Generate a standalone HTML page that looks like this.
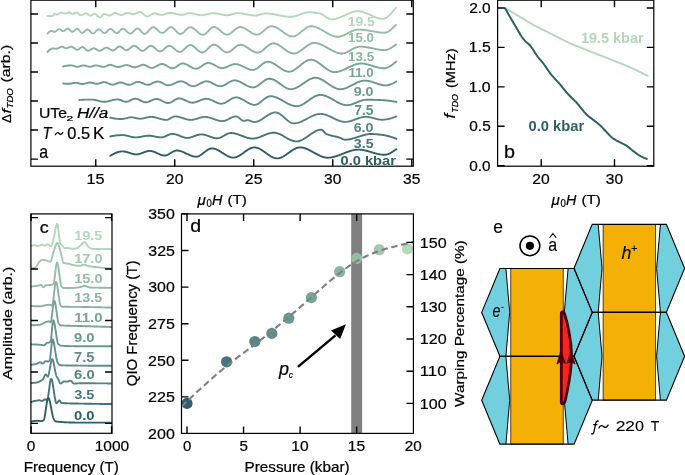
<!DOCTYPE html><html><head><meta charset="utf-8"><style>html,body{margin:0;padding:0;background:#fff;}svg{display:block;will-change:transform;}</style></head><body>
<svg width="685" height="475" viewBox="0 0 685 475" font-family='"Liberation Sans", sans-serif'>
<rect width="685" height="475" fill="#fff"/>
<path d="M47.20,15.90 L47.70,15.93 L48.20,15.95 L48.70,15.97 L49.20,15.98 L49.70,15.99 L50.20,15.99 L50.70,16.00 L51.20,16.00 L51.70,16.00 L52.20,16.00 L52.70,15.75 L53.20,15.15 L53.70,14.49 L54.20,14.00 L54.70,13.92 L55.20,14.13 L55.70,14.45 L56.20,14.71 L56.70,14.80 L57.20,14.69 L57.70,14.47 L58.20,14.16 L58.70,13.80 L59.20,13.43 L59.70,13.07 L60.20,12.78 L60.70,12.58 L61.20,12.50 L61.70,12.56 L62.20,12.72 L62.70,12.93 L63.20,13.17 L63.70,13.38 L64.20,13.54 L64.70,13.60 L65.20,13.55 L65.70,13.42 L66.20,13.24 L66.70,13.02 L67.20,12.81 L67.70,12.61 L68.20,12.47 L68.70,12.40 L69.20,12.45 L69.70,12.61 L70.20,12.86 L70.70,13.15 L71.20,13.44 L71.70,13.69 L72.20,13.85 L72.70,13.90 L73.20,13.81 L73.70,13.62 L74.20,13.36 L74.70,13.09 L75.20,12.83 L75.70,12.63 L76.20,12.51 L76.70,12.53 L77.20,12.73 L77.70,13.05 L78.20,13.45 L78.70,13.89 L79.20,14.32 L79.70,14.69 L80.20,14.97 L80.70,15.10 L81.20,15.07 L81.70,14.96 L82.20,14.80 L82.70,14.58 L83.20,14.35 L83.70,14.10 L84.20,13.87 L84.70,13.67 L85.20,13.51 L85.70,13.42 L86.20,13.41 L86.70,13.54 L87.20,13.78 L87.70,14.10 L88.20,14.45 L88.70,14.80 L89.20,15.12 L89.70,15.36 L90.20,15.49 L90.70,15.48 L91.20,15.35 L91.70,15.14 L92.20,14.88 L92.70,14.59 L93.20,14.31 L93.70,14.07 L94.20,13.89 L94.70,13.80 L95.20,13.87 L95.70,14.12 L96.20,14.51 L96.70,15.00 L97.20,15.54 L97.70,16.09 L98.20,16.59 L98.70,17.01 L99.20,17.30 L99.70,17.40 L100.20,17.30 L100.70,17.02 L101.20,16.61 L101.70,16.12 L102.20,15.59 L102.70,15.08 L103.20,14.64 L103.70,14.30 L104.20,14.12 L104.70,14.11 L105.20,14.19 L105.70,14.31 L106.20,14.47 L106.70,14.66 L107.20,14.86 L107.70,15.05 L108.20,15.23 L108.70,15.37 L109.20,15.46 L109.70,15.50 L110.20,15.43 L110.70,15.26 L111.20,14.99 L111.70,14.67 L112.20,14.31 L112.70,13.94 L113.20,13.60 L113.70,13.29 L114.20,13.06 L114.70,12.92 L115.20,12.91 L115.70,12.98 L116.20,13.11 L116.70,13.30 L117.20,13.52 L117.70,13.77 L118.20,14.03 L118.70,14.28 L119.20,14.52 L119.70,14.72 L120.20,14.88 L120.70,14.97 L121.20,15.00 L121.70,14.94 L122.20,14.82 L122.70,14.64 L123.20,14.42 L123.70,14.18 L124.20,13.92 L124.70,13.67 L125.20,13.43 L125.70,13.22 L126.20,13.05 L126.70,12.94 L127.20,12.90 L127.70,12.92 L128.20,12.99 L128.70,13.08 L129.20,13.20 L129.70,13.34 L130.20,13.49 L130.70,13.63 L131.20,13.77 L131.70,13.90 L132.20,14.00 L132.70,14.07 L133.20,14.10 L133.70,14.08 L134.20,14.00 L134.70,13.86 L135.20,13.69 L135.70,13.48 L136.20,13.26 L136.70,13.03 L137.20,12.79 L137.70,12.57 L138.20,12.37 L138.70,12.21 L139.20,12.08 L139.70,12.01 L140.20,12.01 L140.70,12.11 L141.20,12.32 L141.70,12.60 L142.20,12.96 L142.70,13.36 L143.20,13.80 L143.70,14.25 L144.20,14.70 L144.70,15.14 L145.20,15.54 L145.70,15.90 L146.20,16.18 L146.70,16.39 L147.20,16.49 L147.70,16.48 L148.20,16.39 L148.70,16.22 L149.20,15.99 L149.70,15.72 L150.20,15.41 L150.70,15.08 L151.20,14.75 L151.70,14.43 L152.20,14.13 L152.70,13.86 L153.20,13.64 L153.70,13.49 L154.20,13.41 L154.70,13.41 L155.20,13.45 L155.70,13.53 L156.20,13.64 L156.70,13.77 L157.20,13.92 L157.70,14.07 L158.20,14.23 L158.70,14.38 L159.20,14.53 L159.70,14.66 L160.20,14.77 L160.70,14.85 L161.20,14.89 L161.70,14.90 L162.20,14.86 L162.70,14.79 L163.20,14.68 L163.70,14.55 L164.20,14.40 L164.70,14.24 L165.20,14.06 L165.70,13.88 L166.20,13.70 L166.70,13.53 L167.20,13.37 L167.70,13.22 L168.20,13.09 L168.70,13.00 L169.20,12.93 L169.70,12.90 L170.20,12.91 L170.70,12.93 L171.20,12.97 L171.70,13.02 L172.20,13.09 L172.70,13.17 L173.20,13.26 L173.70,13.36 L174.20,13.46 L174.70,13.57 L175.20,13.69 L175.70,13.80 L176.20,13.92 L176.70,14.04 L177.20,14.15 L177.70,14.26 L178.20,14.36 L178.70,14.46 L179.20,14.55 L179.70,14.62 L180.20,14.69 L180.70,14.74 L181.20,14.78 L181.70,14.80 L182.20,14.80 L182.70,14.76 L183.20,14.69 L183.70,14.59 L184.20,14.47 L184.70,14.33 L185.20,14.17 L185.70,14.02 L186.20,13.86 L186.70,13.70 L187.20,13.56 L187.70,13.43 L188.20,13.33 L188.70,13.25 L189.20,13.21 L189.70,13.20 L190.20,13.22 L190.70,13.25 L191.20,13.31 L191.70,13.37 L192.20,13.45 L192.70,13.54 L193.20,13.64 L193.70,13.75 L194.20,13.86 L194.70,13.98 L195.20,14.10 L195.70,14.22 L196.20,14.35 L196.70,14.47 L197.20,14.58 L197.70,14.70 L198.20,14.80 L198.70,14.90 L199.20,14.98 L199.70,15.06 L200.20,15.12 L200.70,15.16 L201.20,15.19 L201.70,15.20 L202.20,15.19 L202.70,15.16 L203.20,15.11 L203.70,15.04 L204.20,14.96 L204.70,14.87 L205.20,14.76 L205.70,14.65 L206.20,14.53 L206.70,14.41 L207.20,14.28 L207.70,14.15 L208.20,14.02 L208.70,13.89 L209.20,13.77 L209.70,13.66 L210.20,13.55 L210.70,13.46 L211.20,13.37 L211.70,13.30 L212.20,13.25 L212.70,13.22 L213.20,13.20 L213.70,13.21 L214.20,13.23 L214.70,13.26 L215.20,13.31 L215.70,13.37 L216.20,13.44 L216.70,13.52 L217.20,13.61 L217.70,13.70 L218.20,13.81 L218.70,13.91 L219.20,14.02 L219.70,14.14 L220.20,14.25 L220.70,14.36 L221.20,14.48 L221.70,14.59 L222.20,14.69 L222.70,14.80 L223.20,14.89 L223.70,14.98 L224.20,15.06 L224.70,15.13 L225.20,15.19 L225.70,15.24 L226.20,15.27 L226.70,15.29 L227.20,15.30 L227.70,15.28 L228.20,15.23 L228.70,15.16 L229.20,15.07 L229.70,14.96 L230.20,14.84 L230.70,14.70 L231.20,14.56 L231.70,14.40 L232.20,14.25 L232.70,14.09 L233.20,13.94 L233.70,13.79 L234.20,13.64 L234.70,13.51 L235.20,13.39 L235.70,13.29 L236.20,13.21 L236.70,13.15 L237.20,13.11 L237.70,13.10 L238.20,13.11 L238.70,13.13 L239.20,13.16 L239.70,13.20 L240.20,13.25 L240.70,13.31 L241.20,13.37 L241.70,13.45 L242.20,13.53 L242.70,13.61 L243.20,13.70 L243.70,13.80 L244.20,13.90 L244.70,14.00 L245.20,14.10 L245.70,14.21 L246.20,14.32 L246.70,14.42 L247.20,14.53 L247.70,14.64 L248.20,14.74 L248.70,14.84 L249.20,14.94 L249.70,15.03 L250.20,15.12 L250.70,15.21 L251.20,15.28 L251.70,15.35 L252.20,15.42 L252.70,15.47 L253.20,15.52 L253.70,15.55 L254.20,15.58 L254.70,15.60 L255.20,15.60 L255.70,15.58 L256.20,15.53 L256.70,15.46 L257.20,15.37 L257.70,15.26 L258.20,15.14 L258.70,15.00 L259.20,14.86 L259.70,14.70 L260.20,14.55 L260.70,14.39 L261.20,14.24 L261.70,14.09 L262.20,13.94 L262.70,13.81 L263.20,13.69 L263.70,13.59 L264.20,13.51 L264.70,13.45 L265.20,13.41 L265.70,13.40 L266.20,13.41 L266.70,13.42 L267.20,13.44 L267.70,13.47 L268.20,13.50 L268.70,13.54 L269.20,13.59 L269.70,13.64 L270.20,13.70 L270.70,13.76 L271.20,13.83 L271.70,13.90 L272.20,13.98 L272.70,14.06 L273.20,14.15 L273.70,14.23 L274.20,14.32 L274.70,14.42 L275.20,14.51 L275.70,14.61 L276.20,14.71 L276.70,14.81 L277.20,14.91 L277.70,15.01 L278.20,15.11 L278.70,15.21 L279.20,15.31 L279.70,15.41 L280.20,15.51 L280.70,15.61 L281.20,15.71 L281.70,15.80 L282.20,15.89 L282.70,15.98 L283.20,16.07 L283.70,16.15 L284.20,16.23 L284.70,16.31 L285.20,16.38 L285.70,16.45 L286.20,16.51 L286.70,16.57 L287.20,16.62 L287.70,16.67 L288.20,16.71 L288.70,16.74 L289.20,16.77 L289.70,16.78 L290.20,16.80 L290.70,16.80 L291.20,16.79 L291.70,16.76 L292.20,16.71 L292.70,16.65 L293.20,16.57 L293.70,16.48 L294.20,16.37 L294.70,16.25 L295.20,16.12 L295.70,15.98 L296.20,15.82 L296.70,15.67 L297.20,15.50 L297.70,15.33 L298.20,15.15 L298.70,14.97 L299.20,14.79 L299.70,14.61 L300.20,14.42 L300.70,14.24 L301.20,14.06 L301.70,13.88 L302.20,13.70 L302.70,13.53 L303.20,13.37 L303.70,13.21 L304.20,13.07 L304.70,12.93 L305.20,12.80 L305.70,12.69 L306.20,12.58 L306.70,12.50 L307.20,12.42 L307.70,12.36 L308.20,12.33 L308.70,12.30 L309.20,12.30 L309.70,12.31 L310.20,12.32 L310.70,12.34 L311.20,12.36 L311.70,12.39 L312.20,12.42 L312.70,12.46 L313.20,12.50 L313.70,12.55 L314.20,12.60 L314.70,12.65 L315.20,12.71 L315.70,12.78 L316.20,12.84 L316.70,12.91 L317.20,12.98 L317.70,13.05 L318.20,13.13 L318.70,13.21 L319.20,13.28 L319.70,13.38 L320.20,13.52 L320.70,13.70 L321.20,13.91 L321.70,14.16 L322.20,14.44 L322.70,14.74 L323.20,15.06 L323.70,15.40 L324.20,15.74 L324.70,16.10 L325.20,16.45 L325.70,16.81 L326.20,17.15 L326.70,17.49 L327.20,17.82 L327.70,18.12 L328.20,18.41 L328.70,18.66 L329.20,18.89 L329.70,19.08 L330.20,19.23 L330.70,19.33 L331.20,19.39 L331.70,19.40 L332.20,19.38 L332.70,19.35 L333.20,19.30 L333.70,19.24 L334.20,19.16 L334.70,19.07 L335.20,18.97 L335.70,18.85 L336.20,18.72 L336.70,18.58 L337.20,18.43 L337.70,18.26 L338.20,18.09 L338.70,17.91 L339.20,17.73 L339.70,17.53 L340.20,17.33 L340.70,17.12 L341.20,16.91 L341.70,16.69 L342.20,16.47 L342.70,16.24 L343.20,16.02 L343.70,15.79 L344.20,15.56 L344.70,15.32 L345.20,15.09 L345.70,14.86 L346.20,14.63 L346.70,14.40 L347.20,14.18 L347.70,13.95 L348.20,13.73 L348.70,13.52 L349.20,13.31 L349.70,13.11 L350.20,12.91 L350.70,12.72 L351.20,12.54 L351.70,12.37 L352.20,12.21 L352.70,12.05 L353.20,11.91 L353.70,11.78 L354.20,11.66 L354.70,11.55 L355.20,11.46 L355.70,11.37 L356.20,11.31 L356.70,11.26 L357.20,11.22 L357.70,11.20 L358.20,11.20 L358.70,11.22 L359.20,11.25 L359.70,11.30 L360.20,11.37 L360.70,11.45 L361.20,11.55 L361.70,11.66 L362.20,11.79 L362.70,11.93 L363.20,12.08 L363.70,12.24 L364.20,12.40 L364.70,12.58 L365.20,12.77 L365.70,12.97 L366.20,13.17 L366.70,13.38 L367.20,13.59 L367.70,13.81 L368.20,14.04 L368.70,14.26 L369.20,14.49 L369.70,14.72 L370.20,14.95 L370.70,15.19 L371.20,15.42 L371.70,15.65 L372.20,15.87 L372.70,16.10 L373.20,16.32 L373.70,16.54 L374.20,16.75 L374.70,16.95 L375.20,17.15 L375.70,17.34 L376.20,17.52 L376.70,17.70 L377.20,17.86 L377.70,18.02 L378.20,18.16 L378.70,18.29 L379.20,18.40 L379.70,18.51 L380.20,18.60 L380.70,18.67 L381.20,18.73 L381.70,18.77 L382.20,18.79 L382.70,18.80 L383.20,18.77 L383.70,18.69 L384.20,18.57 L384.70,18.41 L385.20,18.20 L385.70,17.96 L386.20,17.69 L386.70,17.38 L387.20,17.04 L387.70,16.67 L388.20,16.27 L388.70,15.84 L389.20,15.38 L389.70,14.91 L390.20,14.41 L390.70,13.89 L391.20,13.36 L391.70,12.81 L392.20,12.24 L392.70,11.67 L393.20,11.08 L393.70,10.48 L394.20,9.88 L394.70,9.27 L395.20,8.66 L395.70,8.05 L395.90,7.80" fill="none" stroke="#b2d9ba" stroke-width="1.9" stroke-linejoin="round" stroke-linecap="round"/>
<path d="M47.50,33.60 L48.00,33.01 L48.50,32.47 L49.00,32.00 L49.50,31.61 L50.00,31.29 L50.50,31.07 L51.00,30.93 L51.50,30.90 L52.00,30.99 L52.50,31.16 L53.00,31.37 L53.50,31.58 L54.00,31.74 L54.50,31.80 L55.00,31.72 L55.50,31.51 L56.00,31.20 L56.50,30.82 L57.00,30.42 L57.50,30.02 L58.00,29.67 L58.50,29.39 L59.00,29.23 L59.50,29.21 L60.00,29.36 L60.50,29.63 L61.00,29.98 L61.50,30.35 L62.00,30.70 L62.50,30.99 L63.00,31.17 L63.50,31.18 L64.00,31.02 L64.50,30.71 L65.00,30.30 L65.50,29.85 L66.00,29.41 L66.50,29.02 L67.00,28.74 L67.50,28.60 L68.00,28.66 L68.50,28.88 L69.00,29.23 L69.50,29.67 L70.00,30.15 L70.50,30.64 L71.00,31.08 L71.50,31.45 L72.00,31.71 L72.50,31.80 L73.00,31.70 L73.50,31.44 L74.00,31.05 L74.50,30.59 L75.00,30.10 L75.50,29.64 L76.00,29.23 L76.50,28.94 L77.00,28.80 L77.50,28.88 L78.00,29.16 L78.50,29.60 L79.00,30.16 L79.50,30.77 L80.00,31.40 L80.50,31.99 L81.00,32.48 L81.50,32.83 L82.00,33.00 L82.50,32.94 L83.00,32.73 L83.50,32.40 L84.00,31.97 L84.50,31.50 L85.00,31.00 L85.50,30.53 L86.00,30.10 L86.50,29.77 L87.00,29.56 L87.50,29.50 L88.00,29.62 L88.50,29.89 L89.00,30.27 L89.50,30.73 L90.00,31.24 L90.50,31.76 L91.00,32.26 L91.50,32.71 L92.00,33.07 L92.50,33.31 L93.00,33.40 L93.50,33.31 L94.00,33.07 L94.50,32.70 L95.00,32.24 L95.50,31.73 L96.00,31.19 L96.50,30.66 L97.00,30.18 L97.50,29.77 L98.00,29.47 L98.50,29.31 L99.00,29.33 L99.50,29.50 L100.00,29.80 L100.50,30.20 L101.00,30.66 L101.50,31.15 L102.00,31.65 L102.50,32.11 L103.00,32.52 L103.50,32.85 L104.00,33.05 L104.50,33.10 L105.00,32.99 L105.50,32.74 L106.00,32.38 L106.50,31.95 L107.00,31.46 L107.50,30.95 L108.00,30.44 L108.50,29.96 L109.00,29.54 L109.50,29.20 L110.00,28.98 L110.50,28.90 L111.00,28.98 L111.50,29.20 L112.00,29.54 L112.50,29.96 L113.00,30.44 L113.50,30.95 L114.00,31.46 L114.50,31.95 L115.00,32.38 L115.50,32.74 L116.00,32.99 L116.50,33.10 L117.00,33.05 L117.50,32.86 L118.00,32.56 L118.50,32.16 L119.00,31.70 L119.50,31.21 L120.00,30.69 L120.50,30.20 L121.00,29.74 L121.50,29.34 L122.00,29.04 L122.50,28.85 L123.00,28.80 L123.50,28.89 L124.00,29.09 L124.50,29.39 L125.00,29.76 L125.50,30.19 L126.00,30.66 L126.50,31.15 L127.00,31.64 L127.50,32.12 L128.00,32.55 L128.50,32.94 L129.00,33.25 L129.50,33.48 L130.00,33.59 L130.50,33.57 L131.00,33.43 L131.50,33.17 L132.00,32.82 L132.50,32.40 L133.00,31.92 L133.50,31.42 L134.00,30.89 L134.50,30.38 L135.00,29.88 L135.50,29.44 L136.00,29.06 L136.50,28.76 L137.00,28.57 L137.50,28.50 L138.00,28.57 L138.50,28.78 L139.00,29.09 L139.50,29.50 L140.00,29.97 L140.50,30.49 L141.00,31.04 L141.50,31.59 L142.00,32.12 L142.50,32.62 L143.00,33.05 L143.50,33.41 L144.00,33.66 L144.50,33.79 L145.00,33.77 L145.50,33.63 L146.00,33.36 L146.50,33.00 L147.00,32.56 L147.50,32.05 L148.00,31.50 L148.50,30.92 L149.00,30.32 L149.50,29.73 L150.00,29.16 L150.50,28.64 L151.00,28.16 L151.50,27.77 L152.00,27.46 L152.50,27.27 L153.00,27.20 L153.50,27.25 L154.00,27.38 L154.50,27.60 L155.00,27.88 L155.50,28.21 L156.00,28.60 L156.50,29.01 L157.00,29.46 L157.50,29.91 L158.00,30.37 L158.50,30.82 L159.00,31.26 L159.50,31.66 L160.00,32.03 L160.50,32.34 L161.00,32.60 L161.50,32.78 L162.00,32.88 L162.50,32.89 L163.00,32.80 L163.50,32.60 L164.00,32.33 L164.50,31.99 L165.00,31.59 L165.50,31.15 L166.00,30.68 L166.50,30.20 L167.00,29.71 L167.50,29.23 L168.00,28.77 L168.50,28.34 L169.00,27.97 L169.50,27.65 L170.00,27.41 L170.50,27.25 L171.00,27.20 L171.50,27.26 L172.00,27.42 L172.50,27.67 L173.00,28.01 L173.50,28.41 L174.00,28.87 L174.50,29.36 L175.00,29.89 L175.50,30.44 L176.00,30.98 L176.50,31.52 L177.00,32.04 L177.50,32.52 L178.00,32.96 L178.50,33.33 L179.00,33.64 L179.50,33.86 L180.00,33.98 L180.50,33.99 L181.00,33.90 L181.50,33.73 L182.00,33.48 L182.50,33.16 L183.00,32.78 L183.50,32.36 L184.00,31.90 L184.50,31.41 L185.00,30.91 L185.50,30.40 L186.00,29.89 L186.50,29.40 L187.00,28.93 L187.50,28.50 L188.00,28.11 L188.50,27.78 L189.00,27.51 L189.50,27.32 L190.00,27.22 L190.50,27.21 L191.00,27.27 L191.50,27.39 L192.00,27.58 L192.50,27.81 L193.00,28.10 L193.50,28.42 L194.00,28.78 L194.50,29.17 L195.00,29.58 L195.50,30.01 L196.00,30.46 L196.50,30.91 L197.00,31.36 L197.50,31.81 L198.00,32.25 L198.50,32.67 L199.00,33.07 L199.50,33.44 L200.00,33.78 L200.50,34.08 L201.00,34.33 L201.50,34.54 L202.00,34.69 L202.50,34.78 L203.00,34.80 L203.50,34.73 L204.00,34.58 L204.50,34.35 L205.00,34.06 L205.50,33.70 L206.00,33.29 L206.50,32.84 L207.00,32.36 L207.50,31.85 L208.00,31.32 L208.50,30.79 L209.00,30.26 L209.50,29.75 L210.00,29.25 L210.50,28.77 L211.00,28.34 L211.50,27.95 L212.00,27.62 L212.50,27.35 L213.00,27.15 L213.50,27.03 L214.00,27.00 L214.50,27.05 L215.00,27.15 L215.50,27.31 L216.00,27.52 L216.50,27.77 L217.00,28.06 L217.50,28.39 L218.00,28.74 L218.50,29.13 L219.00,29.53 L219.50,29.94 L220.00,30.37 L220.50,30.80 L221.00,31.23 L221.50,31.66 L222.00,32.07 L222.50,32.47 L223.00,32.86 L223.50,33.21 L224.00,33.54 L224.50,33.83 L225.00,34.08 L225.50,34.29 L226.00,34.45 L226.50,34.55 L227.00,34.60 L227.50,34.58 L228.00,34.50 L228.50,34.36 L229.00,34.17 L229.50,33.93 L230.00,33.65 L230.50,33.33 L231.00,32.98 L231.50,32.60 L232.00,32.21 L232.50,31.79 L233.00,31.36 L233.50,30.93 L234.00,30.50 L234.50,30.06 L235.00,29.64 L235.50,29.23 L236.00,28.84 L236.50,28.48 L237.00,28.14 L237.50,27.84 L238.00,27.57 L238.50,27.35 L239.00,27.18 L239.50,27.06 L240.00,27.01 L240.50,27.01 L241.00,27.05 L241.50,27.13 L242.00,27.25 L242.50,27.39 L243.00,27.57 L243.50,27.77 L244.00,28.00 L244.50,28.25 L245.00,28.52 L245.50,28.81 L246.00,29.11 L246.50,29.43 L247.00,29.75 L247.50,30.09 L248.00,30.43 L248.50,30.77 L249.00,31.11 L249.50,31.45 L250.00,31.78 L250.50,32.11 L251.00,32.42 L251.50,32.73 L252.00,33.02 L252.50,33.30 L253.00,33.55 L253.50,33.78 L254.00,33.99 L254.50,34.17 L255.00,34.33 L255.50,34.45 L256.00,34.54 L256.50,34.59 L257.00,34.60 L257.50,34.56 L258.00,34.46 L258.50,34.32 L259.00,34.13 L259.50,33.90 L260.00,33.62 L260.50,33.32 L261.00,32.98 L261.50,32.62 L262.00,32.24 L262.50,31.84 L263.00,31.43 L263.50,31.00 L264.00,30.57 L264.50,30.14 L265.00,29.71 L265.50,29.29 L266.00,28.88 L266.50,28.48 L267.00,28.10 L267.50,27.75 L268.00,27.42 L268.50,27.12 L269.00,26.85 L269.50,26.63 L270.00,26.45 L270.50,26.31 L271.00,26.23 L271.50,26.20 L272.00,26.22 L272.50,26.27 L273.00,26.35 L273.50,26.46 L274.00,26.59 L274.50,26.75 L275.00,26.94 L275.50,27.15 L276.00,27.38 L276.50,27.63 L277.00,27.90 L277.50,28.19 L278.00,28.49 L278.50,28.80 L279.00,29.13 L279.50,29.46 L280.00,29.80 L280.50,30.15 L281.00,30.51 L281.50,30.87 L282.00,31.23 L282.50,31.59 L283.00,31.95 L283.50,32.30 L284.00,32.66 L284.50,33.00 L285.00,33.34 L285.50,33.67 L286.00,33.99 L286.50,34.29 L287.00,34.58 L287.50,34.86 L288.00,35.12 L288.50,35.36 L289.00,35.58 L289.50,35.77 L290.00,35.95 L290.50,36.09 L291.00,36.21 L291.50,36.31 L292.00,36.37 L292.50,36.40 L293.00,36.39 L293.50,36.34 L294.00,36.25 L294.50,36.13 L295.00,35.96 L295.50,35.76 L296.00,35.53 L296.50,35.27 L297.00,34.99 L297.50,34.68 L298.00,34.35 L298.50,34.00 L299.00,33.63 L299.50,33.25 L300.00,32.86 L300.50,32.46 L301.00,32.05 L301.50,31.63 L302.00,31.22 L302.50,30.80 L303.00,30.39 L303.50,29.98 L304.00,29.58 L304.50,29.20 L305.00,28.82 L305.50,28.46 L306.00,28.12 L306.50,27.79 L307.00,27.49 L307.50,27.22 L308.00,26.97 L308.50,26.75 L309.00,26.57 L309.50,26.42 L310.00,26.31 L310.50,26.23 L311.00,26.20 L311.50,26.21 L312.00,26.24 L312.50,26.28 L313.00,26.35 L313.50,26.44 L314.00,26.55 L314.50,26.68 L315.00,26.82 L315.50,26.97 L316.00,27.15 L316.50,27.33 L317.00,27.53 L317.50,27.75 L318.00,27.97 L318.50,28.20 L319.00,28.45 L319.50,28.70 L320.00,28.97 L320.50,29.24 L321.00,29.51 L321.50,29.79 L322.00,30.08 L322.50,30.37 L323.00,30.67 L323.50,30.96 L324.00,31.26 L324.50,31.56 L325.00,31.86 L325.50,32.16 L326.00,32.45 L326.50,32.74 L327.00,33.03 L327.50,33.32 L328.00,33.60 L328.50,33.87 L329.00,34.14 L329.50,34.40 L330.00,34.65 L330.50,34.89 L331.00,35.12 L331.50,35.34 L332.00,35.55 L332.50,35.74 L333.00,35.92 L333.50,36.09 L334.00,36.24 L334.50,36.38 L335.00,36.49 L335.50,36.59 L336.00,36.68 L336.50,36.74 L337.00,36.78 L337.50,36.80 L338.00,36.80 L338.50,36.77 L339.00,36.72 L339.50,36.64 L340.00,36.55 L340.50,36.43 L341.00,36.30 L341.50,36.14 L342.00,35.98 L342.50,35.79 L343.00,35.59 L343.50,35.38 L344.00,35.16 L344.50,34.93 L345.00,34.69 L345.50,34.45 L346.00,34.19 L346.50,33.94 L347.00,33.68 L347.50,33.41 L348.00,33.15 L348.50,32.88 L349.00,32.62 L349.50,32.36 L350.00,32.10 L350.50,31.85 L351.00,31.61 L351.50,31.37 L352.00,31.15 L352.50,30.93 L353.00,30.73 L353.50,30.53 L354.00,30.36 L354.50,30.19 L355.00,30.05 L355.50,29.92 L356.00,29.81 L356.50,29.73 L357.00,29.66 L357.50,29.62 L358.00,29.60 L358.50,29.60 L359.00,29.61 L359.50,29.62 L360.00,29.65 L360.50,29.67 L361.00,29.70 L361.50,29.74 L362.00,29.78 L362.50,29.83 L363.00,29.88 L363.50,29.93 L364.00,29.99 L364.50,30.05 L365.00,30.12 L365.50,30.19 L366.00,30.26 L366.50,30.33 L367.00,30.41 L367.50,30.49 L368.00,30.57 L368.50,30.65 L369.00,30.74 L369.50,30.82 L370.00,30.91 L370.50,30.99 L371.00,31.08 L371.50,31.17 L372.00,31.25 L372.50,31.34 L373.00,31.43 L373.50,31.51 L374.00,31.60 L374.50,31.68 L375.00,31.76 L375.50,31.84 L376.00,31.92 L376.50,32.00 L377.00,32.07 L377.50,32.14 L378.00,32.21 L378.50,32.27 L379.00,32.33 L379.50,32.39 L380.00,32.44 L380.50,32.49 L381.00,32.54 L381.50,32.58 L382.00,32.61 L382.50,32.64 L383.00,32.66 L383.50,32.68 L384.00,32.69 L384.50,32.70 L385.00,32.69 L385.50,32.64 L386.00,32.53 L386.50,32.39 L387.00,32.20 L387.50,31.97 L388.00,31.71 L388.50,31.41 L389.00,31.09 L389.50,30.73 L390.00,30.35 L390.50,29.95 L391.00,29.53 L391.50,29.09 L392.00,28.63 L392.50,28.17 L393.00,27.69 L393.50,27.21 L394.00,26.73 L394.50,26.24 L395.00,25.76 L395.50,25.28 L395.90,24.90" fill="none" stroke="#94bda8" stroke-width="1.9" stroke-linejoin="round" stroke-linecap="round"/>
<path d="M47.50,52.00 L48.00,51.46 L48.50,50.95 L49.00,50.48 L49.50,50.03 L50.00,49.64 L50.50,49.29 L51.00,49.00 L51.50,48.77 L52.00,48.60 L52.50,48.51 L53.00,48.50 L53.50,48.52 L54.00,48.55 L54.50,48.60 L55.00,48.64 L55.50,48.67 L56.00,48.70 L56.50,48.69 L57.00,48.62 L57.50,48.47 L58.00,48.27 L58.50,48.04 L59.00,47.78 L59.50,47.52 L60.00,47.27 L60.50,47.04 L61.00,46.86 L61.50,46.74 L62.00,46.70 L62.50,46.76 L63.00,46.91 L63.50,47.12 L64.00,47.37 L64.50,47.63 L65.00,47.87 L65.50,48.06 L66.00,48.18 L66.50,48.19 L67.00,48.12 L67.50,47.97 L68.00,47.78 L68.50,47.56 L69.00,47.34 L69.50,47.12 L70.00,46.93 L70.50,46.78 L71.00,46.71 L71.50,46.72 L72.00,46.85 L72.50,47.06 L73.00,47.35 L73.50,47.69 L74.00,48.06 L74.50,48.44 L75.00,48.81 L75.50,49.15 L76.00,49.44 L76.50,49.65 L77.00,49.78 L77.50,49.79 L78.00,49.66 L78.50,49.42 L79.00,49.10 L79.50,48.72 L80.00,48.32 L80.50,47.92 L81.00,47.56 L81.50,47.27 L82.00,47.07 L82.50,47.00 L83.00,47.09 L83.50,47.35 L84.00,47.72 L84.50,48.18 L85.00,48.69 L85.50,49.21 L86.00,49.71 L86.50,50.14 L87.00,50.47 L87.50,50.67 L88.00,50.69 L88.50,50.61 L89.00,50.46 L89.50,50.24 L90.00,49.99 L90.50,49.71 L91.00,49.41 L91.50,49.12 L92.00,48.85 L92.50,48.62 L93.00,48.44 L93.50,48.33 L94.00,48.30 L94.50,48.38 L95.00,48.54 L95.50,48.78 L96.00,49.07 L96.50,49.39 L97.00,49.71 L97.50,50.03 L98.00,50.32 L98.50,50.56 L99.00,50.72 L99.50,50.80 L100.00,50.77 L100.50,50.65 L101.00,50.47 L101.50,50.22 L102.00,49.93 L102.50,49.61 L103.00,49.27 L103.50,48.93 L104.00,48.60 L104.50,48.29 L105.00,48.03 L105.50,47.81 L106.00,47.67 L106.50,47.60 L107.00,47.64 L107.50,47.77 L108.00,47.99 L108.50,48.27 L109.00,48.59 L109.50,48.94 L110.00,49.30 L110.50,49.64 L111.00,49.95 L111.50,50.21 L112.00,50.39 L112.50,50.49 L113.00,50.48 L113.50,50.36 L114.00,50.14 L114.50,49.84 L115.00,49.49 L115.50,49.09 L116.00,48.67 L116.50,48.24 L117.00,47.83 L117.50,47.44 L118.00,47.09 L118.50,46.81 L119.00,46.61 L119.50,46.51 L120.00,46.52 L120.50,46.65 L121.00,46.87 L121.50,47.18 L122.00,47.53 L122.50,47.93 L123.00,48.35 L123.50,48.77 L124.00,49.17 L124.50,49.52 L125.00,49.83 L125.50,50.05 L126.00,50.18 L126.50,50.19 L127.00,50.10 L127.50,49.93 L128.00,49.68 L128.50,49.37 L129.00,49.01 L129.50,48.62 L130.00,48.21 L130.50,47.79 L131.00,47.38 L131.50,46.99 L132.00,46.63 L132.50,46.32 L133.00,46.07 L133.50,45.90 L134.00,45.81 L134.50,45.82 L135.00,45.93 L135.50,46.13 L136.00,46.40 L136.50,46.74 L137.00,47.12 L137.50,47.54 L138.00,47.98 L138.50,48.44 L139.00,48.88 L139.50,49.31 L140.00,49.71 L140.50,50.07 L141.00,50.37 L141.50,50.60 L142.00,50.75 L142.50,50.80 L143.00,50.75 L143.50,50.60 L144.00,50.37 L144.50,50.07 L145.00,49.71 L145.50,49.31 L146.00,48.88 L146.50,48.44 L147.00,47.98 L147.50,47.54 L148.00,47.12 L148.50,46.74 L149.00,46.40 L149.50,46.13 L150.00,45.93 L150.50,45.82 L151.00,45.81 L151.50,45.89 L152.00,46.06 L152.50,46.29 L153.00,46.59 L153.50,46.94 L154.00,47.33 L154.50,47.75 L155.00,48.19 L155.50,48.64 L156.00,49.08 L156.50,49.52 L157.00,49.93 L157.50,50.30 L158.00,50.63 L158.50,50.91 L159.00,51.12 L159.50,51.25 L160.00,51.30 L160.50,51.25 L161.00,51.12 L161.50,50.92 L162.00,50.65 L162.50,50.32 L163.00,49.95 L163.50,49.55 L164.00,49.12 L164.50,48.68 L165.00,48.24 L165.50,47.80 L166.00,47.39 L166.50,47.00 L167.00,46.64 L167.50,46.34 L168.00,46.09 L168.50,45.92 L169.00,45.82 L169.50,45.81 L170.00,45.88 L170.50,46.02 L171.00,46.24 L171.50,46.50 L172.00,46.82 L172.50,47.18 L173.00,47.57 L173.50,47.98 L174.00,48.41 L174.50,48.85 L175.00,49.29 L175.50,49.72 L176.00,50.13 L176.50,50.52 L177.00,50.88 L177.50,51.20 L178.00,51.46 L178.50,51.68 L179.00,51.82 L179.50,51.89 L180.00,51.88 L180.50,51.79 L181.00,51.61 L181.50,51.37 L182.00,51.07 L182.50,50.71 L183.00,50.31 L183.50,49.88 L184.00,49.41 L184.50,48.94 L185.00,48.45 L185.50,47.96 L186.00,47.49 L186.50,47.02 L187.00,46.59 L187.50,46.19 L188.00,45.83 L188.50,45.53 L189.00,45.29 L189.50,45.11 L190.00,45.02 L190.50,45.01 L191.00,45.07 L191.50,45.21 L192.00,45.41 L192.50,45.66 L193.00,45.97 L193.50,46.32 L194.00,46.70 L194.50,47.11 L195.00,47.55 L195.50,48.00 L196.00,48.47 L196.50,48.94 L197.00,49.40 L197.50,49.86 L198.00,50.30 L198.50,50.72 L199.00,51.11 L199.50,51.47 L200.00,51.78 L200.50,52.04 L201.00,52.26 L201.50,52.40 L202.00,52.49 L202.50,52.49 L203.00,52.42 L203.50,52.26 L204.00,52.04 L204.50,51.76 L205.00,51.42 L205.50,51.03 L206.00,50.60 L206.50,50.14 L207.00,49.66 L207.50,49.16 L208.00,48.65 L208.50,48.14 L209.00,47.64 L209.50,47.15 L210.00,46.68 L210.50,46.24 L211.00,45.83 L211.50,45.47 L212.00,45.17 L212.50,44.92 L213.00,44.74 L213.50,44.63 L214.00,44.60 L214.50,44.65 L215.00,44.75 L215.50,44.92 L216.00,45.13 L216.50,45.39 L217.00,45.69 L217.50,46.02 L218.00,46.39 L218.50,46.78 L219.00,47.19 L219.50,47.62 L220.00,48.06 L220.50,48.50 L221.00,48.94 L221.50,49.38 L222.00,49.81 L222.50,50.22 L223.00,50.61 L223.50,50.98 L224.00,51.31 L224.50,51.61 L225.00,51.87 L225.50,52.08 L226.00,52.25 L226.50,52.35 L227.00,52.40 L227.50,52.38 L228.00,52.30 L228.50,52.16 L229.00,51.97 L229.50,51.73 L230.00,51.45 L230.50,51.13 L231.00,50.78 L231.50,50.40 L232.00,50.01 L232.50,49.59 L233.00,49.16 L233.50,48.73 L234.00,48.30 L234.50,47.86 L235.00,47.44 L235.50,47.03 L236.00,46.64 L236.50,46.28 L237.00,45.94 L237.50,45.64 L238.00,45.37 L238.50,45.15 L239.00,44.98 L239.50,44.86 L240.00,44.81 L240.50,44.81 L241.00,44.85 L241.50,44.92 L242.00,45.03 L242.50,45.17 L243.00,45.34 L243.50,45.53 L244.00,45.74 L244.50,45.98 L245.00,46.24 L245.50,46.51 L246.00,46.80 L246.50,47.10 L247.00,47.42 L247.50,47.74 L248.00,48.07 L248.50,48.40 L249.00,48.73 L249.50,49.07 L250.00,49.40 L250.50,49.73 L251.00,50.05 L251.50,50.36 L252.00,50.66 L252.50,50.94 L253.00,51.21 L253.50,51.47 L254.00,51.70 L254.50,51.91 L255.00,52.10 L255.50,52.26 L256.00,52.39 L256.50,52.50 L257.00,52.56 L257.50,52.60 L258.00,52.59 L258.50,52.53 L259.00,52.42 L259.50,52.26 L260.00,52.05 L260.50,51.81 L261.00,51.53 L261.50,51.21 L262.00,50.87 L262.50,50.50 L263.00,50.11 L263.50,49.70 L264.00,49.27 L264.50,48.84 L265.00,48.40 L265.50,47.95 L266.00,47.50 L266.50,47.06 L267.00,46.63 L267.50,46.20 L268.00,45.79 L268.50,45.40 L269.00,45.03 L269.50,44.69 L270.00,44.37 L270.50,44.09 L271.00,43.85 L271.50,43.64 L272.00,43.48 L272.50,43.37 L273.00,43.31 L273.50,43.30 L274.00,43.34 L274.50,43.40 L275.00,43.50 L275.50,43.63 L276.00,43.79 L276.50,43.97 L277.00,44.18 L277.50,44.42 L278.00,44.67 L278.50,44.95 L279.00,45.24 L279.50,45.55 L280.00,45.88 L280.50,46.21 L281.00,46.56 L281.50,46.92 L282.00,47.28 L282.50,47.65 L283.00,48.03 L283.50,48.40 L284.00,48.77 L284.50,49.15 L285.00,49.52 L285.50,49.88 L286.00,50.24 L286.50,50.59 L287.00,50.92 L287.50,51.25 L288.00,51.56 L288.50,51.85 L289.00,52.13 L289.50,52.38 L290.00,52.62 L290.50,52.83 L291.00,53.01 L291.50,53.17 L292.00,53.30 L292.50,53.40 L293.00,53.46 L293.50,53.50 L294.00,53.49 L294.50,53.45 L295.00,53.38 L295.50,53.27 L296.00,53.13 L296.50,52.96 L297.00,52.76 L297.50,52.54 L298.00,52.30 L298.50,52.03 L299.00,51.74 L299.50,51.43 L300.00,51.11 L300.50,50.77 L301.00,50.42 L301.50,50.06 L302.00,49.69 L302.50,49.32 L303.00,48.93 L303.50,48.55 L304.00,48.16 L304.50,47.77 L305.00,47.39 L305.50,47.01 L306.00,46.63 L306.50,46.26 L307.00,45.90 L307.50,45.56 L308.00,45.22 L308.50,44.90 L309.00,44.60 L309.50,44.32 L310.00,44.05 L310.50,43.81 L311.00,43.59 L311.50,43.40 L312.00,43.24 L312.50,43.11 L313.00,43.00 L313.50,42.94 L314.00,42.90 L314.50,42.90 L315.00,42.93 L315.50,42.97 L316.00,43.03 L316.50,43.11 L317.00,43.21 L317.50,43.32 L318.00,43.45 L318.50,43.60 L319.00,43.76 L319.50,43.93 L320.00,44.12 L320.50,44.31 L321.00,44.52 L321.50,44.74 L322.00,44.97 L322.50,45.21 L323.00,45.46 L323.50,45.72 L324.00,45.98 L324.50,46.25 L325.00,46.52 L325.50,46.80 L326.00,47.08 L326.50,47.36 L327.00,47.65 L327.50,47.94 L328.00,48.23 L328.50,48.52 L329.00,48.81 L329.50,49.09 L330.00,49.38 L330.50,49.66 L331.00,49.93 L331.50,50.21 L332.00,50.47 L332.50,50.73 L333.00,50.99 L333.50,51.23 L334.00,51.47 L334.50,51.70 L335.00,51.92 L335.50,52.13 L336.00,52.32 L336.50,52.51 L337.00,52.68 L337.50,52.83 L338.00,52.98 L338.50,53.10 L339.00,53.21 L339.50,53.31 L340.00,53.38 L340.50,53.44 L341.00,53.48 L341.50,53.50 L342.00,53.49 L342.50,53.46 L343.00,53.40 L343.50,53.31 L344.00,53.20 L344.50,53.07 L345.00,52.91 L345.50,52.74 L346.00,52.55 L346.50,52.34 L347.00,52.11 L347.50,51.88 L348.00,51.63 L348.50,51.37 L349.00,51.10 L349.50,50.83 L350.00,50.55 L350.50,50.27 L351.00,49.99 L351.50,49.71 L352.00,49.43 L352.50,49.16 L353.00,48.89 L353.50,48.63 L354.00,48.37 L354.50,48.13 L355.00,47.90 L355.50,47.68 L356.00,47.48 L356.50,47.29 L357.00,47.12 L357.50,46.97 L358.00,46.85 L358.50,46.75 L359.00,46.67 L359.50,46.62 L360.00,46.60 L360.50,46.60 L361.00,46.61 L361.50,46.63 L362.00,46.66 L362.50,46.69 L363.00,46.73 L363.50,46.78 L364.00,46.84 L364.50,46.90 L365.00,46.96 L365.50,47.03 L366.00,47.11 L366.50,47.19 L367.00,47.27 L367.50,47.36 L368.00,47.45 L368.50,47.55 L369.00,47.64 L369.50,47.74 L370.00,47.84 L370.50,47.95 L371.00,48.05 L371.50,48.16 L372.00,48.26 L372.50,48.37 L373.00,48.48 L373.50,48.58 L374.00,48.69 L374.50,48.79 L375.00,48.90 L375.50,49.00 L376.00,49.10 L376.50,49.19 L377.00,49.29 L377.50,49.38 L378.00,49.46 L378.50,49.55 L379.00,49.62 L379.50,49.70 L380.00,49.77 L380.50,49.83 L381.00,49.89 L381.50,49.94 L382.00,49.98 L382.50,50.02 L383.00,50.05 L383.50,50.08 L384.00,50.09 L384.50,50.10 L385.00,50.09 L385.50,50.06 L386.00,49.99 L386.50,49.89 L387.00,49.76 L387.50,49.60 L388.00,49.42 L388.50,49.22 L389.00,48.99 L389.50,48.75 L390.00,48.48 L390.50,48.20 L391.00,47.91 L391.50,47.60 L392.00,47.28 L392.50,46.95 L393.00,46.61 L393.50,46.27 L394.00,45.92 L394.50,45.58 L395.00,45.23 L395.50,44.88 L395.90,44.60" fill="none" stroke="#8ab3a2" stroke-width="1.9" stroke-linejoin="round" stroke-linecap="round"/>
<path d="M63.10,66.60 L63.60,66.42 L64.10,66.26 L64.60,66.12 L65.10,65.99 L65.60,65.88 L66.10,65.78 L66.60,65.70 L67.10,65.63 L67.60,65.57 L68.10,65.52 L68.60,65.48 L69.10,65.45 L69.60,65.43 L70.10,65.41 L70.60,65.41 L71.10,65.40 L71.60,65.41 L72.10,65.46 L72.60,65.56 L73.10,65.70 L73.60,65.86 L74.10,66.04 L74.60,66.23 L75.10,66.40 L75.60,66.56 L76.10,66.69 L76.60,66.77 L77.10,66.80 L77.60,66.78 L78.10,66.71 L78.60,66.61 L79.10,66.48 L79.60,66.34 L80.10,66.18 L80.60,66.02 L81.10,65.86 L81.60,65.72 L82.10,65.59 L82.60,65.49 L83.10,65.42 L83.60,65.40 L84.10,65.43 L84.60,65.50 L85.10,65.61 L85.60,65.74 L86.10,65.90 L86.60,66.07 L87.10,66.23 L87.60,66.40 L88.10,66.54 L88.60,66.66 L89.10,66.75 L89.60,66.80 L90.10,66.79 L90.60,66.73 L91.10,66.64 L91.60,66.51 L92.10,66.35 L92.60,66.19 L93.10,66.01 L93.60,65.85 L94.10,65.69 L94.60,65.56 L95.10,65.47 L95.60,65.41 L96.10,65.40 L96.60,65.43 L97.10,65.49 L97.60,65.58 L98.10,65.68 L98.60,65.81 L99.10,65.94 L99.60,66.08 L100.10,66.22 L100.60,66.36 L101.10,66.49 L101.60,66.62 L102.10,66.72 L102.60,66.81 L103.10,66.87 L103.60,66.90 L104.10,66.89 L104.60,66.80 L105.10,66.65 L105.60,66.46 L106.10,66.23 L106.60,65.98 L107.10,65.72 L107.60,65.47 L108.10,65.24 L108.60,65.05 L109.10,64.90 L109.60,64.81 L110.10,64.80 L110.60,64.85 L111.10,64.93 L111.60,65.04 L112.10,65.19 L112.60,65.36 L113.10,65.54 L113.60,65.74 L114.10,65.94 L114.60,66.14 L115.10,66.33 L115.60,66.51 L116.10,66.67 L116.60,66.81 L117.10,66.91 L117.60,66.98 L118.10,67.00 L118.60,66.98 L119.10,66.93 L119.60,66.84 L120.10,66.73 L120.60,66.60 L121.10,66.45 L121.60,66.29 L122.10,66.12 L122.60,65.95 L123.10,65.78 L123.60,65.62 L124.10,65.48 L124.60,65.35 L125.10,65.24 L125.60,65.16 L126.10,65.11 L126.60,65.10 L127.10,65.13 L127.60,65.21 L128.10,65.32 L128.60,65.46 L129.10,65.62 L129.60,65.81 L130.10,66.00 L130.60,66.20 L131.10,66.40 L131.60,66.59 L132.10,66.78 L132.60,66.94 L133.10,67.08 L133.60,67.19 L134.10,67.27 L134.60,67.30 L135.10,67.28 L135.60,67.23 L136.10,67.13 L136.60,67.00 L137.10,66.84 L137.60,66.66 L138.10,66.47 L138.60,66.26 L139.10,66.05 L139.60,65.84 L140.10,65.63 L140.60,65.44 L141.10,65.26 L141.60,65.10 L142.10,64.97 L142.60,64.87 L143.10,64.82 L143.60,64.80 L144.10,64.85 L144.60,64.95 L145.10,65.11 L145.60,65.31 L146.10,65.54 L146.60,65.79 L147.10,66.07 L147.60,66.35 L148.10,66.63 L148.60,66.91 L149.10,67.16 L149.60,67.39 L150.10,67.59 L150.60,67.75 L151.10,67.85 L151.60,67.90 L152.10,67.88 L152.60,67.82 L153.10,67.71 L153.60,67.56 L154.10,67.37 L154.60,67.16 L155.10,66.92 L155.60,66.67 L156.10,66.40 L156.60,66.12 L157.10,65.84 L157.60,65.56 L158.10,65.29 L158.60,65.03 L159.10,64.79 L159.60,64.57 L160.10,64.38 L160.60,64.22 L161.10,64.10 L161.60,64.03 L162.10,64.00 L162.60,64.03 L163.10,64.11 L163.60,64.24 L164.10,64.42 L164.60,64.63 L165.10,64.87 L165.60,65.13 L166.10,65.42 L166.60,65.72 L167.10,66.03 L167.60,66.34 L168.10,66.64 L168.60,66.94 L169.10,67.22 L169.60,67.48 L170.10,67.72 L170.60,67.92 L171.10,68.09 L171.60,68.21 L172.10,68.28 L172.60,68.30 L173.10,68.25 L173.60,68.14 L174.10,67.98 L174.60,67.77 L175.10,67.52 L175.60,67.24 L176.10,66.92 L176.60,66.59 L177.10,66.24 L177.60,65.89 L178.10,65.53 L178.60,65.18 L179.10,64.84 L179.60,64.52 L180.10,64.23 L180.60,63.98 L181.10,63.76 L181.60,63.58 L182.10,63.46 L182.60,63.41 L183.10,63.41 L183.60,63.46 L184.10,63.55 L184.60,63.67 L185.10,63.83 L185.60,64.02 L186.10,64.24 L186.60,64.48 L187.10,64.74 L187.60,65.01 L188.10,65.30 L188.60,65.60 L189.10,65.90 L189.60,66.20 L190.10,66.50 L190.60,66.80 L191.10,67.09 L191.60,67.36 L192.10,67.62 L192.60,67.86 L193.10,68.08 L193.60,68.27 L194.10,68.43 L194.60,68.55 L195.10,68.64 L195.60,68.69 L196.10,68.70 L196.60,68.65 L197.10,68.55 L197.60,68.40 L198.10,68.21 L198.60,67.98 L199.10,67.73 L199.60,67.44 L200.10,67.13 L200.60,66.81 L201.10,66.47 L201.60,66.12 L202.10,65.76 L202.60,65.41 L203.10,65.06 L203.60,64.73 L204.10,64.40 L204.60,64.10 L205.10,63.82 L205.60,63.57 L206.10,63.35 L206.60,63.17 L207.10,63.03 L207.60,62.94 L208.10,62.90 L208.60,62.91 L209.10,62.96 L209.60,63.05 L210.10,63.16 L210.60,63.31 L211.10,63.48 L211.60,63.67 L212.10,63.89 L212.60,64.12 L213.10,64.37 L213.60,64.62 L214.10,64.89 L214.60,65.17 L215.10,65.44 L215.60,65.72 L216.10,66.00 L216.60,66.27 L217.10,66.53 L217.60,66.78 L218.10,67.02 L218.60,67.25 L219.10,67.45 L219.60,67.63 L220.10,67.78 L220.60,67.91 L221.10,68.01 L221.60,68.07 L222.10,68.10 L222.60,68.09 L223.10,68.05 L223.60,67.97 L224.10,67.87 L224.60,67.75 L225.10,67.60 L225.60,67.43 L226.10,67.25 L226.60,67.05 L227.10,66.84 L227.60,66.62 L228.10,66.40 L228.60,66.17 L229.10,65.94 L229.60,65.71 L230.10,65.49 L230.60,65.28 L231.10,65.07 L231.60,64.88 L232.10,64.70 L232.60,64.54 L233.10,64.40 L233.60,64.28 L234.10,64.19 L234.60,64.13 L235.10,64.10 L235.60,64.10 L236.10,64.13 L236.60,64.19 L237.10,64.27 L237.60,64.37 L238.10,64.49 L238.60,64.64 L239.10,64.79 L239.60,64.97 L240.10,65.16 L240.60,65.36 L241.10,65.57 L241.60,65.80 L242.10,66.03 L242.60,66.27 L243.10,66.51 L243.60,66.75 L244.10,67.00 L244.60,67.25 L245.10,67.49 L245.60,67.73 L246.10,67.97 L246.60,68.20 L247.10,68.43 L247.60,68.64 L248.10,68.84 L248.60,69.03 L249.10,69.21 L249.60,69.36 L250.10,69.51 L250.60,69.63 L251.10,69.73 L251.60,69.81 L252.10,69.87 L252.60,69.90 L253.10,69.90 L253.60,69.85 L254.10,69.75 L254.60,69.60 L255.10,69.41 L255.60,69.18 L256.10,68.92 L256.60,68.62 L257.10,68.29 L257.60,67.94 L258.10,67.57 L258.60,67.19 L259.10,66.79 L259.60,66.38 L260.10,65.97 L260.60,65.55 L261.10,65.14 L261.60,64.73 L262.10,64.33 L262.60,63.95 L263.10,63.58 L263.60,63.24 L264.10,62.92 L264.60,62.63 L265.10,62.37 L265.60,62.15 L266.10,61.97 L266.60,61.83 L267.10,61.74 L267.60,61.70 L268.10,61.71 L268.60,61.75 L269.10,61.82 L269.60,61.92 L270.10,62.05 L270.60,62.21 L271.10,62.38 L271.60,62.58 L272.10,62.80 L272.60,63.04 L273.10,63.30 L273.60,63.58 L274.10,63.87 L274.60,64.17 L275.10,64.48 L275.60,64.81 L276.10,65.14 L276.60,65.48 L277.10,65.82 L277.60,66.17 L278.10,66.52 L278.60,66.88 L279.10,67.23 L279.60,67.58 L280.10,67.92 L280.60,68.26 L281.10,68.59 L281.60,68.92 L282.10,69.23 L282.60,69.53 L283.10,69.82 L283.60,70.10 L284.10,70.36 L284.60,70.60 L285.10,70.82 L285.60,71.02 L286.10,71.19 L286.60,71.35 L287.10,71.48 L287.60,71.58 L288.10,71.65 L288.60,71.69 L289.10,71.70 L289.60,71.67 L290.10,71.61 L290.60,71.52 L291.10,71.39 L291.60,71.23 L292.10,71.04 L292.60,70.83 L293.10,70.59 L293.60,70.32 L294.10,70.04 L294.60,69.73 L295.10,69.41 L295.60,69.07 L296.10,68.71 L296.60,68.34 L297.10,67.96 L297.60,67.57 L298.10,67.17 L298.60,66.77 L299.10,66.36 L299.60,65.95 L300.10,65.53 L300.60,65.12 L301.10,64.71 L301.60,64.31 L302.10,63.91 L302.60,63.52 L303.10,63.13 L303.60,62.76 L304.10,62.40 L304.60,62.06 L305.10,61.73 L305.60,61.42 L306.10,61.13 L306.60,60.86 L307.10,60.62 L307.60,60.40 L308.10,60.21 L308.60,60.04 L309.10,59.91 L309.60,59.81 L310.10,59.74 L310.60,59.70 L311.10,59.71 L311.60,59.74 L312.10,59.81 L312.60,59.90 L313.10,60.03 L313.60,60.18 L314.10,60.35 L314.60,60.55 L315.10,60.78 L315.60,61.02 L316.10,61.28 L316.60,61.56 L317.10,61.86 L317.60,62.18 L318.10,62.50 L318.60,62.85 L319.10,63.20 L319.60,63.56 L320.10,63.93 L320.60,64.31 L321.10,64.69 L321.60,65.08 L322.10,65.47 L322.60,65.86 L323.10,66.25 L323.60,66.64 L324.10,67.03 L324.60,67.42 L325.10,67.80 L325.60,68.17 L326.10,68.53 L326.60,68.89 L327.10,69.23 L327.60,69.56 L328.10,69.88 L328.60,70.18 L329.10,70.46 L329.60,70.73 L330.10,70.98 L330.60,71.20 L331.10,71.41 L331.60,71.59 L332.10,71.74 L332.60,71.87 L333.10,71.98 L333.60,72.05 L334.10,72.09 L334.60,72.10 L335.10,72.09 L335.60,72.06 L336.10,72.01 L336.60,71.95 L337.10,71.87 L337.60,71.78 L338.10,71.67 L338.60,71.55 L339.10,71.42 L339.60,71.27 L340.10,71.12 L340.60,70.95 L341.10,70.77 L341.60,70.59 L342.10,70.40 L342.60,70.19 L343.10,69.98 L343.60,69.77 L344.10,69.55 L344.60,69.32 L345.10,69.09 L345.60,68.86 L346.10,68.62 L346.60,68.38 L347.10,68.14 L347.60,67.90 L348.10,67.65 L348.60,67.41 L349.10,67.17 L349.60,66.93 L350.10,66.70 L350.60,66.46 L351.10,66.23 L351.60,66.01 L352.10,65.79 L352.60,65.57 L353.10,65.37 L353.60,65.17 L354.10,64.97 L354.60,64.79 L355.10,64.62 L355.60,64.45 L356.10,64.30 L356.60,64.16 L357.10,64.02 L357.60,63.91 L358.10,63.80 L358.60,63.71 L359.10,63.64 L359.60,63.58 L360.10,63.54 L360.60,63.51 L361.10,63.50 L361.60,63.51 L362.10,63.53 L362.60,63.56 L363.10,63.60 L363.60,63.66 L364.10,63.73 L364.60,63.80 L365.10,63.89 L365.60,63.99 L366.10,64.09 L366.60,64.20 L367.10,64.32 L367.60,64.45 L368.10,64.58 L368.60,64.72 L369.10,64.86 L369.60,65.00 L370.10,65.15 L370.60,65.31 L371.10,65.46 L371.60,65.62 L372.10,65.77 L372.60,65.93 L373.10,66.09 L373.60,66.25 L374.10,66.40 L374.60,66.56 L375.10,66.71 L375.60,66.85 L376.10,67.00 L376.60,67.14 L377.10,67.27 L377.60,67.40 L378.10,67.53 L378.60,67.64 L379.10,67.75 L379.60,67.85 L380.10,67.94 L380.60,68.03 L381.10,68.10 L381.60,68.16 L382.10,68.21 L382.60,68.25 L383.10,68.28 L383.60,68.30 L384.10,68.30 L384.60,68.27 L385.10,68.21 L385.60,68.12 L386.10,68.00 L386.60,67.85 L387.10,67.67 L387.60,67.48 L388.10,67.25 L388.60,67.01 L389.10,66.75 L389.60,66.46 L390.10,66.16 L390.60,65.85 L391.10,65.51 L391.60,65.17 L392.10,64.81 L392.60,64.44 L393.10,64.07 L393.60,63.68 L394.10,63.29 L394.60,62.89 L395.10,62.49 L395.60,62.09 L396.10,61.68 L396.20,61.60" fill="none" stroke="#79a498" stroke-width="1.9" stroke-linejoin="round" stroke-linecap="round"/>
<path d="M63.10,83.40 L63.60,83.48 L64.10,83.55 L64.60,83.60 L65.10,83.65 L65.60,83.69 L66.10,83.73 L66.60,83.75 L67.10,83.77 L67.60,83.79 L68.10,83.80 L68.60,83.80 L69.10,83.79 L69.60,83.76 L70.10,83.71 L70.60,83.64 L71.10,83.55 L71.60,83.45 L72.10,83.34 L72.60,83.24 L73.10,83.13 L73.60,83.03 L74.10,82.95 L74.60,82.88 L75.10,82.83 L75.60,82.80 L76.10,82.81 L76.60,82.85 L77.10,82.92 L77.60,83.03 L78.10,83.14 L78.60,83.28 L79.10,83.41 L79.60,83.55 L80.10,83.68 L80.60,83.80 L81.10,83.89 L81.60,83.96 L82.10,84.00 L82.60,83.99 L83.10,83.96 L83.60,83.89 L84.10,83.80 L84.60,83.69 L85.10,83.57 L85.60,83.43 L86.10,83.29 L86.60,83.15 L87.10,83.01 L87.60,82.88 L88.10,82.76 L88.60,82.66 L89.10,82.58 L89.60,82.52 L90.10,82.50 L90.60,82.51 L91.10,82.57 L91.60,82.65 L92.10,82.76 L92.60,82.89 L93.10,83.03 L93.60,83.18 L94.10,83.33 L94.60,83.46 L95.10,83.59 L95.60,83.69 L96.10,83.76 L96.60,83.80 L97.10,83.79 L97.60,83.74 L98.10,83.66 L98.60,83.55 L99.10,83.41 L99.60,83.25 L100.10,83.09 L100.60,82.92 L101.10,82.75 L101.60,82.58 L102.10,82.43 L102.60,82.30 L103.10,82.20 L103.60,82.13 L104.10,82.10 L104.60,82.12 L105.10,82.18 L105.60,82.29 L106.10,82.44 L106.60,82.62 L107.10,82.82 L107.60,83.03 L108.10,83.26 L108.60,83.49 L109.10,83.72 L109.60,83.94 L110.10,84.15 L110.60,84.33 L111.10,84.48 L111.60,84.60 L112.10,84.67 L112.60,84.70 L113.10,84.67 L113.60,84.60 L114.10,84.48 L114.60,84.33 L115.10,84.15 L115.60,83.96 L116.10,83.75 L116.60,83.54 L117.10,83.32 L117.60,83.12 L118.10,82.94 L118.60,82.77 L119.10,82.64 L119.60,82.55 L120.10,82.50 L120.60,82.51 L121.10,82.55 L121.60,82.63 L122.10,82.74 L122.60,82.88 L123.10,83.04 L123.60,83.21 L124.10,83.40 L124.60,83.59 L125.10,83.79 L125.60,83.98 L126.10,84.16 L126.60,84.33 L127.10,84.48 L127.60,84.60 L128.10,84.70 L128.60,84.77 L129.10,84.80 L129.60,84.78 L130.10,84.72 L130.60,84.60 L131.10,84.45 L131.60,84.27 L132.10,84.06 L132.60,83.84 L133.10,83.60 L133.60,83.35 L134.10,83.10 L134.60,82.86 L135.10,82.64 L135.60,82.43 L136.10,82.25 L136.60,82.10 L137.10,81.98 L137.60,81.92 L138.10,81.90 L138.60,81.93 L139.10,82.00 L139.60,82.11 L140.10,82.24 L140.60,82.40 L141.10,82.59 L141.60,82.79 L142.10,83.00 L142.60,83.22 L143.10,83.44 L143.60,83.66 L144.10,83.87 L144.60,84.07 L145.10,84.26 L145.60,84.43 L146.10,84.57 L146.60,84.68 L147.10,84.76 L147.60,84.80 L148.10,84.79 L148.60,84.74 L149.10,84.64 L149.60,84.51 L150.10,84.35 L150.60,84.16 L151.10,83.94 L151.60,83.71 L152.10,83.47 L152.60,83.22 L153.10,82.98 L153.60,82.73 L154.10,82.49 L154.60,82.27 L155.10,82.06 L155.60,81.88 L156.10,81.73 L156.60,81.61 L157.10,81.53 L157.60,81.50 L158.10,81.52 L158.60,81.58 L159.10,81.68 L159.60,81.82 L160.10,82.00 L160.60,82.20 L161.10,82.42 L161.60,82.66 L162.10,82.92 L162.60,83.19 L163.10,83.45 L163.60,83.72 L164.10,83.98 L164.60,84.23 L165.10,84.47 L165.60,84.69 L166.10,84.88 L166.60,85.04 L167.10,85.16 L167.60,85.25 L168.10,85.30 L168.60,85.29 L169.10,85.25 L169.60,85.18 L170.10,85.08 L170.60,84.95 L171.10,84.80 L171.60,84.63 L172.10,84.44 L172.60,84.23 L173.10,84.02 L173.60,83.79 L174.10,83.56 L174.60,83.32 L175.10,83.09 L175.60,82.85 L176.10,82.63 L176.60,82.41 L177.10,82.20 L177.60,82.01 L178.10,81.83 L178.60,81.67 L179.10,81.54 L179.60,81.44 L180.10,81.36 L180.60,81.31 L181.10,81.30 L181.60,81.33 L182.10,81.41 L182.60,81.53 L183.10,81.68 L183.60,81.86 L184.10,82.08 L184.60,82.31 L185.10,82.57 L185.60,82.84 L186.10,83.13 L186.60,83.42 L187.10,83.72 L187.60,84.02 L188.10,84.31 L188.60,84.60 L189.10,84.88 L189.60,85.14 L190.10,85.38 L190.60,85.60 L191.10,85.79 L191.60,85.95 L192.10,86.07 L192.60,86.15 L193.10,86.20 L193.60,86.19 L194.10,86.15 L194.60,86.06 L195.10,85.95 L195.60,85.80 L196.10,85.62 L196.60,85.42 L197.10,85.20 L197.60,84.96 L198.10,84.71 L198.60,84.44 L199.10,84.17 L199.60,83.89 L200.10,83.61 L200.60,83.33 L201.10,83.06 L201.60,82.79 L202.10,82.54 L202.60,82.30 L203.10,82.08 L203.60,81.88 L204.10,81.70 L204.60,81.55 L205.10,81.44 L205.60,81.35 L206.10,81.31 L206.60,81.30 L207.10,81.34 L207.60,81.40 L208.10,81.50 L208.60,81.62 L209.10,81.78 L209.60,81.95 L210.10,82.15 L210.60,82.36 L211.10,82.59 L211.60,82.83 L212.10,83.08 L212.60,83.33 L213.10,83.59 L213.60,83.85 L214.10,84.12 L214.60,84.37 L215.10,84.62 L215.60,84.87 L216.10,85.10 L216.60,85.31 L217.10,85.51 L217.60,85.69 L218.10,85.85 L218.60,85.98 L219.10,86.08 L219.60,86.15 L220.10,86.19 L220.60,86.20 L221.10,86.16 L221.60,86.08 L222.10,85.97 L222.60,85.82 L223.10,85.64 L223.60,85.44 L224.10,85.21 L224.60,84.96 L225.10,84.70 L225.60,84.42 L226.10,84.12 L226.60,83.82 L227.10,83.52 L227.60,83.21 L228.10,82.90 L228.60,82.60 L229.10,82.30 L229.60,82.01 L230.10,81.74 L230.60,81.49 L231.10,81.25 L231.60,81.04 L232.10,80.85 L232.60,80.69 L233.10,80.56 L233.60,80.47 L234.10,80.41 L234.60,80.40 L235.10,80.42 L235.60,80.47 L236.10,80.55 L236.60,80.65 L237.10,80.78 L237.60,80.93 L238.10,81.10 L238.60,81.29 L239.10,81.49 L239.60,81.72 L240.10,81.95 L240.60,82.20 L241.10,82.46 L241.60,82.72 L242.10,83.00 L242.60,83.28 L243.10,83.56 L243.60,83.84 L244.10,84.13 L244.60,84.41 L245.10,84.69 L245.60,84.97 L246.10,85.24 L246.60,85.50 L247.10,85.75 L247.60,85.99 L248.10,86.22 L248.60,86.43 L249.10,86.63 L249.60,86.81 L250.10,86.96 L250.60,87.10 L251.10,87.21 L251.60,87.30 L252.10,87.36 L252.60,87.39 L253.10,87.40 L253.60,87.35 L254.10,87.27 L254.60,87.14 L255.10,86.98 L255.60,86.78 L256.10,86.55 L256.60,86.30 L257.10,86.01 L257.60,85.70 L258.10,85.37 L258.60,85.03 L259.10,84.67 L259.60,84.29 L260.10,83.91 L260.60,83.52 L261.10,83.13 L261.60,82.74 L262.10,82.35 L262.60,81.96 L263.10,81.58 L263.60,81.22 L264.10,80.86 L264.60,80.53 L265.10,80.21 L265.60,79.91 L266.10,79.65 L266.60,79.40 L267.10,79.19 L267.60,79.02 L268.10,78.88 L268.60,78.77 L269.10,78.71 L269.60,78.70 L270.10,78.72 L270.60,78.78 L271.10,78.87 L271.60,78.98 L272.10,79.13 L272.60,79.30 L273.10,79.49 L273.60,79.71 L274.10,79.95 L274.60,80.20 L275.10,80.48 L275.60,80.77 L276.10,81.08 L276.60,81.40 L277.10,81.73 L277.60,82.07 L278.10,82.42 L278.60,82.78 L279.10,83.14 L279.60,83.51 L280.10,83.88 L280.60,84.24 L281.10,84.61 L281.60,84.97 L282.10,85.33 L282.60,85.69 L283.10,86.03 L283.60,86.37 L284.10,86.69 L284.60,87.01 L285.10,87.30 L285.60,87.59 L286.10,87.85 L286.60,88.10 L287.10,88.32 L287.60,88.53 L288.10,88.71 L288.60,88.86 L289.10,88.99 L289.60,89.09 L290.10,89.16 L290.60,89.19 L291.10,89.20 L291.60,89.17 L292.10,89.12 L292.60,89.04 L293.10,88.94 L293.60,88.82 L294.10,88.67 L294.60,88.50 L295.10,88.32 L295.60,88.11 L296.10,87.89 L296.60,87.65 L297.10,87.39 L297.60,87.12 L298.10,86.84 L298.60,86.55 L299.10,86.24 L299.60,85.93 L300.10,85.61 L300.60,85.28 L301.10,84.95 L301.60,84.61 L302.10,84.26 L302.60,83.92 L303.10,83.57 L303.60,83.22 L304.10,82.88 L304.60,82.53 L305.10,82.19 L305.60,81.85 L306.10,81.52 L306.60,81.20 L307.10,80.88 L307.60,80.57 L308.10,80.27 L308.60,79.99 L309.10,79.71 L309.60,79.45 L310.10,79.21 L310.60,78.98 L311.10,78.76 L311.60,78.57 L312.10,78.39 L312.60,78.24 L313.10,78.10 L313.60,77.99 L314.10,77.91 L314.60,77.84 L315.10,77.81 L315.60,77.80 L316.10,77.82 L316.60,77.87 L317.10,77.94 L317.60,78.03 L318.10,78.15 L318.60,78.29 L319.10,78.46 L319.60,78.64 L320.10,78.84 L320.60,79.06 L321.10,79.29 L321.60,79.54 L322.10,79.81 L322.60,80.08 L323.10,80.37 L323.60,80.67 L324.10,80.98 L324.60,81.30 L325.10,81.63 L325.60,81.96 L326.10,82.30 L326.60,82.64 L327.10,82.98 L327.60,83.33 L328.10,83.67 L328.60,84.02 L329.10,84.36 L329.60,84.70 L330.10,85.04 L330.60,85.37 L331.10,85.70 L331.60,86.02 L332.10,86.33 L332.60,86.63 L333.10,86.92 L333.60,87.19 L334.10,87.46 L334.60,87.71 L335.10,87.94 L335.60,88.16 L336.10,88.36 L336.60,88.54 L337.10,88.71 L337.60,88.85 L338.10,88.97 L338.60,89.06 L339.10,89.13 L339.60,89.18 L340.10,89.20 L340.60,89.19 L341.10,89.17 L341.60,89.12 L342.10,89.06 L342.60,88.97 L343.10,88.87 L343.60,88.76 L344.10,88.62 L344.60,88.48 L345.10,88.32 L345.60,88.15 L346.10,87.96 L346.60,87.77 L347.10,87.56 L347.60,87.35 L348.10,87.12 L348.60,86.89 L349.10,86.65 L349.60,86.41 L350.10,86.16 L350.60,85.91 L351.10,85.65 L351.60,85.40 L352.10,85.13 L352.60,84.87 L353.10,84.61 L353.60,84.35 L354.10,84.09 L354.60,83.84 L355.10,83.59 L355.60,83.34 L356.10,83.10 L356.60,82.86 L357.10,82.63 L357.60,82.41 L358.10,82.20 L358.60,81.99 L359.10,81.80 L359.60,81.62 L360.10,81.45 L360.60,81.29 L361.10,81.15 L361.60,81.02 L362.10,80.91 L362.60,80.81 L363.10,80.73 L363.60,80.67 L364.10,80.63 L364.60,80.60 L365.10,80.60 L365.60,80.62 L366.10,80.65 L366.60,80.69 L367.10,80.75 L367.60,80.82 L368.10,80.90 L368.60,81.00 L369.10,81.10 L369.60,81.22 L370.10,81.34 L370.60,81.48 L371.10,81.62 L371.60,81.76 L372.10,81.92 L372.60,82.07 L373.10,82.24 L373.60,82.40 L374.10,82.57 L374.60,82.74 L375.10,82.91 L375.60,83.09 L376.10,83.26 L376.60,83.43 L377.10,83.60 L377.60,83.76 L378.10,83.93 L378.60,84.08 L379.10,84.24 L379.60,84.38 L380.10,84.52 L380.60,84.66 L381.10,84.78 L381.60,84.90 L382.10,85.00 L382.60,85.10 L383.10,85.18 L383.60,85.25 L384.10,85.31 L384.60,85.35 L385.10,85.38 L385.60,85.40 L386.10,85.40 L386.60,85.37 L387.10,85.32 L387.60,85.24 L388.10,85.15 L388.60,85.03 L389.10,84.90 L389.60,84.74 L390.10,84.58 L390.60,84.39 L391.10,84.19 L391.60,83.98 L392.10,83.75 L392.60,83.52 L393.10,83.27 L393.60,83.02 L394.10,82.76 L394.60,82.49 L395.10,82.21 L395.60,81.94 L396.10,81.66 L396.20,81.60" fill="none" stroke="#6b9790" stroke-width="1.9" stroke-linejoin="round" stroke-linecap="round"/>
<path d="M79.30,100.00 L79.80,99.95 L80.30,99.91 L80.80,99.87 L81.30,99.84 L81.80,99.81 L82.30,99.78 L82.80,99.75 L83.30,99.73 L83.80,99.71 L84.30,99.69 L84.80,99.67 L85.30,99.66 L85.80,99.65 L86.30,99.64 L86.80,99.63 L87.30,99.62 L87.80,99.61 L88.30,99.61 L88.80,99.61 L89.30,99.60 L89.80,99.60 L90.30,99.60 L90.80,99.60 L91.30,99.60 L91.80,99.60 L92.30,99.60 L92.80,99.63 L93.30,99.67 L93.80,99.73 L94.30,99.81 L94.80,99.90 L95.30,100.00 L95.80,100.11 L96.30,100.24 L96.80,100.36 L97.30,100.50 L97.80,100.63 L98.30,100.77 L98.80,100.90 L99.30,101.04 L99.80,101.16 L100.30,101.29 L100.80,101.40 L101.30,101.50 L101.80,101.59 L102.30,101.67 L102.80,101.73 L103.30,101.77 L103.80,101.80 L104.30,101.80 L104.80,101.78 L105.30,101.75 L105.80,101.69 L106.30,101.63 L106.80,101.55 L107.30,101.45 L107.80,101.35 L108.30,101.24 L108.80,101.12 L109.30,101.00 L109.80,100.87 L110.30,100.73 L110.80,100.60 L111.30,100.47 L111.80,100.33 L112.30,100.20 L112.80,100.08 L113.30,99.96 L113.80,99.85 L114.30,99.75 L114.80,99.65 L115.30,99.57 L115.80,99.51 L116.30,99.45 L116.80,99.42 L117.30,99.40 L117.80,99.41 L118.30,99.46 L118.80,99.55 L119.30,99.68 L119.80,99.83 L120.30,100.01 L120.80,100.20 L121.30,100.41 L121.80,100.62 L122.30,100.83 L122.80,101.04 L123.30,101.23 L123.80,101.40 L124.30,101.55 L124.80,101.67 L125.30,101.75 L125.80,101.80 L126.30,101.79 L126.80,101.74 L127.30,101.64 L127.80,101.50 L128.30,101.32 L128.80,101.13 L129.30,100.91 L129.80,100.67 L130.30,100.42 L130.80,100.18 L131.30,99.93 L131.80,99.69 L132.30,99.46 L132.80,99.25 L133.30,99.07 L133.80,98.92 L134.30,98.80 L134.80,98.73 L135.30,98.70 L135.80,98.72 L136.30,98.79 L136.80,98.90 L137.30,99.05 L137.80,99.22 L138.30,99.43 L138.80,99.65 L139.30,99.89 L139.80,100.14 L140.30,100.40 L140.80,100.66 L141.30,100.91 L141.80,101.16 L142.30,101.40 L142.80,101.62 L143.30,101.81 L143.80,101.98 L144.30,102.12 L144.80,102.22 L145.30,102.28 L145.80,102.30 L146.30,102.27 L146.80,102.21 L147.30,102.11 L147.80,101.98 L148.30,101.83 L148.80,101.65 L149.30,101.46 L149.80,101.25 L150.30,101.03 L150.80,100.81 L151.30,100.58 L151.80,100.36 L152.30,100.14 L152.80,99.92 L153.30,99.72 L153.80,99.54 L154.30,99.38 L154.80,99.24 L155.30,99.13 L155.80,99.05 L156.30,99.01 L156.80,99.00 L157.30,99.04 L157.80,99.12 L158.30,99.24 L158.80,99.39 L159.30,99.57 L159.80,99.77 L160.30,99.99 L160.80,100.23 L161.30,100.48 L161.80,100.74 L162.30,101.00 L162.80,101.26 L163.30,101.52 L163.80,101.77 L164.30,102.01 L164.80,102.23 L165.30,102.43 L165.80,102.61 L166.30,102.76 L166.80,102.88 L167.30,102.96 L167.80,103.00 L168.30,102.99 L168.80,102.93 L169.30,102.83 L169.80,102.69 L170.30,102.51 L170.80,102.29 L171.30,102.05 L171.80,101.79 L172.30,101.51 L172.80,101.22 L173.30,100.91 L173.80,100.61 L174.30,100.30 L174.80,100.01 L175.30,99.72 L175.80,99.45 L176.30,99.20 L176.80,98.98 L177.30,98.78 L177.80,98.62 L178.30,98.50 L178.80,98.43 L179.30,98.40 L179.80,98.42 L180.30,98.47 L180.80,98.56 L181.30,98.67 L181.80,98.81 L182.30,98.97 L182.80,99.16 L183.30,99.36 L183.80,99.57 L184.30,99.80 L184.80,100.04 L185.30,100.28 L185.80,100.53 L186.30,100.77 L186.80,101.01 L187.30,101.25 L187.80,101.48 L188.30,101.70 L188.80,101.90 L189.30,102.09 L189.80,102.26 L190.30,102.40 L190.80,102.52 L191.30,102.61 L191.80,102.67 L192.30,102.70 L192.80,102.69 L193.30,102.65 L193.80,102.59 L194.30,102.50 L194.80,102.40 L195.30,102.27 L195.80,102.12 L196.30,101.96 L196.80,101.79 L197.30,101.60 L197.80,101.41 L198.30,101.21 L198.80,101.00 L199.30,100.79 L199.80,100.58 L200.30,100.38 L200.80,100.17 L201.30,99.98 L201.80,99.79 L202.30,99.61 L202.80,99.44 L203.30,99.29 L203.80,99.15 L204.30,99.04 L204.80,98.94 L205.30,98.87 L205.80,98.82 L206.30,98.80 L206.80,98.81 L207.30,98.85 L207.80,98.92 L208.30,99.02 L208.80,99.14 L209.30,99.28 L209.80,99.45 L210.30,99.63 L210.80,99.83 L211.30,100.04 L211.80,100.26 L212.30,100.50 L212.80,100.74 L213.30,100.98 L213.80,101.23 L214.30,101.47 L214.80,101.72 L215.30,101.96 L215.80,102.19 L216.30,102.41 L216.80,102.63 L217.30,102.83 L217.80,103.02 L218.30,103.18 L218.80,103.33 L219.30,103.46 L219.80,103.56 L220.30,103.64 L220.80,103.68 L221.30,103.70 L221.80,103.68 L222.30,103.62 L222.80,103.52 L223.30,103.39 L223.80,103.23 L224.30,103.04 L224.80,102.82 L225.30,102.58 L225.80,102.32 L226.30,102.05 L226.80,101.76 L227.30,101.46 L227.80,101.15 L228.30,100.84 L228.80,100.52 L229.30,100.20 L229.80,99.89 L230.30,99.58 L230.80,99.28 L231.30,99.00 L231.80,98.72 L232.30,98.47 L232.80,98.23 L233.30,98.02 L233.80,97.84 L234.30,97.68 L234.80,97.56 L235.30,97.47 L235.80,97.41 L236.30,97.40 L236.80,97.42 L237.30,97.48 L237.80,97.56 L238.30,97.67 L238.80,97.81 L239.30,97.97 L239.80,98.15 L240.30,98.35 L240.80,98.57 L241.30,98.81 L241.80,99.06 L242.30,99.33 L242.80,99.60 L243.30,99.89 L243.80,100.18 L244.30,100.48 L244.80,100.78 L245.30,101.09 L245.80,101.39 L246.30,101.70 L246.80,102.00 L247.30,102.30 L247.80,102.58 L248.30,102.86 L248.80,103.13 L249.30,103.39 L249.80,103.64 L250.30,103.86 L250.80,104.07 L251.30,104.26 L251.80,104.43 L252.30,104.58 L252.80,104.70 L253.30,104.79 L253.80,104.86 L254.30,104.89 L254.80,104.90 L255.30,104.85 L255.80,104.76 L256.30,104.62 L256.80,104.44 L257.30,104.22 L257.80,103.97 L258.30,103.69 L258.80,103.38 L259.30,103.05 L259.80,102.69 L260.30,102.32 L260.80,101.93 L261.30,101.53 L261.80,101.13 L262.30,100.72 L262.80,100.30 L263.30,99.89 L263.80,99.49 L264.30,99.09 L264.80,98.70 L265.30,98.33 L265.80,97.98 L266.30,97.65 L266.80,97.35 L267.30,97.07 L267.80,96.83 L268.30,96.62 L268.80,96.45 L269.30,96.32 L269.80,96.24 L270.30,96.20 L270.80,96.21 L271.30,96.23 L271.80,96.28 L272.30,96.35 L272.80,96.44 L273.30,96.54 L273.80,96.66 L274.30,96.80 L274.80,96.95 L275.30,97.12 L275.80,97.30 L276.30,97.49 L276.80,97.70 L277.30,97.92 L277.80,98.14 L278.30,98.38 L278.80,98.62 L279.30,98.88 L279.80,99.14 L280.30,99.40 L280.80,99.68 L281.30,99.95 L281.80,100.23 L282.30,100.51 L282.80,100.80 L283.30,101.09 L283.80,101.37 L284.30,101.66 L284.80,101.94 L285.30,102.22 L285.80,102.50 L286.30,102.78 L286.80,103.05 L287.30,103.31 L287.80,103.57 L288.30,103.83 L288.80,104.07 L289.30,104.30 L289.80,104.53 L290.30,104.74 L290.80,104.95 L291.30,105.14 L291.80,105.32 L292.30,105.48 L292.80,105.63 L293.30,105.76 L293.80,105.88 L294.30,105.98 L294.80,106.06 L295.30,106.13 L295.80,106.17 L296.30,106.20 L296.80,106.20 L297.30,106.17 L297.80,106.12 L298.30,106.03 L298.80,105.93 L299.30,105.79 L299.80,105.64 L300.30,105.46 L300.80,105.26 L301.30,105.04 L301.80,104.81 L302.30,104.55 L302.80,104.28 L303.30,104.00 L303.80,103.70 L304.30,103.40 L304.80,103.08 L305.30,102.75 L305.80,102.41 L306.30,102.07 L306.80,101.72 L307.30,101.37 L307.80,101.01 L308.30,100.66 L308.80,100.30 L309.30,99.94 L309.80,99.59 L310.30,99.24 L310.80,98.89 L311.30,98.55 L311.80,98.22 L312.30,97.89 L312.80,97.58 L313.30,97.28 L313.80,96.98 L314.30,96.71 L314.80,96.44 L315.30,96.20 L315.80,95.97 L316.30,95.76 L316.80,95.57 L317.30,95.40 L317.80,95.25 L318.30,95.13 L318.80,95.03 L319.30,94.96 L319.80,94.91 L320.30,94.90 L320.80,94.91 L321.30,94.94 L321.80,94.99 L322.30,95.06 L322.80,95.15 L323.30,95.26 L323.80,95.38 L324.30,95.52 L324.80,95.68 L325.30,95.85 L325.80,96.03 L326.30,96.23 L326.80,96.43 L327.30,96.65 L327.80,96.88 L328.30,97.12 L328.80,97.37 L329.30,97.62 L329.80,97.88 L330.30,98.15 L330.80,98.43 L331.30,98.70 L331.80,98.99 L332.30,99.27 L332.80,99.56 L333.30,99.85 L333.80,100.14 L334.30,100.43 L334.80,100.71 L335.30,101.00 L335.80,101.28 L336.30,101.56 L336.80,101.84 L337.30,102.11 L337.80,102.37 L338.30,102.63 L338.80,102.88 L339.30,103.12 L339.80,103.36 L340.30,103.58 L340.80,103.79 L341.30,103.99 L341.80,104.18 L342.30,104.35 L342.80,104.52 L343.30,104.66 L343.80,104.79 L344.30,104.91 L344.80,105.00 L345.30,105.08 L345.80,105.14 L346.30,105.18 L346.80,105.20 L347.30,105.20 L347.80,105.17 L348.30,105.13 L348.80,105.06 L349.30,104.98 L349.80,104.88 L350.30,104.77 L350.80,104.64 L351.30,104.50 L351.80,104.34 L352.30,104.17 L352.80,104.00 L353.30,103.81 L353.80,103.62 L354.30,103.42 L354.80,103.22 L355.30,103.01 L355.80,102.80 L356.30,102.59 L356.80,102.37 L357.30,102.16 L357.80,101.95 L358.30,101.74 L358.80,101.54 L359.30,101.34 L359.80,101.15 L360.30,100.97 L360.80,100.79 L361.30,100.63 L361.80,100.47 L362.30,100.33 L362.80,100.21 L363.30,100.10 L363.80,100.00 L364.30,99.92 L364.80,99.86 L365.30,99.82 L365.80,99.80 L366.30,99.80 L366.80,99.80 L367.30,99.80 L367.80,99.80 L368.30,99.80 L368.80,99.80 L369.30,99.80 L369.80,99.80 L370.30,99.81 L370.80,99.81 L371.30,99.81 L371.80,99.82 L372.30,99.82 L372.80,99.82 L373.30,99.83 L373.80,99.84 L374.30,99.84 L374.80,99.85 L375.30,99.86 L375.80,99.87 L376.30,99.89 L376.80,99.90 L377.30,99.91 L377.80,99.93 L378.30,99.95 L378.80,99.96 L379.30,99.98 L379.80,100.01 L380.30,100.03 L380.80,100.05 L381.30,100.08 L381.80,100.11 L382.30,100.14 L382.80,100.17 L383.30,100.21 L383.80,100.24 L384.30,100.28 L384.80,100.32 L385.30,100.36 L385.80,100.41 L386.30,100.46 L386.80,100.50 L387.30,100.56 L387.80,100.61 L388.30,100.67 L388.80,100.73 L389.30,100.79 L389.80,100.86 L390.30,100.92 L390.80,100.99 L391.30,101.07 L391.80,101.14 L392.30,101.22 L392.80,101.31 L393.30,101.39 L393.80,101.48 L394.30,101.57 L394.80,101.67 L395.30,101.77 L395.80,101.87 L396.30,101.98 L396.40,102.00" fill="none" stroke="#618e8a" stroke-width="1.9" stroke-linejoin="round" stroke-linecap="round"/>
<path d="M110.30,117.60 L110.80,117.74 L111.30,117.87 L111.80,117.99 L112.30,118.10 L112.80,118.21 L113.30,118.30 L113.80,118.39 L114.30,118.48 L114.80,118.55 L115.30,118.62 L115.80,118.68 L116.30,118.74 L116.80,118.79 L117.30,118.83 L117.80,118.87 L118.30,118.91 L118.80,118.93 L119.30,118.96 L119.80,118.97 L120.30,118.99 L120.80,118.99 L121.30,119.00 L121.80,119.00 L122.30,118.97 L122.80,118.93 L123.30,118.86 L123.80,118.78 L124.30,118.68 L124.80,118.57 L125.30,118.45 L125.80,118.32 L126.30,118.19 L126.80,118.06 L127.30,117.93 L127.80,117.80 L128.30,117.69 L128.80,117.58 L129.30,117.49 L129.80,117.41 L130.30,117.35 L130.80,117.31 L131.30,117.30 L131.80,117.31 L132.30,117.35 L132.80,117.41 L133.30,117.49 L133.80,117.58 L134.30,117.68 L134.80,117.80 L135.30,117.92 L135.80,118.04 L136.30,118.16 L136.80,118.27 L137.30,118.38 L137.80,118.48 L138.30,118.56 L138.80,118.63 L139.30,118.67 L139.80,118.70 L140.30,118.70 L140.80,118.67 L141.30,118.64 L141.80,118.58 L142.30,118.51 L142.80,118.43 L143.30,118.33 L143.80,118.23 L144.30,118.12 L144.80,118.01 L145.30,117.89 L145.80,117.78 L146.30,117.66 L146.80,117.54 L147.30,117.43 L147.80,117.33 L148.30,117.23 L148.80,117.14 L149.30,117.06 L149.80,117.00 L150.30,116.95 L150.80,116.91 L151.30,116.90 L151.80,116.91 L152.30,116.93 L152.80,116.97 L153.30,117.03 L153.80,117.11 L154.30,117.20 L154.80,117.30 L155.30,117.41 L155.80,117.53 L156.30,117.66 L156.80,117.80 L157.30,117.94 L157.80,118.08 L158.30,118.23 L158.80,118.38 L159.30,118.54 L159.80,118.69 L160.30,118.83 L160.80,118.98 L161.30,119.11 L161.80,119.24 L162.30,119.37 L162.80,119.48 L163.30,119.58 L163.80,119.67 L164.30,119.75 L164.80,119.81 L165.30,119.86 L165.80,119.89 L166.30,119.90 L166.80,119.87 L167.30,119.77 L167.80,119.63 L168.30,119.44 L168.80,119.21 L169.30,118.96 L169.80,118.68 L170.30,118.39 L170.80,118.09 L171.30,117.79 L171.80,117.51 L172.30,117.24 L172.80,116.99 L173.30,116.78 L173.80,116.61 L174.30,116.48 L174.80,116.41 L175.30,116.40 L175.80,116.42 L176.30,116.46 L176.80,116.51 L177.30,116.59 L177.80,116.67 L178.30,116.78 L178.80,116.89 L179.30,117.02 L179.80,117.15 L180.30,117.30 L180.80,117.45 L181.30,117.61 L181.80,117.77 L182.30,117.93 L182.80,118.10 L183.30,118.27 L183.80,118.43 L184.30,118.60 L184.80,118.76 L185.30,118.91 L185.80,119.06 L186.30,119.20 L186.80,119.33 L187.30,119.46 L187.80,119.57 L188.30,119.66 L188.80,119.74 L189.30,119.81 L189.80,119.86 L190.30,119.89 L190.80,119.90 L191.30,119.89 L191.80,119.86 L192.30,119.81 L192.80,119.74 L193.30,119.65 L193.80,119.55 L194.30,119.44 L194.80,119.31 L195.30,119.18 L195.80,119.04 L196.30,118.89 L196.80,118.73 L197.30,118.58 L197.80,118.42 L198.30,118.26 L198.80,118.10 L199.30,117.94 L199.80,117.79 L200.30,117.65 L200.80,117.51 L201.30,117.39 L201.80,117.27 L202.30,117.17 L202.80,117.08 L203.30,117.01 L203.80,116.95 L204.30,116.92 L204.80,116.90 L205.30,116.91 L205.80,116.93 L206.30,116.98 L206.80,117.04 L207.30,117.11 L207.80,117.20 L208.30,117.31 L208.80,117.43 L209.30,117.56 L209.80,117.70 L210.30,117.84 L210.80,118.00 L211.30,118.16 L211.80,118.33 L212.30,118.50 L212.80,118.68 L213.30,118.86 L213.80,119.04 L214.30,119.21 L214.80,119.39 L215.30,119.57 L215.80,119.74 L216.30,119.90 L216.80,120.06 L217.30,120.22 L217.80,120.36 L218.30,120.50 L218.80,120.62 L219.30,120.73 L219.80,120.83 L220.30,120.92 L220.80,120.99 L221.30,121.04 L221.80,121.08 L222.30,121.10 L222.80,121.09 L223.30,121.05 L223.80,120.98 L224.30,120.87 L224.80,120.74 L225.30,120.58 L225.80,120.39 L226.30,120.19 L226.80,119.97 L227.30,119.74 L227.80,119.50 L228.30,119.24 L228.80,118.98 L229.30,118.72 L229.80,118.46 L230.30,118.21 L230.80,117.95 L231.30,117.71 L231.80,117.48 L232.30,117.27 L232.80,117.07 L233.30,116.89 L233.80,116.73 L234.30,116.60 L234.80,116.50 L235.30,116.44 L235.80,116.40 L236.30,116.42 L236.80,116.53 L237.30,116.72 L237.80,116.98 L238.30,117.30 L238.80,117.67 L239.30,118.06 L239.80,118.47 L240.30,118.89 L240.80,119.30 L241.30,119.68 L241.80,120.03 L242.30,120.33 L242.80,120.57 L243.30,120.73 L243.80,120.80 L244.30,120.78 L244.80,120.70 L245.30,120.59 L245.80,120.46 L246.30,120.34 L246.80,120.25 L247.30,120.20 L247.80,120.22 L248.30,120.28 L248.80,120.39 L249.30,120.53 L249.80,120.69 L250.30,120.87 L250.80,121.06 L251.30,121.25 L251.80,121.44 L252.30,121.61 L252.80,121.76 L253.30,121.88 L253.80,121.96 L254.30,122.00 L254.80,121.99 L255.30,121.95 L255.80,121.88 L256.30,121.78 L256.80,121.65 L257.30,121.50 L257.80,121.33 L258.30,121.13 L258.80,120.91 L259.30,120.68 L259.80,120.42 L260.30,120.15 L260.80,119.87 L261.30,119.57 L261.80,119.26 L262.30,118.95 L262.80,118.62 L263.30,118.29 L263.80,117.95 L264.30,117.61 L264.80,117.27 L265.30,116.93 L265.80,116.58 L266.30,116.25 L266.80,115.91 L267.30,115.58 L267.80,115.26 L268.30,114.95 L268.80,114.65 L269.30,114.36 L269.80,114.08 L270.30,113.82 L270.80,113.58 L271.30,113.35 L271.80,113.15 L272.30,112.97 L272.80,112.81 L273.30,112.67 L273.80,112.56 L274.30,112.48 L274.80,112.42 L275.30,112.40 L275.80,112.42 L276.30,112.48 L276.80,112.58 L277.30,112.73 L277.80,112.91 L278.30,113.13 L278.80,113.39 L279.30,113.67 L279.80,113.99 L280.30,114.32 L280.80,114.69 L281.30,115.07 L281.80,115.47 L282.30,115.88 L282.80,116.31 L283.30,116.74 L283.80,117.18 L284.30,117.63 L284.80,118.08 L285.30,118.53 L285.80,118.97 L286.30,119.41 L286.80,119.84 L287.30,120.25 L287.80,120.65 L288.30,121.04 L288.80,121.40 L289.30,121.75 L289.80,122.07 L290.30,122.36 L290.80,122.62 L291.30,122.85 L291.80,123.04 L292.30,123.19 L292.80,123.31 L293.30,123.38 L293.80,123.40 L294.30,123.39 L294.80,123.36 L295.30,123.31 L295.80,123.25 L296.30,123.16 L296.80,123.06 L297.30,122.95 L297.80,122.82 L298.30,122.68 L298.80,122.52 L299.30,122.35 L299.80,122.17 L300.30,121.98 L300.80,121.77 L301.30,121.56 L301.80,121.34 L302.30,121.11 L302.80,120.87 L303.30,120.63 L303.80,120.38 L304.30,120.13 L304.80,119.87 L305.30,119.61 L305.80,119.34 L306.30,119.08 L306.80,118.81 L307.30,118.54 L307.80,118.28 L308.30,118.01 L308.80,117.74 L309.30,117.48 L309.80,117.22 L310.30,116.97 L310.80,116.72 L311.30,116.47 L311.80,116.24 L312.30,116.01 L312.80,115.78 L313.30,115.57 L313.80,115.36 L314.30,115.17 L314.80,114.99 L315.30,114.81 L315.80,114.65 L316.30,114.51 L316.80,114.37 L317.30,114.26 L317.80,114.15 L318.30,114.07 L318.80,114.00 L319.30,113.95 L319.80,113.91 L320.30,113.90 L320.80,113.91 L321.30,113.93 L321.80,113.97 L322.30,114.03 L322.80,114.11 L323.30,114.20 L323.80,114.31 L324.30,114.43 L324.80,114.56 L325.30,114.71 L325.80,114.87 L326.30,115.03 L326.80,115.21 L327.30,115.40 L327.80,115.60 L328.30,115.80 L328.80,116.02 L329.30,116.24 L329.80,116.46 L330.30,116.69 L330.80,116.92 L331.30,117.16 L331.80,117.40 L332.30,117.64 L332.80,117.88 L333.30,118.12 L333.80,118.36 L334.30,118.60 L334.80,118.83 L335.30,119.07 L335.80,119.30 L336.30,119.52 L336.80,119.74 L337.30,119.95 L337.80,120.16 L338.30,120.36 L338.80,120.55 L339.30,120.73 L339.80,120.90 L340.30,121.06 L340.80,121.21 L341.30,121.35 L341.80,121.47 L342.30,121.58 L342.80,121.67 L343.30,121.75 L343.80,121.82 L344.30,121.86 L344.80,121.89 L345.30,121.90 L345.80,121.89 L346.30,121.86 L346.80,121.82 L347.30,121.76 L347.80,121.69 L348.30,121.60 L348.80,121.50 L349.30,121.39 L349.80,121.26 L350.30,121.13 L350.80,120.99 L351.30,120.84 L351.80,120.68 L352.30,120.51 L352.80,120.34 L353.30,120.16 L353.80,119.98 L354.30,119.80 L354.80,119.61 L355.30,119.42 L355.80,119.24 L356.30,119.05 L356.80,118.87 L357.30,118.68 L357.80,118.50 L358.30,118.33 L358.80,118.16 L359.30,117.99 L359.80,117.83 L360.30,117.68 L360.80,117.54 L361.30,117.41 L361.80,117.29 L362.30,117.18 L362.80,117.08 L363.30,117.00 L363.80,116.92 L364.30,116.87 L364.80,116.83 L365.30,116.81 L365.80,116.80 L366.30,116.81 L366.80,116.84 L367.30,116.88 L367.80,116.94 L368.30,117.00 L368.80,117.08 L369.30,117.17 L369.80,117.27 L370.30,117.37 L370.80,117.49 L371.30,117.61 L371.80,117.73 L372.30,117.86 L372.80,117.99 L373.30,118.13 L373.80,118.26 L374.30,118.40 L374.80,118.53 L375.30,118.66 L375.80,118.79 L376.30,118.92 L376.80,119.03 L377.30,119.15 L377.80,119.25 L378.30,119.35 L378.80,119.44 L379.30,119.51 L379.80,119.58 L380.30,119.63 L380.80,119.67 L381.30,119.69 L381.80,119.70 L382.30,119.70 L382.80,119.68 L383.30,119.66 L383.80,119.63 L384.30,119.59 L384.80,119.54 L385.30,119.49 L385.80,119.43 L386.30,119.35 L386.80,119.28 L387.30,119.19 L387.80,119.09 L388.30,118.99 L388.80,118.88 L389.30,118.77 L389.80,118.64 L390.30,118.51 L390.80,118.38 L391.30,118.23 L391.80,118.08 L392.30,117.92 L392.80,117.76 L393.30,117.59 L393.80,117.41 L394.30,117.23 L394.80,117.04 L395.30,116.85 L395.80,116.65 L396.30,116.44 L396.40,116.40" fill="none" stroke="#578584" stroke-width="1.9" stroke-linejoin="round" stroke-linecap="round"/>
<path d="M110.30,136.50 L110.80,136.38 L111.30,136.26 L111.80,136.15 L112.30,136.04 L112.80,135.95 L113.30,135.86 L113.80,135.77 L114.30,135.69 L114.80,135.61 L115.30,135.55 L115.80,135.48 L116.30,135.42 L116.80,135.37 L117.30,135.32 L117.80,135.28 L118.30,135.24 L118.80,135.21 L119.30,135.18 L119.80,135.16 L120.30,135.14 L120.80,135.12 L121.30,135.11 L121.80,135.10 L122.30,135.10 L122.80,135.10 L123.30,135.12 L123.80,135.16 L124.30,135.22 L124.80,135.29 L125.30,135.37 L125.80,135.46 L126.30,135.56 L126.80,135.67 L127.30,135.79 L127.80,135.91 L128.30,136.04 L128.80,136.17 L129.30,136.30 L129.80,136.43 L130.30,136.56 L130.80,136.68 L131.30,136.80 L131.80,136.92 L132.30,137.02 L132.80,137.12 L133.30,137.20 L133.80,137.27 L134.30,137.33 L134.80,137.37 L135.30,137.39 L135.80,137.40 L136.30,137.39 L136.80,137.37 L137.30,137.33 L137.80,137.28 L138.30,137.23 L138.80,137.16 L139.30,137.09 L139.80,137.00 L140.30,136.92 L140.80,136.83 L141.30,136.73 L141.80,136.64 L142.30,136.54 L142.80,136.44 L143.30,136.35 L143.80,136.25 L144.30,136.16 L144.80,136.08 L145.30,136.00 L145.80,135.93 L146.30,135.86 L146.80,135.81 L147.30,135.76 L147.80,135.73 L148.30,135.71 L148.80,135.70 L149.30,135.71 L149.80,135.73 L150.30,135.77 L150.80,135.82 L151.30,135.88 L151.80,135.95 L152.30,136.03 L152.80,136.12 L153.30,136.22 L153.80,136.31 L154.30,136.42 L154.80,136.52 L155.30,136.62 L155.80,136.73 L156.30,136.83 L156.80,136.92 L157.30,137.01 L157.80,137.10 L158.30,137.18 L158.80,137.24 L159.30,137.30 L159.80,137.35 L160.30,137.38 L160.80,137.40 L161.30,137.40 L161.80,137.36 L162.30,137.29 L162.80,137.19 L163.30,137.05 L163.80,136.90 L164.30,136.72 L164.80,136.52 L165.30,136.31 L165.80,136.09 L166.30,135.86 L166.80,135.63 L167.30,135.40 L167.80,135.17 L168.30,134.95 L168.80,134.74 L169.30,134.55 L169.80,134.37 L170.30,134.22 L170.80,134.09 L171.30,133.99 L171.80,133.93 L172.30,133.90 L172.80,133.91 L173.30,133.94 L173.80,134.00 L174.30,134.08 L174.80,134.18 L175.30,134.30 L175.80,134.43 L176.30,134.58 L176.80,134.74 L177.30,134.91 L177.80,135.10 L178.30,135.28 L178.80,135.48 L179.30,135.68 L179.80,135.88 L180.30,136.08 L180.80,136.28 L181.30,136.48 L181.80,136.67 L182.30,136.85 L182.80,137.03 L183.30,137.19 L183.80,137.34 L184.30,137.48 L184.80,137.60 L185.30,137.70 L185.80,137.79 L186.30,137.85 L186.80,137.89 L187.30,137.90 L187.80,137.89 L188.30,137.85 L188.80,137.79 L189.30,137.71 L189.80,137.61 L190.30,137.49 L190.80,137.36 L191.30,137.21 L191.80,137.06 L192.30,136.89 L192.80,136.72 L193.30,136.54 L193.80,136.35 L194.30,136.17 L194.80,135.98 L195.30,135.80 L195.80,135.62 L196.30,135.44 L196.80,135.27 L197.30,135.12 L197.80,134.97 L198.30,134.83 L198.80,134.71 L199.30,134.61 L199.80,134.52 L200.30,134.46 L200.80,134.42 L201.30,134.40 L201.80,134.41 L202.30,134.44 L202.80,134.49 L203.30,134.56 L203.80,134.65 L204.30,134.75 L204.80,134.87 L205.30,135.00 L205.80,135.15 L206.30,135.30 L206.80,135.47 L207.30,135.64 L207.80,135.82 L208.30,136.00 L208.80,136.18 L209.30,136.37 L209.80,136.55 L210.30,136.74 L210.80,136.92 L211.30,137.10 L211.80,137.27 L212.30,137.43 L212.80,137.58 L213.30,137.73 L213.80,137.86 L214.30,137.97 L214.80,138.07 L215.30,138.16 L215.80,138.22 L216.30,138.27 L216.80,138.30 L217.30,138.30 L217.80,138.26 L218.30,138.19 L218.80,138.08 L219.30,137.93 L219.80,137.76 L220.30,137.57 L220.80,137.35 L221.30,137.11 L221.80,136.86 L222.30,136.59 L222.80,136.31 L223.30,136.03 L223.80,135.74 L224.30,135.45 L224.80,135.16 L225.30,134.88 L225.80,134.60 L226.30,134.34 L226.80,134.09 L227.30,133.86 L227.80,133.65 L228.30,133.47 L228.80,133.31 L229.30,133.18 L229.80,133.08 L230.30,133.02 L230.80,133.00 L231.30,133.01 L231.80,133.03 L232.30,133.08 L232.80,133.13 L233.30,133.20 L233.80,133.29 L234.30,133.38 L234.80,133.49 L235.30,133.61 L235.80,133.74 L236.30,133.88 L236.80,134.03 L237.30,134.19 L237.80,134.35 L238.30,134.52 L238.80,134.70 L239.30,134.88 L239.80,135.06 L240.30,135.25 L240.80,135.44 L241.30,135.63 L241.80,135.82 L242.30,136.01 L242.80,136.20 L243.30,136.39 L243.80,136.58 L244.30,136.76 L244.80,136.94 L245.30,137.11 L245.80,137.28 L246.30,137.44 L246.80,137.60 L247.30,137.75 L247.80,137.88 L248.30,138.01 L248.80,138.13 L249.30,138.24 L249.80,138.33 L250.30,138.41 L250.80,138.48 L251.30,138.53 L251.80,138.57 L252.30,138.59 L252.80,138.60 L253.30,138.59 L253.80,138.55 L254.30,138.50 L254.80,138.43 L255.30,138.35 L255.80,138.25 L256.30,138.14 L256.80,138.01 L257.30,137.87 L257.80,137.73 L258.30,137.57 L258.80,137.40 L259.30,137.22 L259.80,137.03 L260.30,136.84 L260.80,136.64 L261.30,136.44 L261.80,136.24 L262.30,136.03 L262.80,135.82 L263.30,135.61 L263.80,135.40 L264.30,135.19 L264.80,134.98 L265.30,134.78 L265.80,134.58 L266.30,134.38 L266.80,134.19 L267.30,134.01 L267.80,133.84 L268.30,133.67 L268.80,133.51 L269.30,133.37 L269.80,133.23 L270.30,133.11 L270.80,133.01 L271.30,132.91 L271.80,132.84 L272.30,132.78 L272.80,132.73 L273.30,132.71 L273.80,132.70 L274.30,132.72 L274.80,132.76 L275.30,132.82 L275.80,132.91 L276.30,133.01 L276.80,133.14 L277.30,133.28 L277.80,133.44 L278.30,133.62 L278.80,133.81 L279.30,134.02 L279.80,134.24 L280.30,134.46 L280.80,134.71 L281.30,134.96 L281.80,135.21 L282.30,135.48 L282.80,135.75 L283.30,136.03 L283.80,136.31 L284.30,136.59 L284.80,136.88 L285.30,137.16 L285.80,137.45 L286.30,137.73 L286.80,138.02 L287.30,138.29 L287.80,138.57 L288.30,138.83 L288.80,139.09 L289.30,139.35 L289.80,139.59 L290.30,139.82 L290.80,140.04 L291.30,140.25 L291.80,140.44 L292.30,140.62 L292.80,140.79 L293.30,140.93 L293.80,141.06 L294.30,141.17 L294.80,141.26 L295.30,141.33 L295.80,141.38 L296.30,141.40 L296.80,141.39 L297.30,141.36 L297.80,141.31 L298.30,141.22 L298.80,141.11 L299.30,140.98 L299.80,140.83 L300.30,140.65 L300.80,140.46 L301.30,140.25 L301.80,140.02 L302.30,139.77 L302.80,139.50 L303.30,139.23 L303.80,138.94 L304.30,138.64 L304.80,138.32 L305.30,138.00 L305.80,137.67 L306.30,137.34 L306.80,136.99 L307.30,136.65 L307.80,136.29 L308.30,135.94 L308.80,135.59 L309.30,135.23 L309.80,134.88 L310.30,134.52 L310.80,134.18 L311.30,133.83 L311.80,133.49 L312.30,133.16 L312.80,132.84 L313.30,132.52 L313.80,132.22 L314.30,131.93 L314.80,131.65 L315.30,131.38 L315.80,131.13 L316.30,130.90 L316.80,130.68 L317.30,130.48 L317.80,130.30 L318.30,130.15 L318.80,130.01 L319.30,129.90 L319.80,129.81 L320.30,129.75 L320.80,129.71 L321.30,129.70 L321.80,129.83 L322.30,130.12 L322.80,130.52 L323.30,131.02 L323.80,131.57 L324.30,132.13 L324.80,132.69 L325.30,133.19 L325.80,133.60 L326.30,133.90 L326.80,134.12 L327.30,134.33 L327.80,134.52 L328.30,134.70 L328.80,134.87 L329.30,135.03 L329.80,135.18 L330.30,135.33 L330.80,135.46 L331.30,135.59 L331.80,135.72 L332.30,135.84 L332.80,135.96 L333.30,136.07 L333.80,136.18 L334.30,136.30 L334.80,136.41 L335.30,136.52 L335.80,136.64 L336.30,136.75 L336.80,136.87 L337.30,137.00 L337.80,137.13 L338.30,137.27 L338.80,137.41 L339.30,137.57 L339.80,137.74 L340.30,137.94 L340.80,138.16 L341.30,138.39 L341.80,138.63 L342.30,138.86 L342.80,139.08 L343.30,139.28 L343.80,139.45 L344.30,139.58 L344.80,139.67 L345.30,139.70 L345.80,139.69 L346.30,139.67 L346.80,139.64 L347.30,139.60 L347.80,139.55 L348.30,139.49 L348.80,139.41 L349.30,139.33 L349.80,139.24 L350.30,139.14 L350.80,139.03 L351.30,138.91 L351.80,138.79 L352.30,138.66 L352.80,138.53 L353.30,138.39 L353.80,138.24 L354.30,138.09 L354.80,137.94 L355.30,137.78 L355.80,137.62 L356.30,137.46 L356.80,137.30 L357.30,137.13 L357.80,136.97 L358.30,136.80 L358.80,136.63 L359.30,136.47 L359.80,136.30 L360.30,136.14 L360.80,135.98 L361.30,135.82 L361.80,135.67 L362.30,135.52 L362.80,135.37 L363.30,135.23 L363.80,135.09 L364.30,134.96 L364.80,134.84 L365.30,134.72 L365.80,134.61 L366.30,134.50 L366.80,134.41 L367.30,134.32 L367.80,134.24 L368.30,134.18 L368.80,134.12 L369.30,134.07 L369.80,134.04 L370.30,134.01 L370.80,134.00 L371.30,134.00 L371.80,134.01 L372.30,134.02 L372.80,134.03 L373.30,134.05 L373.80,134.08 L374.30,134.11 L374.80,134.14 L375.30,134.17 L375.80,134.21 L376.30,134.25 L376.80,134.29 L377.30,134.34 L377.80,134.38 L378.30,134.43 L378.80,134.48 L379.30,134.53 L379.80,134.58 L380.30,134.63 L380.80,134.69 L381.30,134.75 L381.80,134.82 L382.30,134.89 L382.80,134.97 L383.30,135.05 L383.80,135.14 L384.30,135.23 L384.80,135.33 L385.30,135.44 L385.80,135.55 L386.30,135.66 L386.80,135.78 L387.30,135.90 L387.80,136.03 L388.30,136.16 L388.80,136.29 L389.30,136.43 L389.80,136.57 L390.30,136.72 L390.80,136.87 L391.30,137.03 L391.80,137.19 L392.30,137.35 L392.80,137.51 L393.30,137.68 L393.80,137.85 L394.30,138.03 L394.80,138.21 L395.30,138.39 L395.80,138.57 L396.30,138.76 L396.40,138.80" fill="none" stroke="#47757a" stroke-width="1.9" stroke-linejoin="round" stroke-linecap="round"/>
<path d="M110.30,155.80 L110.80,155.49 L111.30,155.19 L111.80,154.89 L112.30,154.61 L112.80,154.33 L113.30,154.06 L113.80,153.80 L114.30,153.56 L114.80,153.32 L115.30,153.09 L115.80,152.88 L116.30,152.68 L116.80,152.49 L117.30,152.32 L117.80,152.16 L118.30,152.01 L118.80,151.88 L119.30,151.76 L119.80,151.66 L120.30,151.57 L120.80,151.50 L121.30,151.45 L121.80,151.42 L122.30,151.40 L122.80,151.40 L123.30,151.43 L123.80,151.47 L124.30,151.54 L124.80,151.62 L125.30,151.71 L125.80,151.82 L126.30,151.94 L126.80,152.08 L127.30,152.22 L127.80,152.36 L128.30,152.52 L128.80,152.68 L129.30,152.84 L129.80,153.00 L130.30,153.16 L130.80,153.31 L131.30,153.47 L131.80,153.61 L132.30,153.75 L132.80,153.88 L133.30,154.00 L133.80,154.11 L134.30,154.20 L134.80,154.28 L135.30,154.34 L135.80,154.38 L136.30,154.40 L136.80,154.39 L137.30,154.36 L137.80,154.30 L138.30,154.22 L138.80,154.12 L139.30,153.99 L139.80,153.85 L140.30,153.70 L140.80,153.53 L141.30,153.35 L141.80,153.16 L142.30,152.97 L142.80,152.77 L143.30,152.57 L143.80,152.37 L144.30,152.18 L144.80,151.99 L145.30,151.81 L145.80,151.64 L146.30,151.48 L146.80,151.33 L147.30,151.21 L147.80,151.10 L148.30,151.01 L148.80,150.95 L149.30,150.91 L149.80,150.90 L150.30,150.92 L150.80,150.97 L151.30,151.05 L151.80,151.15 L152.30,151.27 L152.80,151.41 L153.30,151.58 L153.80,151.75 L154.30,151.94 L154.80,152.15 L155.30,152.36 L155.80,152.58 L156.30,152.81 L156.80,153.04 L157.30,153.27 L157.80,153.50 L158.30,153.73 L158.80,153.95 L159.30,154.17 L159.80,154.38 L160.30,154.57 L160.80,154.76 L161.30,154.92 L161.80,155.07 L162.30,155.21 L162.80,155.31 L163.30,155.40 L163.80,155.46 L164.30,155.49 L164.80,155.50 L165.30,155.45 L165.80,155.36 L166.30,155.24 L166.80,155.07 L167.30,154.87 L167.80,154.65 L168.30,154.40 L168.80,154.13 L169.30,153.85 L169.80,153.55 L170.30,153.25 L170.80,152.94 L171.30,152.63 L171.80,152.33 L172.30,152.04 L172.80,151.76 L173.30,151.50 L173.80,151.26 L174.30,151.04 L174.80,150.86 L175.30,150.71 L175.80,150.60 L176.30,150.52 L176.80,150.50 L177.30,150.51 L177.80,150.55 L178.30,150.61 L178.80,150.69 L179.30,150.79 L179.80,150.90 L180.30,151.04 L180.80,151.19 L181.30,151.35 L181.80,151.53 L182.30,151.72 L182.80,151.93 L183.30,152.14 L183.80,152.36 L184.30,152.58 L184.80,152.81 L185.30,153.05 L185.80,153.29 L186.30,153.53 L186.80,153.77 L187.30,154.01 L187.80,154.25 L188.30,154.48 L188.80,154.71 L189.30,154.93 L189.80,155.15 L190.30,155.36 L190.80,155.55 L191.30,155.74 L191.80,155.91 L192.30,156.07 L192.80,156.22 L193.30,156.35 L193.80,156.46 L194.30,156.55 L194.80,156.62 L195.30,156.67 L195.80,156.70 L196.30,156.70 L196.80,156.65 L197.30,156.56 L197.80,156.43 L198.30,156.26 L198.80,156.06 L199.30,155.82 L199.80,155.55 L200.30,155.25 L200.80,154.93 L201.30,154.59 L201.80,154.24 L202.30,153.87 L202.80,153.49 L203.30,153.10 L203.80,152.71 L204.30,152.31 L204.80,151.92 L205.30,151.53 L205.80,151.16 L206.30,150.79 L206.80,150.44 L207.30,150.10 L207.80,149.79 L208.30,149.50 L208.80,149.23 L209.30,149.00 L209.80,148.80 L210.30,148.64 L210.80,148.52 L211.30,148.43 L211.80,148.40 L212.30,148.41 L212.80,148.45 L213.30,148.51 L213.80,148.60 L214.30,148.72 L214.80,148.86 L215.30,149.02 L215.80,149.20 L216.30,149.40 L216.80,149.62 L217.30,149.85 L217.80,150.10 L218.30,150.36 L218.80,150.63 L219.30,150.92 L219.80,151.21 L220.30,151.52 L220.80,151.82 L221.30,152.14 L221.80,152.46 L222.30,152.78 L222.80,153.10 L223.30,153.42 L223.80,153.74 L224.30,154.05 L224.80,154.36 L225.30,154.67 L225.80,154.96 L226.30,155.25 L226.80,155.53 L227.30,155.80 L227.80,156.05 L228.30,156.29 L228.80,156.52 L229.30,156.72 L229.80,156.91 L230.30,157.08 L230.80,157.23 L231.30,157.35 L231.80,157.45 L232.30,157.53 L232.80,157.58 L233.30,157.60 L233.80,157.59 L234.30,157.55 L234.80,157.47 L235.30,157.36 L235.80,157.23 L236.30,157.07 L236.80,156.88 L237.30,156.68 L237.80,156.44 L238.30,156.19 L238.80,155.92 L239.30,155.64 L239.80,155.34 L240.30,155.02 L240.80,154.69 L241.30,154.36 L241.80,154.01 L242.30,153.66 L242.80,153.30 L243.30,152.94 L243.80,152.57 L244.30,152.21 L244.80,151.85 L245.30,151.49 L245.80,151.13 L246.30,150.78 L246.80,150.44 L247.30,150.11 L247.80,149.79 L248.30,149.48 L248.80,149.19 L249.30,148.91 L249.80,148.65 L250.30,148.41 L250.80,148.20 L251.30,148.00 L251.80,147.83 L252.30,147.69 L252.80,147.57 L253.30,147.48 L253.80,147.42 L254.30,147.40 L254.80,147.41 L255.30,147.45 L255.80,147.52 L256.30,147.62 L256.80,147.74 L257.30,147.89 L257.80,148.06 L258.30,148.26 L258.80,148.47 L259.30,148.71 L259.80,148.96 L260.30,149.23 L260.80,149.51 L261.30,149.81 L261.80,150.12 L262.30,150.45 L262.80,150.78 L263.30,151.12 L263.80,151.47 L264.30,151.82 L264.80,152.18 L265.30,152.54 L265.80,152.90 L266.30,153.26 L266.80,153.62 L267.30,153.98 L267.80,154.33 L268.30,154.68 L268.80,155.02 L269.30,155.35 L269.80,155.68 L270.30,155.99 L270.80,156.29 L271.30,156.57 L271.80,156.84 L272.30,157.09 L272.80,157.33 L273.30,157.54 L273.80,157.74 L274.30,157.91 L274.80,158.06 L275.30,158.18 L275.80,158.28 L276.30,158.35 L276.80,158.39 L277.30,158.40 L277.80,158.38 L278.30,158.33 L278.80,158.25 L279.30,158.14 L279.80,158.00 L280.30,157.85 L280.80,157.66 L281.30,157.46 L281.80,157.24 L282.30,157.00 L282.80,156.74 L283.30,156.46 L283.80,156.17 L284.30,155.86 L284.80,155.55 L285.30,155.22 L285.80,154.89 L286.30,154.54 L286.80,154.19 L287.30,153.84 L287.80,153.48 L288.30,153.12 L288.80,152.76 L289.30,152.39 L289.80,152.03 L290.30,151.68 L290.80,151.33 L291.30,150.98 L291.80,150.65 L292.30,150.32 L292.80,150.00 L293.30,149.69 L293.80,149.40 L294.30,149.12 L294.80,148.86 L295.30,148.61 L295.80,148.38 L296.30,148.18 L296.80,147.99 L297.30,147.83 L297.80,147.69 L298.30,147.57 L298.80,147.49 L299.30,147.43 L299.80,147.40 L300.30,147.40 L300.80,147.43 L301.30,147.47 L301.80,147.52 L302.30,147.60 L302.80,147.69 L303.30,147.80 L303.80,147.93 L304.30,148.07 L304.80,148.22 L305.30,148.39 L305.80,148.57 L306.30,148.76 L306.80,148.96 L307.30,149.17 L307.80,149.39 L308.30,149.62 L308.80,149.86 L309.30,150.10 L309.80,150.36 L310.30,150.61 L310.80,150.88 L311.30,151.14 L311.80,151.41 L312.30,151.69 L312.80,151.97 L313.30,152.24 L313.80,152.52 L314.30,152.80 L314.80,153.08 L315.30,153.36 L315.80,153.63 L316.30,153.90 L316.80,154.17 L317.30,154.43 L317.80,154.69 L318.30,154.95 L318.80,155.19 L319.30,155.43 L319.80,155.66 L320.30,155.89 L320.80,156.10 L321.30,156.30 L321.80,156.50 L322.30,156.68 L322.80,156.85 L323.30,157.00 L323.80,157.14 L324.30,157.27 L324.80,157.38 L325.30,157.48 L325.80,157.56 L326.30,157.62 L326.80,157.67 L327.30,157.69 L327.80,157.70 L328.30,157.69 L328.80,157.67 L329.30,157.64 L329.80,157.59 L330.30,157.54 L330.80,157.47 L331.30,157.39 L331.80,157.31 L332.30,157.21 L332.80,157.10 L333.30,156.99 L333.80,156.87 L334.30,156.74 L334.80,156.60 L335.30,156.46 L335.80,156.31 L336.30,156.15 L336.80,155.99 L337.30,155.82 L337.80,155.65 L338.30,155.47 L338.80,155.29 L339.30,155.10 L339.80,154.92 L340.30,154.73 L340.80,154.53 L341.30,154.34 L341.80,154.14 L342.30,153.95 L342.80,153.75 L343.30,153.55 L343.80,153.35 L344.30,153.16 L344.80,152.96 L345.30,152.77 L345.80,152.57 L346.30,152.38 L346.80,152.20 L347.30,152.01 L347.80,151.83 L348.30,151.65 L348.80,151.48 L349.30,151.31 L349.80,151.15 L350.30,150.99 L350.80,150.84 L351.30,150.70 L351.80,150.56 L352.30,150.43 L352.80,150.31 L353.30,150.20 L353.80,150.09 L354.30,149.99 L354.80,149.91 L355.30,149.83 L355.80,149.76 L356.30,149.71 L356.80,149.66 L357.30,149.63 L357.80,149.61 L358.30,149.60 L358.80,149.60 L359.30,149.62 L359.80,149.64 L360.30,149.68 L360.80,149.72 L361.30,149.78 L361.80,149.84 L362.30,149.91 L362.80,149.99 L363.30,150.08 L363.80,150.18 L364.30,150.28 L364.80,150.38 L365.30,150.50 L365.80,150.62 L366.30,150.74 L366.80,150.87 L367.30,151.00 L367.80,151.14 L368.30,151.28 L368.80,151.42 L369.30,151.56 L369.80,151.71 L370.30,151.86 L370.80,152.01 L371.30,152.16 L371.80,152.30 L372.30,152.45 L372.80,152.60 L373.30,152.75 L373.80,152.89 L374.30,153.04 L374.80,153.18 L375.30,153.32 L375.80,153.45 L376.30,153.58 L376.80,153.71 L377.30,153.83 L377.80,153.95 L378.30,154.06 L378.80,154.16 L379.30,154.26 L379.80,154.35 L380.30,154.44 L380.80,154.52 L381.30,154.58 L381.80,154.64 L382.30,154.70 L382.80,154.74 L383.30,154.77 L383.80,154.79 L384.30,154.80 L384.80,154.79 L385.30,154.76 L385.80,154.70 L386.30,154.61 L386.80,154.50 L387.30,154.36 L387.80,154.20 L388.30,154.01 L388.80,153.81 L389.30,153.59 L389.80,153.35 L390.30,153.09 L390.80,152.82 L391.30,152.54 L391.80,152.24 L392.30,151.93 L392.80,151.62 L393.30,151.30 L393.80,150.97 L394.30,150.63 L394.80,150.29 L395.30,149.95 L395.80,149.61 L396.30,149.27 L396.40,149.20" fill="none" stroke="#2f5f6c" stroke-width="1.9" stroke-linejoin="round" stroke-linecap="round"/>
<text transform="translate(347.66,25.76) scale(1.0232,1)" font-size="13.66" font-weight="bold" font-style="normal" fill="#b2d9ba" >19.5</text>
<text transform="translate(348.00,42.07) scale(1.0179,1)" font-size="13.10" font-weight="bold" font-style="normal" fill="#94bda8" >15.0</text>
<text transform="translate(347.99,60.77) scale(1.0261,1)" font-size="13.10" font-weight="bold" font-style="normal" fill="#8ab3a2" >13.5</text>
<text transform="translate(348.51,77.18) scale(1.0682,1)" font-size="12.39" font-weight="bold" font-style="normal" fill="#79a498" >11.0</text>
<text transform="translate(353.70,96.07) scale(1.0857,1)" font-size="13.10" font-weight="bold" font-style="normal" fill="#6b9790" >9.0</text>
<text transform="translate(354.24,114.76) scale(0.9819,1)" font-size="14.14" font-weight="bold" font-style="normal" fill="#618e8a" >7.5</text>
<text transform="translate(353.70,131.87) scale(1.1344,1)" font-size="12.54" font-weight="bold" font-style="normal" fill="#578584" >6.0</text>
<text transform="translate(353.85,147.67) scale(1.1311,1)" font-size="12.54" font-weight="bold" font-style="normal" fill="#47757a" >3.5</text>
<text transform="translate(340.51,164.88) scale(1.2265,1)" font-size="11.97" font-weight="bold" font-style="normal" fill="#2f5f6c" >0.0 kbar</text>
<rect x="30.9" y="0.2" width="382.40000000000003" height="166.0" fill="none" stroke="#000" stroke-width="1.2"/>
<path d="M95.76,166.2v-7M95.76,0.2v7M174.76,166.2v-7M174.76,0.2v7M253.76,166.2v-7M253.76,0.2v7M332.76,166.2v-7M332.76,0.2v7M411.76,166.2v-7M411.76,0.2v7" stroke="#000" stroke-width="1.4" fill="none"/>
<path d="M30.9,13.95h7M413.3,13.95h-7M30.9,42.98h7M413.3,42.98h-7M30.9,72.01h7M413.3,72.01h-7M30.9,101.04h7M413.3,101.04h-7M30.9,130.07h7M413.3,130.07h-7M30.9,159.10h7M413.3,159.10h-7" stroke="#000" stroke-width="1.4" fill="none"/>
<text transform="translate(86.54,183.65) scale(1.0787,1)" font-size="15.00" font-weight="normal" font-style="normal" fill="#000" stroke="#000" stroke-width="0.22" >15</text>
<text transform="translate(165.96,183.65) scale(1.0621,1)" font-size="14.79" font-weight="normal" font-style="normal" fill="#000" stroke="#000" stroke-width="0.22" >20</text>
<text transform="translate(244.86,183.65) scale(1.0673,1)" font-size="14.79" font-weight="normal" font-style="normal" fill="#000" stroke="#000" stroke-width="0.22" >25</text>
<text transform="translate(324.03,183.65) scale(1.0519,1)" font-size="14.79" font-weight="normal" font-style="normal" fill="#000" stroke="#000" stroke-width="0.22" >30</text>
<text transform="translate(403.02,183.65) scale(1.0570,1)" font-size="14.79" font-weight="normal" font-style="normal" fill="#000" stroke="#000" stroke-width="0.22" >35</text>
<text transform="translate(197.50,205.08) scale(1.0549,1)" font-size="14.31" font-weight="normal" font-style="italic" fill="#000" stroke="#000" stroke-width="0.22" >μ</text>
<text transform="translate(206.62,207.49) scale(0.9072,1)" font-size="10.56" font-weight="normal" font-style="normal" fill="#000" stroke="#000" stroke-width="0.22" >0</text>
<text transform="translate(212.07,204.60) scale(1.0342,1)" font-size="13.91" font-weight="normal" font-style="italic" fill="#000" stroke="#000" stroke-width="0.22" >H</text>
<text transform="translate(227.38,204.24) scale(1.1649,1)" font-size="13.16" font-weight="normal" font-style="normal" fill="#000" stroke="#000" stroke-width="0.22" >(T)</text>
<text transform="translate(10.46,82.55) rotate(-90) scale(1.2113,1)" font-size="13.05" font-weight="normal" font-style="normal" fill="#000" stroke="#000" stroke-width="0.22" >(arb.)</text>
<text transform="translate(10.90,122.90) rotate(-90) scale(1.0068,1)" font-size="13.19" font-weight="normal" font-style="normal" fill="#000" stroke="#000" stroke-width="0.22" >Δ</text>
<text transform="translate(10.90,113.57) rotate(-90) scale(1.2231,1)" font-size="13.38" font-weight="normal" font-style="italic" fill="#000" stroke="#000" stroke-width="0.22" >f</text>
<text transform="translate(13.01,108.47) rotate(-90) scale(1.0199,1)" font-size="9.44" font-weight="normal" font-style="italic" fill="#000" stroke="#000" stroke-width="0.22" >TDO</text>
<text transform="translate(38.92,118.05) scale(1.0514,1)" font-size="15.00" font-weight="normal" font-style="normal" fill="#000" stroke="#000" stroke-width="0.22" >UTe</text>
<text transform="translate(66.61,121.20) scale(1.7308,1)" font-size="6.86" font-weight="normal" font-style="normal" fill="#000" stroke="#000" stroke-width="0.22" >2</text>
<text transform="translate(76.88,118.06) scale(1.2023,1)" font-size="14.29" font-weight="normal" font-style="italic" fill="#000" stroke="#000" stroke-width="0.22" >H//a</text>
<text transform="translate(42.48,138.70) scale(0.9110,1)" font-size="16.09" font-weight="normal" font-style="italic" fill="#000" stroke="#000" stroke-width="0.22" >T</text>
<path d="M55.4,134.7 C56.6,132.2 58.2,132.4 59.2,133.5 C60.2,134.6 61.8,134.7 62.8,132.4" fill="none" stroke="#000" stroke-width="1.25" stroke-linecap="round"/>
<text transform="translate(67.34,138.54) scale(1.0498,1)" font-size="15.63" font-weight="normal" font-style="normal" fill="#000" stroke="#000" stroke-width="0.22" >0.5</text>
<text transform="translate(93.04,138.70) scale(1.0595,1)" font-size="16.09" font-weight="normal" font-style="normal" fill="#000" stroke="#000" stroke-width="0.22" >K</text>
<text transform="translate(39.16,157.51) scale(0.8586,1)" font-size="18.55" font-weight="normal" font-style="normal" fill="#000" stroke="#000" stroke-width="0.22" >a</text>
<path d="M505.10,8.00 L505.60,8.30 L506.10,8.61 L506.60,8.91 L507.10,9.21 L507.60,9.51 L508.10,9.82 L508.60,10.12 L509.10,10.42 L509.60,10.72 L510.10,11.02 L510.60,11.33 L511.10,11.63 L511.60,11.93 L512.10,12.23 L512.60,12.53 L513.10,12.83 L513.60,13.13 L514.10,13.43 L514.60,13.73 L515.10,14.03 L515.60,14.32 L516.10,14.62 L516.60,14.92 L517.10,15.22 L517.60,15.52 L518.10,15.82 L518.60,16.12 L519.10,16.42 L519.60,16.72 L520.10,17.02 L520.60,17.32 L521.10,17.63 L521.60,17.93 L522.10,18.23 L522.60,18.53 L523.10,18.84 L523.60,19.14 L524.10,19.44 L524.60,19.74 L525.10,20.04 L525.60,20.34 L526.10,20.64 L526.60,20.94 L527.10,21.23 L527.60,21.53 L528.10,21.82 L528.60,22.12 L529.10,22.41 L529.60,22.70 L530.10,22.99 L530.60,23.27 L531.10,23.56 L531.60,23.84 L532.10,24.12 L532.60,24.40 L533.10,24.67 L533.60,24.95 L534.10,25.22 L534.60,25.48 L535.10,25.75 L535.60,26.01 L536.10,26.28 L536.60,26.54 L537.10,26.80 L537.60,27.05 L538.10,27.31 L538.60,27.56 L539.10,27.81 L539.60,28.07 L540.10,28.32 L540.60,28.56 L541.10,28.81 L541.60,29.06 L542.10,29.31 L542.60,29.55 L543.10,29.80 L543.60,30.04 L544.10,30.29 L544.60,30.53 L545.10,30.78 L545.60,31.02 L546.10,31.27 L546.60,31.51 L547.10,31.76 L547.60,32.01 L548.10,32.25 L548.60,32.50 L549.10,32.75 L549.60,33.00 L550.10,33.25 L550.60,33.50 L551.10,33.75 L551.60,34.01 L552.10,34.26 L552.60,34.52 L553.10,34.78 L553.60,35.04 L554.10,35.30 L554.60,35.56 L555.10,35.82 L555.60,36.08 L556.10,36.34 L556.60,36.60 L557.10,36.86 L557.60,37.13 L558.10,37.39 L558.60,37.65 L559.10,37.91 L559.60,38.17 L560.10,38.43 L560.60,38.69 L561.10,38.95 L561.60,39.21 L562.10,39.47 L562.60,39.72 L563.10,39.98 L563.60,40.23 L564.10,40.48 L564.60,40.73 L565.10,40.98 L565.60,41.23 L566.10,41.47 L566.60,41.71 L567.10,41.96 L567.60,42.19 L568.10,42.43 L568.60,42.66 L569.10,42.89 L569.60,43.12 L570.10,43.34 L570.60,43.57 L571.10,43.78 L571.60,44.00 L572.10,44.21 L572.60,44.42 L573.10,44.63 L573.60,44.84 L574.10,45.04 L574.60,45.24 L575.10,45.45 L575.60,45.65 L576.10,45.85 L576.60,46.04 L577.10,46.24 L577.60,46.44 L578.10,46.64 L578.60,46.84 L579.10,47.04 L579.60,47.24 L580.10,47.44 L580.60,47.64 L581.10,47.84 L581.60,48.04 L582.10,48.24 L582.60,48.44 L583.10,48.64 L583.60,48.84 L584.10,49.04 L584.60,49.24 L585.10,49.43 L585.60,49.63 L586.10,49.83 L586.60,50.03 L587.10,50.22 L587.60,50.42 L588.10,50.62 L588.60,50.81 L589.10,51.01 L589.60,51.21 L590.10,51.40 L590.60,51.60 L591.10,51.79 L591.60,51.99 L592.10,52.19 L592.60,52.38 L593.10,52.58 L593.60,52.77 L594.10,52.97 L594.60,53.17 L595.10,53.36 L595.60,53.56 L596.10,53.76 L596.60,53.95 L597.10,54.15 L597.60,54.35 L598.10,54.55 L598.60,54.74 L599.10,54.94 L599.60,55.14 L600.10,55.34 L600.60,55.54 L601.10,55.73 L601.60,55.93 L602.10,56.13 L602.60,56.32 L603.10,56.52 L603.60,56.71 L604.10,56.91 L604.60,57.10 L605.10,57.30 L605.60,57.49 L606.10,57.68 L606.60,57.88 L607.10,58.07 L607.60,58.27 L608.10,58.46 L608.60,58.65 L609.10,58.85 L609.60,59.04 L610.10,59.23 L610.60,59.43 L611.10,59.62 L611.60,59.82 L612.10,60.01 L612.60,60.20 L613.10,60.40 L613.60,60.59 L614.10,60.79 L614.60,60.98 L615.10,61.18 L615.60,61.38 L616.10,61.57 L616.60,61.77 L617.10,61.97 L617.60,62.17 L618.10,62.37 L618.60,62.56 L619.10,62.76 L619.60,62.97 L620.10,63.17 L620.60,63.37 L621.10,63.57 L621.60,63.78 L622.10,63.98 L622.60,64.19 L623.10,64.39 L623.60,64.60 L624.10,64.81 L624.60,65.02 L625.10,65.23 L625.60,65.44 L626.10,65.65 L626.60,65.86 L627.10,66.08 L627.60,66.29 L628.10,66.51 L628.60,66.72 L629.10,66.94 L629.60,67.16 L630.10,67.39 L630.60,67.61 L631.10,67.83 L631.60,68.06 L632.10,68.28 L632.60,68.51 L633.10,68.74 L633.60,68.97 L634.10,69.20 L634.60,69.43 L635.10,69.67 L635.60,69.90 L636.10,70.14 L636.60,70.38 L637.10,70.61 L637.60,70.85 L638.10,71.09 L638.60,71.33 L639.10,71.57 L639.60,71.82 L640.10,72.06 L640.60,72.30 L641.10,72.55 L641.60,72.79 L642.10,73.04 L642.60,73.29 L643.10,73.54 L643.60,73.78 L644.10,74.03 L644.60,74.28 L645.10,74.54 L645.60,74.79 L646.10,75.04 L646.60,75.29 L647.10,75.55 L647.60,75.80" fill="none" stroke="#b2d9ba" stroke-width="1.9" stroke-linejoin="round" stroke-linecap="round"/>
<path d="M505.10,8.30 L505.60,9.19 L506.10,10.07 L506.60,10.96 L507.10,11.84 L507.60,12.72 L508.10,13.59 L508.60,14.47 L509.10,15.34 L509.60,16.21 L510.10,17.07 L510.60,17.94 L511.10,18.80 L511.60,19.66 L512.10,20.51 L512.60,21.37 L513.10,22.21 L513.60,23.06 L514.10,23.90 L514.60,24.74 L515.10,25.58 L515.60,26.42 L516.10,27.26 L516.60,28.10 L517.10,28.94 L517.60,29.80 L518.10,30.68 L518.60,31.57 L519.10,32.46 L519.60,33.34 L520.10,34.20 L520.60,35.03 L521.10,35.82 L521.60,36.57 L522.10,37.27 L522.60,37.94 L523.10,38.58 L523.60,39.19 L524.10,39.77 L524.60,40.34 L525.10,40.88 L525.60,41.40 L526.10,41.89 L526.60,42.34 L527.10,42.77 L527.60,43.19 L528.10,43.60 L528.60,44.03 L529.10,44.48 L529.60,44.97 L530.10,45.51 L530.60,46.11 L531.10,46.76 L531.60,47.46 L532.10,48.20 L532.60,48.97 L533.10,49.76 L533.60,50.57 L534.10,51.38 L534.60,52.19 L535.10,53.00 L535.60,53.79 L536.10,54.55 L536.60,55.28 L537.10,55.97 L537.60,56.62 L538.10,57.24 L538.60,57.84 L539.10,58.42 L539.60,58.99 L540.10,59.56 L540.60,60.13 L541.10,60.71 L541.60,61.29 L542.10,61.90 L542.60,62.53 L543.10,63.18 L543.60,63.85 L544.10,64.53 L544.60,65.23 L545.10,65.94 L545.60,66.66 L546.10,67.38 L546.60,68.11 L547.10,68.84 L547.60,69.56 L548.10,70.29 L548.60,71.00 L549.10,71.71 L549.60,72.41 L550.10,73.09 L550.60,73.75 L551.10,74.40 L551.60,75.02 L552.10,75.63 L552.60,76.22 L553.10,76.80 L553.60,77.36 L554.10,77.92 L554.60,78.47 L555.10,79.01 L555.60,79.55 L556.10,80.08 L556.60,80.61 L557.10,81.14 L557.60,81.68 L558.10,82.22 L558.60,82.76 L559.10,83.32 L559.60,83.88 L560.10,84.45 L560.60,85.04 L561.10,85.64 L561.60,86.25 L562.10,86.88 L562.60,87.51 L563.10,88.15 L563.60,88.79 L564.10,89.44 L564.60,90.07 L565.10,90.71 L565.60,91.33 L566.10,91.95 L566.60,92.55 L567.10,93.13 L567.60,93.70 L568.10,94.25 L568.60,94.78 L569.10,95.30 L569.60,95.81 L570.10,96.31 L570.60,96.80 L571.10,97.28 L571.60,97.76 L572.10,98.24 L572.60,98.72 L573.10,99.19 L573.60,99.67 L574.10,100.16 L574.60,100.65 L575.10,101.14 L575.60,101.65 L576.10,102.17 L576.60,102.70 L577.10,103.25 L577.60,103.81 L578.10,104.39 L578.60,104.99 L579.10,105.59 L579.60,106.21 L580.10,106.83 L580.60,107.45 L581.10,108.08 L581.60,108.71 L582.10,109.34 L582.60,109.96 L583.10,110.58 L583.60,111.19 L584.10,111.78 L584.60,112.37 L585.10,112.93 L585.60,113.49 L586.10,114.02 L586.60,114.53 L587.10,115.01 L587.60,115.47 L588.10,115.92 L588.60,116.34 L589.10,116.75 L589.60,117.15 L590.10,117.54 L590.60,117.92 L591.10,118.30 L591.60,118.67 L592.10,119.03 L592.60,119.40 L593.10,119.76 L593.60,120.13 L594.10,120.51 L594.60,120.89 L595.10,121.28 L595.60,121.67 L596.10,122.05 L596.60,122.43 L597.10,122.81 L597.60,123.19 L598.10,123.59 L598.60,124.00 L599.10,124.42 L599.60,124.87 L600.10,125.34 L600.60,125.82 L601.10,126.32 L601.60,126.83 L602.10,127.35 L602.60,127.88 L603.10,128.42 L603.60,128.96 L604.10,129.49 L604.60,130.03 L605.10,130.56 L605.60,131.09 L606.10,131.60 L606.60,132.13 L607.10,132.66 L607.60,133.21 L608.10,133.76 L608.60,134.31 L609.10,134.85 L609.60,135.38 L610.10,135.89 L610.60,136.38 L611.10,136.85 L611.60,137.28 L612.10,137.68 L612.60,138.05 L613.10,138.41 L613.60,138.75 L614.10,139.08 L614.60,139.40 L615.10,139.71 L615.60,140.01 L616.10,140.30 L616.60,140.58 L617.10,140.86 L617.60,141.14 L618.10,141.41 L618.60,141.68 L619.10,141.95 L619.60,142.22 L620.10,142.47 L620.60,142.71 L621.10,142.94 L621.60,143.17 L622.10,143.39 L622.60,143.62 L623.10,143.85 L623.60,144.08 L624.10,144.32 L624.60,144.58 L625.10,144.84 L625.60,145.12 L626.10,145.42 L626.60,145.75 L627.10,146.10 L627.60,146.46 L628.10,146.85 L628.60,147.25 L629.10,147.66 L629.60,148.08 L630.10,148.51 L630.60,148.93 L631.10,149.36 L631.60,149.79 L632.10,150.21 L632.60,150.62 L633.10,151.02 L633.60,151.40 L634.10,151.77 L634.60,152.14 L635.10,152.50 L635.60,152.87 L636.10,153.23 L636.60,153.59 L637.10,153.95 L637.60,154.30 L638.10,154.64 L638.60,154.97 L639.10,155.30 L639.60,155.61 L640.10,155.90 L640.60,156.19 L641.10,156.45 L641.60,156.71 L642.10,156.96 L642.60,157.20 L643.10,157.44 L643.60,157.66 L644.10,157.88 L644.60,158.09 L645.10,158.29 L645.60,158.48 L646.10,158.66 L646.60,158.83 L646.80,158.90" fill="none" stroke="#2f5f6c" stroke-width="2.0" stroke-linejoin="round" stroke-linecap="round"/>
<rect x="497.6" y="0.2" width="156.19999999999993" height="166.0" fill="none" stroke="#000" stroke-width="1.2"/>
<path d="M541.20,166.2v-7M541.20,0.2v7M614.50,166.2v-7M614.50,0.2v7" stroke="#000" stroke-width="1.4" fill="none"/>
<path d="M497.6,7.94h7M653.8,7.94h-7M497.6,47.39h7M653.8,47.39h-7M497.6,86.84h7M653.8,86.84h-7M497.6,126.29h7M653.8,126.29h-7M497.6,165.74h7M653.8,165.74h-7" stroke="#000" stroke-width="1.4" fill="none"/>
<text transform="translate(469.13,12.90) scale(1.0881,1)" font-size="14.23" font-weight="normal" font-style="normal" fill="#000" stroke="#000" stroke-width="0.22" >2.0</text>
<text transform="translate(468.71,52.35) scale(1.0980,1)" font-size="14.43" font-weight="normal" font-style="normal" fill="#000" stroke="#000" stroke-width="0.22" >1.5</text>
<text transform="translate(468.72,91.80) scale(1.1094,1)" font-size="14.23" font-weight="normal" font-style="normal" fill="#000" stroke="#000" stroke-width="0.22" >1.0</text>
<text transform="translate(469.28,131.25) scale(1.0840,1)" font-size="14.23" font-weight="normal" font-style="normal" fill="#000" stroke="#000" stroke-width="0.22" >0.5</text>
<text transform="translate(469.29,170.70) scale(1.0798,1)" font-size="14.23" font-weight="normal" font-style="normal" fill="#000" stroke="#000" stroke-width="0.22" >0.0</text>
<text transform="translate(532.36,183.65) scale(1.0621,1)" font-size="14.79" font-weight="normal" font-style="normal" fill="#000" stroke="#000" stroke-width="0.22" >20</text>
<text transform="translate(605.83,183.65) scale(1.0519,1)" font-size="14.79" font-weight="normal" font-style="normal" fill="#000" stroke="#000" stroke-width="0.22" >30</text>
<text transform="translate(551.50,205.08) scale(1.0549,1)" font-size="14.31" font-weight="normal" font-style="italic" fill="#000" stroke="#000" stroke-width="0.22" >μ</text>
<text transform="translate(560.62,207.49) scale(0.9072,1)" font-size="10.56" font-weight="normal" font-style="normal" fill="#000" stroke="#000" stroke-width="0.22" >0</text>
<text transform="translate(566.07,204.60) scale(1.0342,1)" font-size="13.91" font-weight="normal" font-style="italic" fill="#000" stroke="#000" stroke-width="0.22" >H</text>
<text transform="translate(581.38,204.24) scale(1.1649,1)" font-size="13.16" font-weight="normal" font-style="normal" fill="#000" stroke="#000" stroke-width="0.22" >(T)</text>
<text transform="translate(580.93,42.76) scale(1.0106,1)" font-size="14.29" font-weight="bold" font-style="normal" fill="#b2d9ba" >19.5 kbar</text>
<text transform="translate(528.51,131.06) scale(1.0416,1)" font-size="14.15" font-weight="bold" font-style="normal" fill="#2f5f6c" >0.0 kbar</text>
<text transform="translate(503.91,157.62) scale(1.0768,1)" font-size="18.37" font-weight="normal" font-style="normal" fill="#000" stroke="#000" stroke-width="0.22" >b</text>
<text transform="translate(454.74,87.97) rotate(-90) scale(1.1052,1)" font-size="13.16" font-weight="normal" font-style="normal" fill="#000" stroke="#000" stroke-width="0.22" >(MHz)</text>
<text transform="translate(455.30,118.59) rotate(-90) scale(1.2303,1)" font-size="13.79" font-weight="normal" font-style="italic" fill="#000" stroke="#000" stroke-width="0.22" >f</text>
<text transform="translate(457.90,112.80) rotate(-90) scale(0.9050,1)" font-size="9.86" font-weight="normal" font-style="italic" fill="#000" stroke="#000" stroke-width="0.22" >TDO</text>
<clipPath id="clipc"><rect x="30.9" y="213.9" width="81.1" height="219.4"/></clipPath>
<g clip-path="url(#clipc)">
<path d="M30.80,245.90 L31.05,245.82 L31.30,245.75 L31.55,245.68 L31.80,245.62 L32.05,245.57 L32.30,245.52 L32.55,245.48 L32.80,245.44 L33.05,245.41 L33.30,245.38 L33.55,245.36 L33.80,245.34 L34.05,245.32 L34.30,245.31 L34.55,245.30 L34.80,245.30 L35.05,245.30 L35.30,245.31 L35.55,245.35 L35.80,245.39 L36.05,245.45 L36.30,245.52 L36.55,245.59 L36.80,245.66 L37.05,245.72 L37.30,245.78 L37.55,245.84 L37.80,245.87 L38.05,245.90 L38.30,245.90 L38.55,245.87 L38.80,245.82 L39.05,245.75 L39.30,245.66 L39.55,245.55 L39.80,245.44 L40.05,245.32 L40.30,245.21 L40.55,245.09 L40.80,244.98 L41.05,244.89 L41.30,244.81 L41.55,244.75 L41.80,244.71 L42.05,244.70 L42.30,244.74 L42.55,244.82 L42.80,244.94 L43.05,245.08 L43.30,245.23 L43.55,245.38 L43.80,245.51 L44.05,245.61 L44.30,245.68 L44.55,245.70 L44.80,245.67 L45.05,245.59 L45.30,245.48 L45.55,245.35 L45.80,245.19 L46.05,245.03 L46.30,244.87 L46.55,244.71 L46.80,244.57 L47.05,244.45 L47.30,244.36 L47.55,244.31 L47.80,244.31 L48.05,244.37 L48.30,244.51 L48.55,244.69 L48.80,244.91 L49.05,245.15 L49.30,245.40 L49.55,245.65 L49.80,245.89 L50.05,246.09 L50.30,246.25 L50.55,246.36 L50.80,246.40 L51.05,246.29 L51.30,245.98 L51.55,245.50 L51.80,244.87 L52.05,244.12 L52.30,243.28 L52.55,242.37 L52.80,241.43 L53.05,240.48 L53.30,239.55 L53.55,238.67 L53.80,237.77 L54.05,236.69 L54.30,235.47 L54.55,234.15 L54.80,232.76 L55.05,231.35 L55.30,229.96 L55.55,228.61 L55.80,227.36 L56.05,226.24 L56.30,225.28 L56.55,224.53 L56.80,224.03 L57.05,223.81 L57.30,224.00 L57.55,224.78 L57.80,226.03 L58.05,227.67 L58.30,229.60 L58.55,231.71 L58.80,233.92 L59.05,236.11 L59.30,238.20 L59.55,240.08 L59.80,241.66 L60.05,242.83 L60.30,243.50 L60.55,243.85 L60.80,244.12 L61.05,244.35 L61.30,244.54 L61.55,244.73 L61.80,244.92 L62.05,245.14 L62.30,245.42 L62.55,245.77 L62.80,246.18 L63.05,246.60 L63.30,247.01 L63.55,247.37 L63.80,247.64 L64.05,247.79 L64.30,247.83 L64.55,247.86 L64.80,247.89 L65.05,247.92 L65.30,247.94 L65.55,247.96 L65.80,247.97 L66.05,247.98 L66.30,248.00 L66.55,248.01 L66.80,248.02 L67.05,248.04 L67.30,248.05 L67.55,248.07 L67.80,248.09 L68.05,248.12 L68.30,248.15 L68.55,248.18 L68.80,248.22 L69.05,248.26 L69.30,248.31 L69.55,248.35 L69.80,248.40 L70.05,248.45 L70.30,248.49 L70.55,248.54 L70.80,248.58 L71.05,248.63 L71.30,248.67 L71.55,248.70 L71.80,248.73 L72.05,248.76 L72.30,248.78 L72.55,248.79 L72.80,248.80 L73.05,248.80 L73.30,248.79 L73.55,248.78 L73.80,248.77 L74.05,248.74 L74.30,248.72 L74.55,248.69 L74.80,248.65 L75.05,248.61 L75.30,248.57 L75.55,248.52 L75.80,248.47 L76.05,248.42 L76.30,248.36 L76.55,248.30 L76.80,248.23 L77.05,248.17 L77.30,248.10 L77.55,248.01 L77.80,247.87 L78.05,247.70 L78.30,247.50 L78.55,247.27 L78.80,247.02 L79.05,246.76 L79.30,246.49 L79.55,246.23 L79.80,245.96 L80.05,245.71 L80.30,245.47 L80.55,245.26 L80.80,245.04 L81.05,244.80 L81.30,244.56 L81.55,244.30 L81.80,244.04 L82.05,243.79 L82.30,243.53 L82.55,243.29 L82.80,243.06 L83.05,242.85 L83.30,242.66 L83.55,242.50 L83.80,242.37 L84.05,242.27 L84.30,242.21 L84.55,242.20 L84.80,242.26 L85.05,242.39 L85.30,242.58 L85.55,242.83 L85.80,243.13 L86.05,243.46 L86.30,243.82 L86.55,244.20 L86.80,244.59 L87.05,244.98 L87.30,245.36 L87.55,245.73 L87.80,246.07 L88.05,246.37 L88.30,246.63 L88.55,246.84 L88.80,247.03 L89.05,247.22 L89.30,247.42 L89.55,247.61 L89.80,247.80 L90.05,247.97 L90.30,248.14 L90.55,248.29 L90.80,248.43 L91.05,248.55 L91.30,248.65 L91.55,248.73 L91.80,248.78 L92.05,248.80 L92.30,248.82 L92.55,248.83 L92.80,248.84 L93.05,248.85 L93.30,248.86 L93.55,248.87 L93.80,248.88 L94.05,248.89 L94.30,248.90 L94.55,248.91 L94.80,248.92 L95.05,248.93 L95.30,248.94 L95.55,248.94 L95.80,248.95 L96.05,248.96 L96.30,248.96 L96.55,248.97 L96.80,248.97 L97.05,248.98 L97.30,248.98 L97.55,248.98 L97.80,248.99 L98.05,248.99 L98.30,248.99 L98.55,248.99 L98.80,249.00 L99.05,249.00 L99.30,249.00 L99.55,249.00 L99.80,249.00 L100.05,249.00 L100.30,249.00 L100.55,249.00 L100.80,249.00 L101.05,249.00 L101.30,249.00 L101.55,249.00 L101.80,249.00 L102.05,249.00 L102.30,249.00 L102.55,249.00 L102.80,249.00 L103.05,249.00 L103.30,249.00 L103.55,249.00 L103.80,249.00 L104.05,249.00 L104.30,249.00 L104.55,249.00 L104.80,249.00 L105.05,249.00 L105.30,249.00 L105.55,249.00 L105.80,249.00 L106.05,249.00 L106.30,249.00 L106.55,249.00 L106.80,249.00 L107.05,249.00 L107.30,249.00 L107.55,249.00 L107.80,249.00 L108.05,249.00 L108.30,249.00 L108.55,249.00 L108.80,249.00 L109.05,249.00 L109.30,249.00 L109.55,249.00 L109.80,249.00 L110.05,249.00 L110.30,249.00 L110.55,249.00 L110.80,249.00 L111.05,249.00 L111.30,249.00 L111.50,249.00" fill="none" stroke="#b2d9ba" stroke-width="1.9" stroke-linejoin="round" stroke-linecap="round"/>
<path d="M30.80,266.80 L31.05,267.02 L31.30,267.21 L31.55,267.37 L31.80,267.51 L32.05,267.63 L32.30,267.73 L32.55,267.81 L32.80,267.87 L33.05,267.91 L33.30,267.95 L33.55,267.97 L33.80,267.99 L34.05,268.00 L34.30,268.00 L34.55,267.99 L34.80,267.92 L35.05,267.80 L35.30,267.62 L35.55,267.40 L35.80,267.14 L36.05,266.83 L36.30,266.50 L36.55,266.14 L36.80,265.76 L37.05,265.37 L37.30,264.96 L37.55,264.55 L37.80,264.13 L38.05,263.72 L38.30,263.31 L38.55,262.92 L38.80,262.55 L39.05,262.20 L39.30,261.88 L39.55,261.59 L39.80,261.34 L40.05,261.14 L40.30,260.96 L40.55,260.78 L40.80,260.60 L41.05,260.43 L41.30,260.26 L41.55,260.12 L41.80,259.99 L42.05,259.90 L42.30,259.83 L42.55,259.80 L42.80,259.80 L43.05,259.82 L43.30,259.84 L43.55,259.87 L43.80,259.90 L44.05,259.95 L44.30,260.00 L44.55,260.05 L44.80,260.11 L45.05,260.17 L45.30,260.23 L45.55,260.29 L45.80,260.35 L46.05,260.42 L46.30,260.48 L46.55,260.54 L46.80,260.61 L47.05,260.70 L47.30,260.79 L47.55,260.89 L47.80,261.00 L48.05,261.11 L48.30,261.21 L48.55,261.31 L48.80,261.41 L49.05,261.49 L49.30,261.57 L49.55,261.63 L49.80,261.67 L50.05,261.70 L50.30,261.68 L50.55,261.48 L50.80,261.09 L51.05,260.53 L51.30,259.83 L51.55,259.02 L51.80,258.12 L52.05,257.17 L52.30,256.18 L52.55,255.19 L52.80,254.22 L53.05,253.30 L53.30,252.46 L53.55,251.73 L53.80,251.07 L54.05,250.37 L54.30,249.63 L54.55,248.88 L54.80,248.12 L55.05,247.37 L55.30,246.64 L55.55,245.94 L55.80,245.29 L56.05,244.69 L56.30,244.16 L56.55,243.72 L56.80,243.37 L57.05,243.13 L57.30,243.01 L57.55,243.03 L57.80,243.22 L58.05,243.57 L58.30,244.06 L58.55,244.67 L58.80,245.38 L59.05,246.17 L59.30,247.03 L59.55,247.94 L59.80,248.87 L60.05,249.82 L60.30,250.77 L60.55,251.69 L60.80,252.56 L61.05,253.43 L61.30,254.47 L61.55,255.65 L61.80,256.90 L62.05,258.18 L62.30,259.42 L62.55,260.56 L62.80,261.55 L63.05,262.32 L63.30,262.83 L63.55,263.01 L63.80,263.08 L64.05,263.14 L64.30,263.18 L64.55,263.23 L64.80,263.26 L65.05,263.29 L65.30,263.32 L65.55,263.35 L65.80,263.37 L66.05,263.39 L66.30,263.41 L66.55,263.43 L66.80,263.46 L67.05,263.48 L67.30,263.51 L67.55,263.54 L67.80,263.58 L68.05,263.63 L68.30,263.68 L68.55,263.74 L68.80,263.80 L69.05,263.86 L69.30,263.93 L69.55,264.01 L69.80,264.08 L70.05,264.16 L70.30,264.24 L70.55,264.32 L70.80,264.41 L71.05,264.49 L71.30,264.57 L71.55,264.65 L71.80,264.73 L72.05,264.81 L72.30,264.88 L72.55,264.95 L72.80,265.02 L73.05,265.08 L73.30,265.14 L73.55,265.19 L73.80,265.24 L74.05,265.28 L74.30,265.31 L74.55,265.35 L74.80,265.38 L75.05,265.41 L75.30,265.44 L75.55,265.47 L75.80,265.50 L76.05,265.53 L76.30,265.56 L76.55,265.59 L76.80,265.61 L77.05,265.64 L77.30,265.66 L77.55,265.69 L77.80,265.71 L78.05,265.72 L78.30,265.74 L78.55,265.76 L78.80,265.77 L79.05,265.78 L79.30,265.79 L79.55,265.80 L79.80,265.80 L80.05,265.80 L80.30,265.78 L80.55,265.74 L80.80,265.69 L81.05,265.61 L81.30,265.53 L81.55,265.43 L81.80,265.33 L82.05,265.22 L82.30,265.11 L82.55,265.01 L82.80,264.91 L83.05,264.82 L83.30,264.74 L83.55,264.68 L83.80,264.63 L84.05,264.60 L84.30,264.60 L84.55,264.63 L84.80,264.68 L85.05,264.75 L85.30,264.84 L85.55,264.94 L85.80,265.05 L86.05,265.17 L86.30,265.30 L86.55,265.42 L86.80,265.55 L87.05,265.67 L87.30,265.77 L87.55,265.87 L87.80,265.95 L88.05,266.01 L88.30,266.06 L88.55,266.11 L88.80,266.16 L89.05,266.21 L89.30,266.25 L89.55,266.30 L89.80,266.34 L90.05,266.38 L90.30,266.42 L90.55,266.45 L90.80,266.49 L91.05,266.52 L91.30,266.56 L91.55,266.59 L91.80,266.62 L92.05,266.65 L92.30,266.69 L92.55,266.72 L92.80,266.74 L93.05,266.77 L93.30,266.80 L93.55,266.83 L93.80,266.86 L94.05,266.89 L94.30,266.92 L94.55,266.95 L94.80,266.98 L95.05,267.01 L95.30,267.04 L95.55,267.06 L95.80,267.09 L96.05,267.12 L96.30,267.15 L96.55,267.18 L96.80,267.20 L97.05,267.23 L97.30,267.26 L97.55,267.28 L97.80,267.31 L98.05,267.34 L98.30,267.36 L98.55,267.39 L98.80,267.41 L99.05,267.44 L99.30,267.46 L99.55,267.49 L99.80,267.51 L100.05,267.53 L100.30,267.56 L100.55,267.58 L100.80,267.61 L101.05,267.63 L101.30,267.65 L101.55,267.68 L101.80,267.70 L102.05,267.72 L102.30,267.75 L102.55,267.77 L102.80,267.79 L103.05,267.82 L103.30,267.84 L103.55,267.86 L103.80,267.89 L104.05,267.91 L104.30,267.93 L104.55,267.96 L104.80,267.98 L105.05,268.00 L105.30,268.03 L105.55,268.05 L105.80,268.08 L106.05,268.10 L106.30,268.12 L106.55,268.15 L106.80,268.17 L107.05,268.19 L107.30,268.22 L107.55,268.24 L107.80,268.26 L108.05,268.29 L108.30,268.31 L108.55,268.33 L108.80,268.36 L109.05,268.38 L109.30,268.40 L109.55,268.42 L109.80,268.45 L110.05,268.47 L110.30,268.49 L110.55,268.51 L110.80,268.54 L111.05,268.56 L111.30,268.58 L111.50,268.60" fill="none" stroke="#a1c9b0" stroke-width="1.9" stroke-linejoin="round" stroke-linecap="round"/>
<path d="M30.80,286.50 L31.05,286.49 L31.30,286.47 L31.55,286.45 L31.80,286.43 L32.05,286.42 L32.30,286.39 L32.55,286.37 L32.80,286.35 L33.05,286.32 L33.30,286.30 L33.55,286.27 L33.80,286.24 L34.05,286.21 L34.30,286.18 L34.55,286.15 L34.80,286.12 L35.05,286.09 L35.30,286.05 L35.55,286.02 L35.80,285.99 L36.05,285.95 L36.30,285.92 L36.55,285.88 L36.80,285.84 L37.05,285.81 L37.30,285.77 L37.55,285.72 L37.80,285.66 L38.05,285.60 L38.30,285.53 L38.55,285.47 L38.80,285.40 L39.05,285.33 L39.30,285.26 L39.55,285.20 L39.80,285.14 L40.05,285.09 L40.30,285.05 L40.55,285.02 L40.80,285.00 L41.05,285.00 L41.30,285.09 L41.55,285.29 L41.80,285.57 L42.05,285.89 L42.30,286.24 L42.55,286.57 L42.80,286.86 L43.05,287.07 L43.30,287.19 L43.55,287.18 L43.80,287.07 L44.05,286.87 L44.30,286.63 L44.55,286.35 L44.80,286.06 L45.05,285.79 L45.30,285.55 L45.55,285.38 L45.80,285.30 L46.05,285.27 L46.30,285.24 L46.55,285.22 L46.80,285.20 L47.05,285.19 L47.30,285.17 L47.55,285.16 L47.80,285.15 L48.05,285.14 L48.30,285.13 L48.55,285.12 L48.80,285.11 L49.05,285.10 L49.30,285.09 L49.55,285.08 L49.80,285.06 L50.05,285.04 L50.30,285.02 L50.55,284.99 L50.80,284.96 L51.05,284.93 L51.30,284.88 L51.55,284.83 L51.80,284.77 L52.05,284.70 L52.30,284.62 L52.55,284.53 L52.80,284.43 L53.05,284.32 L53.30,284.20 L53.55,283.82 L53.80,282.98 L54.05,281.76 L54.30,280.22 L54.55,278.43 L54.80,276.47 L55.05,274.41 L55.30,272.31 L55.55,270.25 L55.80,268.30 L56.05,266.53 L56.30,265.00 L56.55,263.79 L56.80,262.97 L57.05,262.61 L57.30,262.73 L57.55,263.24 L57.80,264.10 L58.05,265.25 L58.30,266.65 L58.55,268.25 L58.80,270.01 L59.05,271.88 L59.30,273.81 L59.55,275.76 L59.80,277.67 L60.05,279.52 L60.30,281.23 L60.55,282.78 L60.80,284.11 L61.05,285.18 L61.30,285.95 L61.55,286.36 L61.80,286.64 L62.05,286.91 L62.30,287.15 L62.55,287.38 L62.80,287.57 L63.05,287.74 L63.30,287.87 L63.55,287.95 L63.80,288.00 L64.05,288.00 L64.30,288.00 L64.55,288.00 L64.80,288.00 L65.05,288.00 L65.30,288.00 L65.55,288.00 L65.80,288.00 L66.05,288.00 L66.30,288.00 L66.55,288.00 L66.80,288.00 L67.05,288.00 L67.30,288.00 L67.55,288.00 L67.80,288.00 L68.05,288.00 L68.30,288.00 L68.55,288.00 L68.80,288.00 L69.05,288.00 L69.30,288.00 L69.55,288.00 L69.80,288.00 L70.05,288.00 L70.30,288.00 L70.55,288.00 L70.80,288.00 L71.05,288.00 L71.30,288.00 L71.55,288.00 L71.80,288.00 L72.05,288.00 L72.30,288.00 L72.55,287.99 L72.80,287.99 L73.05,287.98 L73.30,287.97 L73.55,287.96 L73.80,287.94 L74.05,287.92 L74.30,287.91 L74.55,287.89 L74.80,287.86 L75.05,287.84 L75.30,287.81 L75.55,287.79 L75.80,287.76 L76.05,287.73 L76.30,287.70 L76.55,287.67 L76.80,287.64 L77.05,287.60 L77.30,287.57 L77.55,287.54 L77.80,287.50 L78.05,287.46 L78.30,287.43 L78.55,287.39 L78.80,287.35 L79.05,287.31 L79.30,287.28 L79.55,287.24 L79.80,287.20 L80.05,287.16 L80.30,287.10 L80.55,287.04 L80.80,286.96 L81.05,286.88 L81.30,286.80 L81.55,286.71 L81.80,286.62 L82.05,286.53 L82.30,286.44 L82.55,286.35 L82.80,286.27 L83.05,286.19 L83.30,286.11 L83.55,286.05 L83.80,285.99 L84.05,285.95 L84.30,285.92 L84.55,285.90 L84.80,285.90 L85.05,285.92 L85.30,285.95 L85.55,286.01 L85.80,286.07 L86.05,286.15 L86.30,286.24 L86.55,286.33 L86.80,286.43 L87.05,286.54 L87.30,286.65 L87.55,286.76 L87.80,286.87 L88.05,286.98 L88.30,287.08 L88.55,287.17 L88.80,287.26 L89.05,287.34 L89.30,287.40 L89.55,287.45 L89.80,287.49 L90.05,287.50 L90.30,287.51 L90.55,287.52 L90.80,287.53 L91.05,287.54 L91.30,287.55 L91.55,287.55 L91.80,287.56 L92.05,287.57 L92.30,287.58 L92.55,287.58 L92.80,287.59 L93.05,287.59 L93.30,287.60 L93.55,287.60 L93.80,287.61 L94.05,287.61 L94.30,287.62 L94.55,287.62 L94.80,287.63 L95.05,287.63 L95.30,287.63 L95.55,287.64 L95.80,287.64 L96.05,287.64 L96.30,287.65 L96.55,287.65 L96.80,287.65 L97.05,287.66 L97.30,287.66 L97.55,287.66 L97.80,287.67 L98.05,287.67 L98.30,287.67 L98.55,287.68 L98.80,287.68 L99.05,287.68 L99.30,287.69 L99.55,287.69 L99.80,287.70 L100.05,287.70 L100.30,287.71 L100.55,287.71 L100.80,287.71 L101.05,287.72 L101.30,287.72 L101.55,287.73 L101.80,287.73 L102.05,287.74 L102.30,287.74 L102.55,287.75 L102.80,287.75 L103.05,287.76 L103.30,287.76 L103.55,287.76 L103.80,287.77 L104.05,287.77 L104.30,287.78 L104.55,287.78 L104.80,287.79 L105.05,287.79 L105.30,287.80 L105.55,287.80 L105.80,287.80 L106.05,287.81 L106.30,287.81 L106.55,287.82 L106.80,287.82 L107.05,287.83 L107.30,287.83 L107.55,287.83 L107.80,287.84 L108.05,287.84 L108.30,287.85 L108.55,287.85 L108.80,287.86 L109.05,287.86 L109.30,287.86 L109.55,287.87 L109.80,287.87 L110.05,287.88 L110.30,287.88 L110.55,287.88 L110.80,287.89 L111.05,287.89 L111.30,287.90 L111.50,287.90" fill="none" stroke="#94bda8" stroke-width="1.9" stroke-linejoin="round" stroke-linecap="round"/>
<path d="M30.80,305.80 L31.05,305.84 L31.30,305.88 L31.55,305.92 L31.80,305.95 L32.05,305.99 L32.30,306.02 L32.55,306.05 L32.80,306.07 L33.05,306.10 L33.30,306.12 L33.55,306.14 L33.80,306.16 L34.05,306.18 L34.30,306.19 L34.55,306.21 L34.80,306.22 L35.05,306.23 L35.30,306.24 L35.55,306.25 L35.80,306.26 L36.05,306.27 L36.30,306.28 L36.55,306.28 L36.80,306.29 L37.05,306.29 L37.30,306.29 L37.55,306.29 L37.80,306.30 L38.05,306.30 L38.30,306.30 L38.55,306.30 L38.80,306.30 L39.05,306.30 L39.30,306.30 L39.55,306.30 L39.80,306.29 L40.05,306.28 L40.30,306.26 L40.55,306.24 L40.80,306.21 L41.05,306.18 L41.30,306.14 L41.55,306.09 L41.80,306.05 L42.05,305.99 L42.30,305.94 L42.55,305.89 L42.80,305.83 L43.05,305.77 L43.30,305.72 L43.55,305.66 L43.80,305.60 L44.05,305.54 L44.30,305.48 L44.55,305.43 L44.80,305.38 L45.05,305.33 L45.30,305.28 L45.55,305.24 L45.80,305.20 L46.05,305.16 L46.30,305.12 L46.55,305.08 L46.80,305.04 L47.05,304.99 L47.30,304.95 L47.55,304.91 L47.80,304.87 L48.05,304.83 L48.30,304.80 L48.55,304.77 L48.80,304.74 L49.05,304.72 L49.30,304.71 L49.55,304.70 L49.80,304.70 L50.05,304.75 L50.30,304.84 L50.55,304.96 L50.80,305.09 L51.05,305.23 L51.30,305.37 L51.55,305.48 L51.80,305.56 L52.05,305.60 L52.30,305.42 L52.55,304.72 L52.80,303.58 L53.05,302.05 L53.30,300.23 L53.55,298.18 L53.80,295.98 L54.05,293.70 L54.30,291.42 L54.55,289.22 L54.80,287.17 L55.05,285.35 L55.30,283.82 L55.55,282.68 L55.80,281.98 L56.05,281.81 L56.30,282.06 L56.55,282.65 L56.80,283.54 L57.05,284.68 L57.30,286.03 L57.55,287.56 L57.80,289.23 L58.05,291.00 L58.30,292.82 L58.55,294.65 L58.80,296.47 L59.05,298.22 L59.30,299.88 L59.55,301.39 L59.80,302.72 L60.05,303.83 L60.30,304.68 L60.55,305.23 L60.80,305.55 L61.05,305.85 L61.30,306.12 L61.55,306.35 L61.80,306.53 L62.05,306.65 L62.30,306.70 L62.55,306.71 L62.80,306.71 L63.05,306.72 L63.30,306.73 L63.55,306.73 L63.80,306.74 L64.05,306.75 L64.30,306.75 L64.55,306.76 L64.80,306.76 L65.05,306.77 L65.30,306.77 L65.55,306.78 L65.80,306.78 L66.05,306.78 L66.30,306.79 L66.55,306.79 L66.80,306.80 L67.05,306.80 L67.30,306.80 L67.55,306.81 L67.80,306.81 L68.05,306.81 L68.30,306.81 L68.55,306.82 L68.80,306.82 L69.05,306.82 L69.30,306.82 L69.55,306.82 L69.80,306.83 L70.05,306.83 L70.30,306.83 L70.55,306.83 L70.80,306.83 L71.05,306.83 L71.30,306.84 L71.55,306.84 L71.80,306.84 L72.05,306.84 L72.30,306.84 L72.55,306.84 L72.80,306.84 L73.05,306.84 L73.30,306.85 L73.55,306.85 L73.80,306.85 L74.05,306.85 L74.30,306.85 L74.55,306.85 L74.80,306.85 L75.05,306.85 L75.30,306.86 L75.55,306.86 L75.80,306.86 L76.05,306.86 L76.30,306.86 L76.55,306.86 L76.80,306.87 L77.05,306.87 L77.30,306.87 L77.55,306.87 L77.80,306.87 L78.05,306.88 L78.30,306.88 L78.55,306.88 L78.80,306.88 L79.05,306.89 L79.30,306.89 L79.55,306.89 L79.80,306.90 L80.05,306.90 L80.30,306.90 L80.55,306.91 L80.80,306.91 L81.05,306.92 L81.30,306.92 L81.55,306.92 L81.80,306.93 L82.05,306.93 L82.30,306.93 L82.55,306.94 L82.80,306.94 L83.05,306.95 L83.30,306.95 L83.55,306.95 L83.80,306.96 L84.05,306.96 L84.30,306.97 L84.55,306.97 L84.80,306.98 L85.05,306.98 L85.30,306.98 L85.55,306.99 L85.80,306.99 L86.05,307.00 L86.30,307.00 L86.55,307.01 L86.80,307.01 L87.05,307.02 L87.30,307.02 L87.55,307.02 L87.80,307.03 L88.05,307.03 L88.30,307.04 L88.55,307.04 L88.80,307.05 L89.05,307.05 L89.30,307.06 L89.55,307.06 L89.80,307.07 L90.05,307.07 L90.30,307.08 L90.55,307.08 L90.80,307.09 L91.05,307.09 L91.30,307.10 L91.55,307.10 L91.80,307.11 L92.05,307.11 L92.30,307.12 L92.55,307.12 L92.80,307.13 L93.05,307.13 L93.30,307.14 L93.55,307.14 L93.80,307.15 L94.05,307.15 L94.30,307.16 L94.55,307.17 L94.80,307.17 L95.05,307.18 L95.30,307.18 L95.55,307.19 L95.80,307.19 L96.05,307.20 L96.30,307.20 L96.55,307.21 L96.80,307.22 L97.05,307.22 L97.30,307.23 L97.55,307.23 L97.80,307.24 L98.05,307.24 L98.30,307.25 L98.55,307.26 L98.80,307.26 L99.05,307.27 L99.30,307.27 L99.55,307.28 L99.80,307.29 L100.05,307.29 L100.30,307.30 L100.55,307.30 L100.80,307.31 L101.05,307.32 L101.30,307.32 L101.55,307.33 L101.80,307.34 L102.05,307.34 L102.30,307.35 L102.55,307.36 L102.80,307.36 L103.05,307.37 L103.30,307.37 L103.55,307.38 L103.80,307.39 L104.05,307.39 L104.30,307.40 L104.55,307.41 L104.80,307.41 L105.05,307.42 L105.30,307.43 L105.55,307.43 L105.80,307.44 L106.05,307.45 L106.30,307.45 L106.55,307.46 L106.80,307.47 L107.05,307.47 L107.30,307.48 L107.55,307.49 L107.80,307.49 L108.05,307.50 L108.30,307.51 L108.55,307.52 L108.80,307.52 L109.05,307.53 L109.30,307.54 L109.55,307.54 L109.80,307.55 L110.05,307.56 L110.30,307.57 L110.55,307.57 L110.80,307.58 L111.05,307.59 L111.30,307.59 L111.50,307.60" fill="none" stroke="#8ab3a2" stroke-width="1.9" stroke-linejoin="round" stroke-linecap="round"/>
<path d="M30.80,325.30 L31.05,325.30 L31.30,325.30 L31.55,325.30 L31.80,325.29 L32.05,325.29 L32.30,325.28 L32.55,325.28 L32.80,325.27 L33.05,325.26 L33.30,325.25 L33.55,325.24 L33.80,325.23 L34.05,325.22 L34.30,325.21 L34.55,325.20 L34.80,325.19 L35.05,325.17 L35.30,325.16 L35.55,325.14 L35.80,325.12 L36.05,325.11 L36.30,325.09 L36.55,325.07 L36.80,325.05 L37.05,325.03 L37.30,325.01 L37.55,324.99 L37.80,324.97 L38.05,324.94 L38.30,324.92 L38.55,324.90 L38.80,324.87 L39.05,324.85 L39.30,324.82 L39.55,324.79 L39.80,324.76 L40.05,324.71 L40.30,324.64 L40.55,324.57 L40.80,324.48 L41.05,324.39 L41.30,324.28 L41.55,324.17 L41.80,324.05 L42.05,323.93 L42.30,323.80 L42.55,323.67 L42.80,323.53 L43.05,323.40 L43.30,323.26 L43.55,323.12 L43.80,322.99 L44.05,322.86 L44.30,322.73 L44.55,322.61 L44.80,322.49 L45.05,322.38 L45.30,322.28 L45.55,322.18 L45.80,322.10 L46.05,322.02 L46.30,321.93 L46.55,321.85 L46.80,321.76 L47.05,321.68 L47.30,321.59 L47.55,321.52 L47.80,321.45 L48.05,321.39 L48.30,321.35 L48.55,321.32 L48.80,321.30 L49.05,321.33 L49.30,321.47 L49.55,321.70 L49.80,321.95 L50.05,322.19 L50.30,322.35 L50.55,322.39 L50.80,322.02 L51.05,321.17 L51.30,319.93 L51.55,318.36 L51.80,316.55 L52.05,314.55 L52.30,312.45 L52.55,310.32 L52.80,308.24 L53.05,306.27 L53.30,304.50 L53.55,302.99 L53.80,301.82 L54.05,301.07 L54.30,300.80 L54.55,300.99 L54.80,301.52 L55.05,302.35 L55.30,303.45 L55.55,304.77 L55.80,306.28 L56.05,307.92 L56.30,309.67 L56.55,311.47 L56.80,313.29 L57.05,315.09 L57.30,316.82 L57.55,318.45 L57.80,319.94 L58.05,321.23 L58.30,322.30 L58.55,323.11 L58.80,323.60 L59.05,323.92 L59.30,324.22 L59.55,324.50 L59.80,324.74 L60.05,324.96 L60.30,325.14 L60.55,325.28 L60.80,325.37 L61.05,325.40 L61.30,325.42 L61.55,325.44 L61.80,325.46 L62.05,325.48 L62.30,325.50 L62.55,325.51 L62.80,325.53 L63.05,325.54 L63.30,325.56 L63.55,325.57 L63.80,325.59 L64.05,325.60 L64.30,325.61 L64.55,325.63 L64.80,325.64 L65.05,325.65 L65.30,325.66 L65.55,325.67 L65.80,325.68 L66.05,325.69 L66.30,325.70 L66.55,325.71 L66.80,325.72 L67.05,325.73 L67.30,325.74 L67.55,325.74 L67.80,325.75 L68.05,325.76 L68.30,325.77 L68.55,325.77 L68.80,325.78 L69.05,325.78 L69.30,325.79 L69.55,325.80 L69.80,325.80 L70.05,325.81 L70.30,325.81 L70.55,325.82 L70.80,325.82 L71.05,325.83 L71.30,325.83 L71.55,325.84 L71.80,325.84 L72.05,325.84 L72.30,325.85 L72.55,325.85 L72.80,325.86 L73.05,325.86 L73.30,325.86 L73.55,325.87 L73.80,325.87 L74.05,325.87 L74.30,325.88 L74.55,325.88 L74.80,325.89 L75.05,325.89 L75.30,325.89 L75.55,325.90 L75.80,325.90 L76.05,325.91 L76.30,325.91 L76.55,325.92 L76.80,325.92 L77.05,325.93 L77.30,325.93 L77.55,325.94 L77.80,325.94 L78.05,325.95 L78.30,325.95 L78.55,325.96 L78.80,325.97 L79.05,325.97 L79.30,325.98 L79.55,325.99 L79.80,325.99 L80.05,326.00 L80.30,326.01 L80.55,326.02 L80.80,326.03 L81.05,326.03 L81.30,326.04 L81.55,326.05 L81.80,326.06 L82.05,326.06 L82.30,326.07 L82.55,326.08 L82.80,326.09 L83.05,326.10 L83.30,326.10 L83.55,326.11 L83.80,326.12 L84.05,326.13 L84.30,326.14 L84.55,326.14 L84.80,326.15 L85.05,326.16 L85.30,326.17 L85.55,326.18 L85.80,326.18 L86.05,326.19 L86.30,326.20 L86.55,326.21 L86.80,326.22 L87.05,326.22 L87.30,326.23 L87.55,326.24 L87.80,326.25 L88.05,326.25 L88.30,326.26 L88.55,326.27 L88.80,326.28 L89.05,326.29 L89.30,326.29 L89.55,326.30 L89.80,326.31 L90.05,326.32 L90.30,326.33 L90.55,326.33 L90.80,326.34 L91.05,326.35 L91.30,326.36 L91.55,326.37 L91.80,326.37 L92.05,326.38 L92.30,326.39 L92.55,326.40 L92.80,326.41 L93.05,326.41 L93.30,326.42 L93.55,326.43 L93.80,326.44 L94.05,326.45 L94.30,326.45 L94.55,326.46 L94.80,326.47 L95.05,326.48 L95.30,326.48 L95.55,326.49 L95.80,326.50 L96.05,326.51 L96.30,326.52 L96.55,326.52 L96.80,326.53 L97.05,326.54 L97.30,326.55 L97.55,326.56 L97.80,326.56 L98.05,326.57 L98.30,326.58 L98.55,326.59 L98.80,326.60 L99.05,326.60 L99.30,326.61 L99.55,326.62 L99.80,326.63 L100.05,326.64 L100.30,326.64 L100.55,326.65 L100.80,326.66 L101.05,326.67 L101.30,326.68 L101.55,326.68 L101.80,326.69 L102.05,326.70 L102.30,326.71 L102.55,326.72 L102.80,326.72 L103.05,326.73 L103.30,326.74 L103.55,326.75 L103.80,326.75 L104.05,326.76 L104.30,326.77 L104.55,326.78 L104.80,326.79 L105.05,326.79 L105.30,326.80 L105.55,326.81 L105.80,326.82 L106.05,326.83 L106.30,326.83 L106.55,326.84 L106.80,326.85 L107.05,326.86 L107.30,326.87 L107.55,326.87 L107.80,326.88 L108.05,326.89 L108.30,326.90 L108.55,326.91 L108.80,326.91 L109.05,326.92 L109.30,326.93 L109.55,326.94 L109.80,326.95 L110.05,326.95 L110.30,326.96 L110.55,326.97 L110.80,326.98 L111.05,326.99 L111.30,326.99 L111.50,327.00" fill="none" stroke="#79a498" stroke-width="1.9" stroke-linejoin="round" stroke-linecap="round"/>
<path d="M30.80,344.40 L31.05,344.40 L31.30,344.40 L31.55,344.40 L31.80,344.41 L32.05,344.41 L32.30,344.41 L32.55,344.42 L32.80,344.42 L33.05,344.42 L33.30,344.43 L33.55,344.44 L33.80,344.44 L34.05,344.45 L34.30,344.46 L34.55,344.47 L34.80,344.47 L35.05,344.48 L35.30,344.49 L35.55,344.50 L35.80,344.51 L36.05,344.52 L36.30,344.53 L36.55,344.55 L36.80,344.56 L37.05,344.57 L37.30,344.58 L37.55,344.59 L37.80,344.61 L38.05,344.62 L38.30,344.63 L38.55,344.65 L38.80,344.66 L39.05,344.67 L39.30,344.69 L39.55,344.70 L39.80,344.72 L40.05,344.75 L40.30,344.78 L40.55,344.81 L40.80,344.85 L41.05,344.89 L41.30,344.94 L41.55,344.98 L41.80,345.02 L42.05,345.07 L42.30,345.11 L42.55,345.15 L42.80,345.19 L43.05,345.22 L43.30,345.25 L43.55,345.27 L43.80,345.29 L44.05,345.30 L44.30,345.29 L44.55,345.19 L44.80,345.00 L45.05,344.74 L45.30,344.43 L45.55,344.11 L45.80,343.79 L46.05,343.51 L46.30,343.27 L46.55,343.12 L46.80,343.04 L47.05,342.97 L47.30,342.92 L47.55,342.88 L47.80,342.84 L48.05,342.80 L48.30,342.76 L48.55,342.70 L48.80,342.63 L49.05,342.55 L49.30,342.44 L49.55,342.31 L49.80,342.15 L50.05,341.95 L50.30,341.72 L50.55,341.42 L50.80,340.54 L51.05,338.95 L51.30,336.82 L51.55,334.31 L51.80,331.60 L52.05,328.84 L52.30,326.21 L52.55,323.88 L52.80,322.00 L53.05,320.75 L53.30,320.30 L53.55,320.46 L53.80,320.94 L54.05,321.68 L54.30,322.67 L54.55,323.86 L54.80,325.23 L55.05,326.74 L55.30,328.35 L55.55,330.04 L55.80,331.77 L56.05,333.50 L56.30,335.21 L56.55,336.86 L56.80,338.41 L57.05,339.83 L57.30,341.10 L57.55,342.17 L57.80,343.01 L58.05,343.59 L58.30,343.90 L58.55,344.15 L58.80,344.38 L59.05,344.60 L59.30,344.81 L59.55,345.00 L59.80,345.17 L60.05,345.33 L60.30,345.46 L60.55,345.58 L60.80,345.67 L61.05,345.74 L61.30,345.78 L61.55,345.80 L61.80,345.81 L62.05,345.82 L62.30,345.84 L62.55,345.85 L62.80,345.86 L63.05,345.87 L63.30,345.88 L63.55,345.89 L63.80,345.90 L64.05,345.91 L64.30,345.92 L64.55,345.93 L64.80,345.94 L65.05,345.94 L65.30,345.95 L65.55,345.96 L65.80,345.97 L66.05,345.98 L66.30,345.99 L66.55,346.00 L66.80,346.00 L67.05,346.01 L67.30,346.02 L67.55,346.03 L67.80,346.04 L68.05,346.04 L68.30,346.05 L68.55,346.06 L68.80,346.07 L69.05,346.07 L69.30,346.08 L69.55,346.09 L69.80,346.09 L70.05,346.10 L70.30,346.10 L70.55,346.11 L70.80,346.12 L71.05,346.12 L71.30,346.13 L71.55,346.13 L71.80,346.14 L72.05,346.14 L72.30,346.15 L72.55,346.16 L72.80,346.16 L73.05,346.17 L73.30,346.17 L73.55,346.17 L73.80,346.18 L74.05,346.18 L74.30,346.19 L74.55,346.19 L74.80,346.20 L75.05,346.20 L75.30,346.20 L75.55,346.21 L75.80,346.21 L76.05,346.22 L76.30,346.22 L76.55,346.22 L76.80,346.23 L77.05,346.23 L77.30,346.23 L77.55,346.24 L77.80,346.24 L78.05,346.24 L78.30,346.25 L78.55,346.25 L78.80,346.25 L79.05,346.25 L79.30,346.26 L79.55,346.26 L79.80,346.26 L80.05,346.26 L80.30,346.26 L80.55,346.27 L80.80,346.27 L81.05,346.27 L81.30,346.27 L81.55,346.27 L81.80,346.28 L82.05,346.28 L82.30,346.28 L82.55,346.28 L82.80,346.28 L83.05,346.28 L83.30,346.28 L83.55,346.29 L83.80,346.29 L84.05,346.29 L84.30,346.29 L84.55,346.29 L84.80,346.29 L85.05,346.29 L85.30,346.29 L85.55,346.29 L85.80,346.29 L86.05,346.30 L86.30,346.30 L86.55,346.30 L86.80,346.30 L87.05,346.30 L87.30,346.30 L87.55,346.30 L87.80,346.30 L88.05,346.30 L88.30,346.30 L88.55,346.30 L88.80,346.30 L89.05,346.30 L89.30,346.30 L89.55,346.30 L89.80,346.30 L90.05,346.30 L90.30,346.30 L90.55,346.30 L90.80,346.30 L91.05,346.30 L91.30,346.30 L91.55,346.30 L91.80,346.30 L92.05,346.30 L92.30,346.30 L92.55,346.30 L92.80,346.30 L93.05,346.30 L93.30,346.30 L93.55,346.30 L93.80,346.30 L94.05,346.30 L94.30,346.30 L94.55,346.30 L94.80,346.30 L95.05,346.30 L95.30,346.30 L95.55,346.30 L95.80,346.30 L96.05,346.30 L96.30,346.30 L96.55,346.30 L96.80,346.30 L97.05,346.30 L97.30,346.30 L97.55,346.30 L97.80,346.30 L98.05,346.30 L98.30,346.30 L98.55,346.30 L98.80,346.30 L99.05,346.30 L99.30,346.30 L99.55,346.30 L99.80,346.30 L100.05,346.30 L100.30,346.30 L100.55,346.30 L100.80,346.30 L101.05,346.30 L101.30,346.30 L101.55,346.30 L101.80,346.30 L102.05,346.30 L102.30,346.30 L102.55,346.30 L102.80,346.30 L103.05,346.30 L103.30,346.30 L103.55,346.30 L103.80,346.30 L104.05,346.30 L104.30,346.30 L104.55,346.30 L104.80,346.30 L105.05,346.30 L105.30,346.30 L105.55,346.30 L105.80,346.30 L106.05,346.30 L106.30,346.30 L106.55,346.30 L106.80,346.30 L107.05,346.30 L107.30,346.30 L107.55,346.30 L107.80,346.30 L108.05,346.30 L108.30,346.30 L108.55,346.30 L108.80,346.30 L109.05,346.30 L109.30,346.30 L109.55,346.30 L109.80,346.30 L110.05,346.30 L110.30,346.30 L110.55,346.30 L110.80,346.30 L111.05,346.30 L111.30,346.30 L111.50,346.30" fill="none" stroke="#6b9790" stroke-width="1.9" stroke-linejoin="round" stroke-linecap="round"/>
<path d="M30.80,364.70 L31.05,364.70 L31.30,364.69 L31.55,364.68 L31.80,364.66 L32.05,364.64 L32.30,364.62 L32.55,364.59 L32.80,364.56 L33.05,364.53 L33.30,364.49 L33.55,364.45 L33.80,364.41 L34.05,364.36 L34.30,364.32 L34.55,364.27 L34.80,364.22 L35.05,364.17 L35.30,364.12 L35.55,364.06 L35.80,364.01 L36.05,363.95 L36.30,363.90 L36.55,363.83 L36.80,363.75 L37.05,363.64 L37.30,363.53 L37.55,363.40 L37.80,363.27 L38.05,363.13 L38.30,362.99 L38.55,362.86 L38.80,362.73 L39.05,362.61 L39.30,362.51 L39.55,362.42 L39.80,362.36 L40.05,362.31 L40.30,362.30 L40.55,362.34 L40.80,362.46 L41.05,362.62 L41.30,362.82 L41.55,363.03 L41.80,363.24 L42.05,363.41 L42.30,363.54 L42.55,363.60 L42.80,363.57 L43.05,363.47 L43.30,363.29 L43.55,363.07 L43.80,362.81 L44.05,362.53 L44.30,362.23 L44.55,361.95 L44.80,361.68 L45.05,361.45 L45.30,361.26 L45.55,361.14 L45.80,361.10 L46.05,361.11 L46.30,361.15 L46.55,361.20 L46.80,361.26 L47.05,361.33 L47.30,361.39 L47.55,361.44 L47.80,361.48 L48.05,361.50 L48.30,361.46 L48.55,361.33 L48.80,361.11 L49.05,360.81 L49.30,360.45 L49.55,360.05 L49.80,359.57 L50.05,358.51 L50.30,356.89 L50.55,354.84 L50.80,352.49 L51.05,349.99 L51.30,347.47 L51.55,345.07 L51.80,342.93 L52.05,341.18 L52.30,339.96 L52.55,339.42 L52.80,339.50 L53.05,339.89 L53.30,340.54 L53.55,341.43 L53.80,342.52 L54.05,343.78 L54.30,345.18 L54.55,346.69 L54.80,348.28 L55.05,349.92 L55.30,351.58 L55.55,353.23 L55.80,354.83 L56.05,356.36 L56.30,357.78 L56.55,359.06 L56.80,360.18 L57.05,361.10 L57.30,361.79 L57.55,362.28 L57.80,362.73 L58.05,363.17 L58.30,363.58 L58.55,363.97 L58.80,364.32 L59.05,364.62 L59.30,364.86 L59.55,365.05 L59.80,365.16 L60.05,365.20 L60.30,365.22 L60.55,365.23 L60.80,365.24 L61.05,365.25 L61.30,365.26 L61.55,365.27 L61.80,365.29 L62.05,365.30 L62.30,365.31 L62.55,365.32 L62.80,365.33 L63.05,365.34 L63.30,365.35 L63.55,365.35 L63.80,365.36 L64.05,365.37 L64.30,365.38 L64.55,365.39 L64.80,365.39 L65.05,365.40 L65.30,365.41 L65.55,365.42 L65.80,365.42 L66.05,365.43 L66.30,365.44 L66.55,365.44 L66.80,365.45 L67.05,365.45 L67.30,365.46 L67.55,365.46 L67.80,365.47 L68.05,365.47 L68.30,365.48 L68.55,365.48 L68.80,365.49 L69.05,365.49 L69.30,365.50 L69.55,365.50 L69.80,365.50 L70.05,365.51 L70.30,365.51 L70.55,365.51 L70.80,365.52 L71.05,365.52 L71.30,365.52 L71.55,365.53 L71.80,365.53 L72.05,365.53 L72.30,365.53 L72.55,365.54 L72.80,365.54 L73.05,365.54 L73.30,365.54 L73.55,365.55 L73.80,365.55 L74.05,365.55 L74.30,365.55 L74.55,365.55 L74.80,365.56 L75.05,365.56 L75.30,365.56 L75.55,365.56 L75.80,365.56 L76.05,365.57 L76.30,365.57 L76.55,365.57 L76.80,365.57 L77.05,365.57 L77.30,365.58 L77.55,365.58 L77.80,365.58 L78.05,365.58 L78.30,365.58 L78.55,365.59 L78.80,365.59 L79.05,365.59 L79.30,365.59 L79.55,365.60 L79.80,365.60 L80.05,365.60 L80.30,365.60 L80.55,365.61 L80.80,365.61 L81.05,365.61 L81.30,365.61 L81.55,365.62 L81.80,365.62 L82.05,365.62 L82.30,365.62 L82.55,365.63 L82.80,365.63 L83.05,365.63 L83.30,365.63 L83.55,365.64 L83.80,365.64 L84.05,365.64 L84.30,365.64 L84.55,365.64 L84.80,365.65 L85.05,365.65 L85.30,365.65 L85.55,365.65 L85.80,365.66 L86.05,365.66 L86.30,365.66 L86.55,365.66 L86.80,365.67 L87.05,365.67 L87.30,365.67 L87.55,365.67 L87.80,365.67 L88.05,365.68 L88.30,365.68 L88.55,365.68 L88.80,365.68 L89.05,365.69 L89.30,365.69 L89.55,365.69 L89.80,365.69 L90.05,365.69 L90.30,365.70 L90.55,365.70 L90.80,365.70 L91.05,365.70 L91.30,365.71 L91.55,365.71 L91.80,365.71 L92.05,365.71 L92.30,365.71 L92.55,365.72 L92.80,365.72 L93.05,365.72 L93.30,365.72 L93.55,365.72 L93.80,365.73 L94.05,365.73 L94.30,365.73 L94.55,365.73 L94.80,365.73 L95.05,365.73 L95.30,365.74 L95.55,365.74 L95.80,365.74 L96.05,365.74 L96.30,365.74 L96.55,365.74 L96.80,365.75 L97.05,365.75 L97.30,365.75 L97.55,365.75 L97.80,365.75 L98.05,365.75 L98.30,365.76 L98.55,365.76 L98.80,365.76 L99.05,365.76 L99.30,365.76 L99.55,365.76 L99.80,365.77 L100.05,365.77 L100.30,365.77 L100.55,365.77 L100.80,365.77 L101.05,365.77 L101.30,365.77 L101.55,365.77 L101.80,365.78 L102.05,365.78 L102.30,365.78 L102.55,365.78 L102.80,365.78 L103.05,365.78 L103.30,365.78 L103.55,365.78 L103.80,365.78 L104.05,365.79 L104.30,365.79 L104.55,365.79 L104.80,365.79 L105.05,365.79 L105.30,365.79 L105.55,365.79 L105.80,365.79 L106.05,365.79 L106.30,365.79 L106.55,365.79 L106.80,365.79 L107.05,365.79 L107.30,365.80 L107.55,365.80 L107.80,365.80 L108.05,365.80 L108.30,365.80 L108.55,365.80 L108.80,365.80 L109.05,365.80 L109.30,365.80 L109.55,365.80 L109.80,365.80 L110.05,365.80 L110.30,365.80 L110.55,365.80 L110.80,365.80 L111.05,365.80 L111.30,365.80 L111.50,365.80" fill="none" stroke="#618e8a" stroke-width="1.9" stroke-linejoin="round" stroke-linecap="round"/>
<path d="M30.80,383.00 L31.05,383.00 L31.30,383.00 L31.55,382.99 L31.80,382.98 L32.05,382.97 L32.30,382.96 L32.55,382.95 L32.80,382.94 L33.05,382.92 L33.30,382.90 L33.55,382.89 L33.80,382.87 L34.05,382.84 L34.30,382.82 L34.55,382.80 L34.80,382.77 L35.05,382.75 L35.30,382.72 L35.55,382.69 L35.80,382.66 L36.05,382.63 L36.30,382.60 L36.55,382.56 L36.80,382.52 L37.05,382.47 L37.30,382.41 L37.55,382.34 L37.80,382.27 L38.05,382.18 L38.30,382.09 L38.55,381.99 L38.80,381.89 L39.05,381.77 L39.30,381.66 L39.55,381.53 L39.80,381.40 L40.05,381.26 L40.30,381.11 L40.55,380.96 L40.80,380.80 L41.05,380.64 L41.30,380.47 L41.55,380.29 L41.80,380.11 L42.05,379.93 L42.30,379.74 L42.55,379.54 L42.80,379.30 L43.05,378.96 L43.30,378.53 L43.55,378.04 L43.80,377.51 L44.05,376.96 L44.30,376.41 L44.55,375.89 L44.80,375.41 L45.05,375.00 L45.30,374.68 L45.55,374.47 L45.80,374.40 L46.05,374.50 L46.30,374.78 L46.55,375.16 L46.80,375.59 L47.05,376.00 L47.30,376.35 L47.55,376.56 L47.80,376.57 L48.05,376.30 L48.30,375.75 L48.55,374.96 L48.80,373.97 L49.05,372.82 L49.30,371.54 L49.55,370.16 L49.80,368.72 L50.05,367.27 L50.30,365.82 L50.55,364.43 L50.80,363.13 L51.05,361.94 L51.30,360.92 L51.55,360.09 L51.80,359.49 L52.05,359.16 L52.30,359.12 L52.55,359.37 L52.80,359.86 L53.05,360.58 L53.30,361.47 L53.55,362.52 L53.80,363.70 L54.05,364.97 L54.30,366.30 L54.55,367.66 L54.80,369.02 L55.05,370.35 L55.30,371.63 L55.55,372.81 L55.80,373.87 L56.05,374.78 L56.30,375.50 L56.55,376.09 L56.80,376.63 L57.05,377.12 L57.30,377.58 L57.55,378.01 L57.80,378.44 L58.05,378.87 L58.30,379.32 L58.55,379.80 L58.80,380.35 L59.05,380.94 L59.30,381.55 L59.55,382.12 L59.80,382.64 L60.05,383.07 L60.30,383.36 L60.55,383.50 L60.80,383.48 L61.05,383.40 L61.30,383.28 L61.55,383.12 L61.80,382.93 L62.05,382.72 L62.30,382.49 L62.55,382.27 L62.80,382.05 L63.05,381.85 L63.30,381.68 L63.55,381.54 L63.80,381.44 L64.05,381.40 L64.30,381.40 L64.55,381.41 L64.80,381.43 L65.05,381.45 L65.30,381.47 L65.55,381.50 L65.80,381.53 L66.05,381.55 L66.30,381.57 L66.55,381.59 L66.80,381.60 L67.05,381.60 L67.30,381.58 L67.55,381.54 L67.80,381.47 L68.05,381.40 L68.30,381.31 L68.55,381.21 L68.80,381.11 L69.05,381.01 L69.30,380.92 L69.55,380.84 L69.80,380.77 L70.05,380.73 L70.30,380.70 L70.55,380.71 L70.80,380.79 L71.05,380.93 L71.30,381.11 L71.55,381.34 L71.80,381.59 L72.05,381.87 L72.30,382.15 L72.55,382.43 L72.80,382.71 L73.05,382.96 L73.30,383.19 L73.55,383.37 L73.80,383.51 L74.05,383.59 L74.30,383.60 L74.55,383.60 L74.80,383.59 L75.05,383.58 L75.30,383.57 L75.55,383.56 L75.80,383.54 L76.05,383.53 L76.30,383.51 L76.55,383.49 L76.80,383.47 L77.05,383.45 L77.30,383.43 L77.55,383.42 L77.80,383.40 L78.05,383.38 L78.30,383.36 L78.55,383.35 L78.80,383.33 L79.05,383.32 L79.30,383.31 L79.55,383.31 L79.80,383.30 L80.05,383.30 L80.30,383.30 L80.55,383.30 L80.80,383.30 L81.05,383.30 L81.30,383.30 L81.55,383.30 L81.80,383.30 L82.05,383.30 L82.30,383.30 L82.55,383.30 L82.80,383.30 L83.05,383.30 L83.30,383.30 L83.55,383.30 L83.80,383.30 L84.05,383.30 L84.30,383.30 L84.55,383.30 L84.80,383.30 L85.05,383.30 L85.30,383.30 L85.55,383.30 L85.80,383.30 L86.05,383.30 L86.30,383.30 L86.55,383.30 L86.80,383.30 L87.05,383.30 L87.30,383.30 L87.55,383.30 L87.80,383.30 L88.05,383.30 L88.30,383.30 L88.55,383.30 L88.80,383.30 L89.05,383.30 L89.30,383.31 L89.55,383.31 L89.80,383.31 L90.05,383.31 L90.30,383.31 L90.55,383.31 L90.80,383.31 L91.05,383.31 L91.30,383.31 L91.55,383.31 L91.80,383.31 L92.05,383.31 L92.30,383.31 L92.55,383.31 L92.80,383.31 L93.05,383.31 L93.30,383.32 L93.55,383.32 L93.80,383.32 L94.05,383.32 L94.30,383.32 L94.55,383.32 L94.80,383.32 L95.05,383.32 L95.30,383.32 L95.55,383.32 L95.80,383.33 L96.05,383.33 L96.30,383.33 L96.55,383.33 L96.80,383.33 L97.05,383.33 L97.30,383.33 L97.55,383.33 L97.80,383.34 L98.05,383.34 L98.30,383.34 L98.55,383.34 L98.80,383.34 L99.05,383.34 L99.30,383.35 L99.55,383.35 L99.80,383.35 L100.05,383.35 L100.30,383.35 L100.55,383.36 L100.80,383.36 L101.05,383.36 L101.30,383.36 L101.55,383.36 L101.80,383.37 L102.05,383.37 L102.30,383.37 L102.55,383.37 L102.80,383.38 L103.05,383.38 L103.30,383.38 L103.55,383.38 L103.80,383.39 L104.05,383.39 L104.30,383.39 L104.55,383.39 L104.80,383.40 L105.05,383.40 L105.30,383.40 L105.55,383.41 L105.80,383.41 L106.05,383.41 L106.30,383.42 L106.55,383.42 L106.80,383.42 L107.05,383.43 L107.30,383.43 L107.55,383.43 L107.80,383.44 L108.05,383.44 L108.30,383.45 L108.55,383.45 L108.80,383.45 L109.05,383.46 L109.30,383.46 L109.55,383.47 L109.80,383.47 L110.05,383.47 L110.30,383.48 L110.55,383.48 L110.80,383.49 L111.05,383.49 L111.30,383.50 L111.50,383.50" fill="none" stroke="#578584" stroke-width="1.9" stroke-linejoin="round" stroke-linecap="round"/>
<path d="M30.80,402.20 L31.05,402.10 L31.30,402.01 L31.55,401.91 L31.80,401.82 L32.05,401.73 L32.30,401.64 L32.55,401.56 L32.80,401.47 L33.05,401.39 L33.30,401.32 L33.55,401.24 L33.80,401.18 L34.05,401.11 L34.30,401.05 L34.55,400.99 L34.80,400.94 L35.05,400.89 L35.30,400.84 L35.55,400.80 L35.80,400.75 L36.05,400.70 L36.30,400.66 L36.55,400.61 L36.80,400.57 L37.05,400.53 L37.30,400.49 L37.55,400.45 L37.80,400.42 L38.05,400.39 L38.30,400.36 L38.55,400.34 L38.80,400.32 L39.05,400.31 L39.30,400.30 L39.55,400.30 L39.80,400.32 L40.05,400.37 L40.30,400.44 L40.55,400.53 L40.80,400.62 L41.05,400.71 L41.30,400.79 L41.55,400.85 L41.80,400.89 L42.05,400.90 L42.30,400.86 L42.55,400.77 L42.80,400.65 L43.05,400.50 L43.30,400.32 L43.55,400.14 L43.80,399.95 L44.05,399.77 L44.30,399.61 L44.55,399.47 L44.80,399.37 L45.05,399.31 L45.30,399.31 L45.55,399.40 L45.80,399.56 L46.05,399.76 L46.30,399.96 L46.55,400.14 L46.80,400.27 L47.05,400.29 L47.30,399.99 L47.55,399.29 L47.80,398.26 L48.05,396.94 L48.30,395.40 L48.55,393.68 L48.80,391.84 L49.05,389.93 L49.30,388.02 L49.55,386.15 L49.80,384.37 L50.05,382.75 L50.30,381.34 L50.55,380.19 L50.80,379.35 L51.05,378.88 L51.30,378.83 L51.55,379.11 L51.80,379.67 L52.05,380.49 L52.30,381.53 L52.55,382.76 L52.80,384.15 L53.05,385.67 L53.30,387.29 L53.55,388.98 L53.80,390.70 L54.05,392.43 L54.30,394.14 L54.55,395.79 L54.80,397.36 L55.05,398.80 L55.30,400.10 L55.55,401.22 L55.80,402.13 L56.05,402.80 L56.30,403.20 L56.55,403.30 L56.80,403.21 L57.05,403.02 L57.30,402.74 L57.55,402.41 L57.80,402.05 L58.05,401.68 L58.30,401.32 L58.55,401.00 L58.80,400.74 L59.05,400.56 L59.30,400.50 L59.55,400.58 L59.80,400.80 L60.05,401.11 L60.30,401.49 L60.55,401.89 L60.80,402.27 L61.05,402.61 L61.30,402.86 L61.55,402.99 L61.80,403.02 L62.05,403.04 L62.30,403.06 L62.55,403.08 L62.80,403.09 L63.05,403.11 L63.30,403.13 L63.55,403.15 L63.80,403.16 L64.05,403.18 L64.30,403.19 L64.55,403.21 L64.80,403.22 L65.05,403.24 L65.30,403.25 L65.55,403.26 L65.80,403.27 L66.05,403.29 L66.30,403.30 L66.55,403.31 L66.80,403.32 L67.05,403.33 L67.30,403.34 L67.55,403.35 L67.80,403.36 L68.05,403.37 L68.30,403.38 L68.55,403.39 L68.80,403.39 L69.05,403.40 L69.30,403.41 L69.55,403.42 L69.80,403.42 L70.05,403.43 L70.30,403.44 L70.55,403.44 L70.80,403.45 L71.05,403.45 L71.30,403.46 L71.55,403.47 L71.80,403.47 L72.05,403.48 L72.30,403.48 L72.55,403.48 L72.80,403.49 L73.05,403.49 L73.30,403.50 L73.55,403.50 L73.80,403.51 L74.05,403.51 L74.30,403.51 L74.55,403.52 L74.80,403.52 L75.05,403.52 L75.30,403.53 L75.55,403.53 L75.80,403.53 L76.05,403.54 L76.30,403.54 L76.55,403.55 L76.80,403.55 L77.05,403.55 L77.30,403.56 L77.55,403.56 L77.80,403.56 L78.05,403.57 L78.30,403.57 L78.55,403.57 L78.80,403.58 L79.05,403.58 L79.30,403.59 L79.55,403.59 L79.80,403.60 L80.05,403.60 L80.30,403.61 L80.55,403.61 L80.80,403.62 L81.05,403.62 L81.30,403.62 L81.55,403.63 L81.80,403.63 L82.05,403.64 L82.30,403.64 L82.55,403.65 L82.80,403.65 L83.05,403.66 L83.30,403.66 L83.55,403.67 L83.80,403.67 L84.05,403.68 L84.30,403.68 L84.55,403.69 L84.80,403.69 L85.05,403.70 L85.30,403.70 L85.55,403.70 L85.80,403.71 L86.05,403.71 L86.30,403.72 L86.55,403.72 L86.80,403.73 L87.05,403.73 L87.30,403.74 L87.55,403.74 L87.80,403.75 L88.05,403.75 L88.30,403.75 L88.55,403.76 L88.80,403.76 L89.05,403.77 L89.30,403.77 L89.55,403.78 L89.80,403.78 L90.05,403.78 L90.30,403.79 L90.55,403.79 L90.80,403.80 L91.05,403.80 L91.30,403.81 L91.55,403.81 L91.80,403.81 L92.05,403.82 L92.30,403.82 L92.55,403.83 L92.80,403.83 L93.05,403.83 L93.30,403.84 L93.55,403.84 L93.80,403.85 L94.05,403.85 L94.30,403.85 L94.55,403.86 L94.80,403.86 L95.05,403.86 L95.30,403.87 L95.55,403.87 L95.80,403.88 L96.05,403.88 L96.30,403.88 L96.55,403.89 L96.80,403.89 L97.05,403.89 L97.30,403.90 L97.55,403.90 L97.80,403.90 L98.05,403.91 L98.30,403.91 L98.55,403.91 L98.80,403.91 L99.05,403.92 L99.30,403.92 L99.55,403.92 L99.80,403.93 L100.05,403.93 L100.30,403.93 L100.55,403.94 L100.80,403.94 L101.05,403.94 L101.30,403.94 L101.55,403.95 L101.80,403.95 L102.05,403.95 L102.30,403.95 L102.55,403.96 L102.80,403.96 L103.05,403.96 L103.30,403.96 L103.55,403.96 L103.80,403.97 L104.05,403.97 L104.30,403.97 L104.55,403.97 L104.80,403.97 L105.05,403.98 L105.30,403.98 L105.55,403.98 L105.80,403.98 L106.05,403.98 L106.30,403.98 L106.55,403.99 L106.80,403.99 L107.05,403.99 L107.30,403.99 L107.55,403.99 L107.80,403.99 L108.05,403.99 L108.30,403.99 L108.55,403.99 L108.80,404.00 L109.05,404.00 L109.30,404.00 L109.55,404.00 L109.80,404.00 L110.05,404.00 L110.30,404.00 L110.55,404.00 L110.80,404.00 L111.05,404.00 L111.30,404.00 L111.50,404.00" fill="none" stroke="#47757a" stroke-width="1.9" stroke-linejoin="round" stroke-linecap="round"/>
<path d="M30.80,421.80 L31.05,421.73 L31.30,421.66 L31.55,421.59 L31.80,421.52 L32.05,421.46 L32.30,421.40 L32.55,421.34 L32.80,421.28 L33.05,421.23 L33.30,421.18 L33.55,421.13 L33.80,421.09 L34.05,421.05 L34.30,421.01 L34.55,420.97 L34.80,420.94 L35.05,420.91 L35.30,420.88 L35.55,420.86 L35.80,420.84 L36.05,420.83 L36.30,420.81 L36.55,420.81 L36.80,420.80 L37.05,420.80 L37.30,420.80 L37.55,420.81 L37.80,420.83 L38.05,420.84 L38.30,420.86 L38.55,420.89 L38.80,420.91 L39.05,420.93 L39.30,420.96 L39.55,420.99 L39.80,421.01 L40.05,421.03 L40.30,421.05 L40.55,421.07 L40.80,421.08 L41.05,421.09 L41.30,421.10 L41.55,421.09 L41.80,421.06 L42.05,421.00 L42.30,420.92 L42.55,420.82 L42.80,420.69 L43.05,420.55 L43.30,420.40 L43.55,420.23 L43.80,419.96 L44.05,419.37 L44.30,418.51 L44.55,417.41 L44.80,416.11 L45.05,414.65 L45.30,413.05 L45.55,411.38 L45.80,409.65 L46.05,407.90 L46.30,406.18 L46.55,404.52 L46.80,402.97 L47.05,401.54 L47.30,400.30 L47.55,399.26 L47.80,398.47 L48.05,397.97 L48.30,397.80 L48.55,397.91 L48.80,398.23 L49.05,398.75 L49.30,399.43 L49.55,400.27 L49.80,401.23 L50.05,402.31 L50.30,403.49 L50.55,404.74 L50.80,406.04 L51.05,407.38 L51.30,408.73 L51.55,410.08 L51.80,411.41 L52.05,412.69 L52.30,413.91 L52.55,415.05 L52.80,416.09 L53.05,417.00 L53.30,417.78 L53.55,418.40 L53.80,418.90 L54.05,419.40 L54.30,419.88 L54.55,420.33 L54.80,420.72 L55.05,421.04 L55.30,421.27 L55.55,421.39 L55.80,421.43 L56.05,421.46 L56.30,421.49 L56.55,421.52 L56.80,421.55 L57.05,421.58 L57.30,421.61 L57.55,421.64 L57.80,421.66 L58.05,421.69 L58.30,421.72 L58.55,421.74 L58.80,421.77 L59.05,421.79 L59.30,421.82 L59.55,421.84 L59.80,421.87 L60.05,421.89 L60.30,421.91 L60.55,421.93 L60.80,421.96 L61.05,421.98 L61.30,422.00 L61.55,422.02 L61.80,422.04 L62.05,422.06 L62.30,422.08 L62.55,422.10 L62.80,422.11 L63.05,422.13 L63.30,422.15 L63.55,422.17 L63.80,422.18 L64.05,422.20 L64.30,422.21 L64.55,422.23 L64.80,422.24 L65.05,422.26 L65.30,422.27 L65.55,422.29 L65.80,422.30 L66.05,422.31 L66.30,422.33 L66.55,422.34 L66.80,422.35 L67.05,422.36 L67.30,422.37 L67.55,422.38 L67.80,422.39 L68.05,422.40 L68.30,422.41 L68.55,422.42 L68.80,422.43 L69.05,422.44 L69.30,422.45 L69.55,422.46 L69.80,422.47 L70.05,422.47 L70.30,422.48 L70.55,422.49 L70.80,422.50 L71.05,422.50 L71.30,422.51 L71.55,422.52 L71.80,422.52 L72.05,422.53 L72.30,422.53 L72.55,422.54 L72.80,422.54 L73.05,422.55 L73.30,422.55 L73.55,422.55 L73.80,422.56 L74.05,422.56 L74.30,422.57 L74.55,422.57 L74.80,422.57 L75.05,422.58 L75.30,422.58 L75.55,422.58 L75.80,422.58 L76.05,422.59 L76.30,422.59 L76.55,422.59 L76.80,422.59 L77.05,422.59 L77.30,422.59 L77.55,422.59 L77.80,422.60 L78.05,422.60 L78.30,422.60 L78.55,422.60 L78.80,422.60 L79.05,422.60 L79.30,422.60 L79.55,422.60 L79.80,422.60 L80.05,422.60 L80.30,422.60 L80.55,422.60 L80.80,422.60 L81.05,422.60 L81.30,422.60 L81.55,422.60 L81.80,422.60 L82.05,422.60 L82.30,422.60 L82.55,422.60 L82.80,422.60 L83.05,422.60 L83.30,422.60 L83.55,422.60 L83.80,422.60 L84.05,422.60 L84.30,422.60 L84.55,422.60 L84.80,422.60 L85.05,422.60 L85.30,422.60 L85.55,422.60 L85.80,422.60 L86.05,422.60 L86.30,422.60 L86.55,422.60 L86.80,422.60 L87.05,422.60 L87.30,422.60 L87.55,422.60 L87.80,422.60 L88.05,422.60 L88.30,422.60 L88.55,422.60 L88.80,422.60 L89.05,422.60 L89.30,422.60 L89.55,422.60 L89.80,422.60 L90.05,422.60 L90.30,422.60 L90.55,422.60 L90.80,422.60 L91.05,422.60 L91.30,422.60 L91.55,422.60 L91.80,422.60 L92.05,422.60 L92.30,422.60 L92.55,422.60 L92.80,422.60 L93.05,422.60 L93.30,422.60 L93.55,422.60 L93.80,422.60 L94.05,422.60 L94.30,422.60 L94.55,422.60 L94.80,422.60 L95.05,422.60 L95.30,422.60 L95.55,422.60 L95.80,422.60 L96.05,422.60 L96.30,422.60 L96.55,422.60 L96.80,422.60 L97.05,422.60 L97.30,422.60 L97.55,422.60 L97.80,422.60 L98.05,422.60 L98.30,422.60 L98.55,422.60 L98.80,422.60 L99.05,422.60 L99.30,422.60 L99.55,422.60 L99.80,422.60 L100.05,422.60 L100.30,422.60 L100.55,422.60 L100.80,422.60 L101.05,422.60 L101.30,422.60 L101.55,422.60 L101.80,422.60 L102.05,422.60 L102.30,422.60 L102.55,422.60 L102.80,422.60 L103.05,422.60 L103.30,422.60 L103.55,422.60 L103.80,422.60 L104.05,422.60 L104.30,422.60 L104.55,422.60 L104.80,422.60 L105.05,422.60 L105.30,422.60 L105.55,422.60 L105.80,422.60 L106.05,422.60 L106.30,422.60 L106.55,422.60 L106.80,422.60 L107.05,422.60 L107.30,422.60 L107.55,422.60 L107.80,422.60 L108.05,422.60 L108.30,422.60 L108.55,422.60 L108.80,422.60 L109.05,422.60 L109.30,422.60 L109.55,422.60 L109.80,422.60 L110.05,422.60 L110.30,422.60 L110.55,422.60 L110.80,422.60 L111.05,422.60 L111.30,422.60 L111.50,422.60" fill="none" stroke="#2f5f6c" stroke-width="1.9" stroke-linejoin="round" stroke-linecap="round"/>
</g>
<text transform="translate(74.24,239.76) scale(1.0547,1)" font-size="13.66" font-weight="bold" font-style="normal" fill="#b2d9ba" >19.5</text>
<text transform="translate(74.23,262.87) scale(1.1210,1)" font-size="12.96" font-weight="bold" font-style="normal" fill="#a1c9b0" >17.0</text>
<text transform="translate(74.23,282.87) scale(1.1333,1)" font-size="12.82" font-weight="bold" font-style="normal" fill="#94bda8" >15.0</text>
<text transform="translate(74.24,302.27) scale(1.0769,1)" font-size="13.38" font-weight="bold" font-style="normal" fill="#8ab3a2" >13.5</text>
<text transform="translate(74.20,322.06) scale(1.1073,1)" font-size="13.52" font-weight="bold" font-style="normal" fill="#79a498" >11.0</text>
<text transform="translate(74.08,342.26) scale(1.0911,1)" font-size="13.52" font-weight="bold" font-style="normal" fill="#6b9790" >9.0</text>
<text transform="translate(74.01,361.76) scale(1.0353,1)" font-size="14.14" font-weight="bold" font-style="normal" fill="#618e8a" >7.5</text>
<text transform="translate(74.08,379.17) scale(1.1026,1)" font-size="13.38" font-weight="bold" font-style="normal" fill="#578584" >6.0</text>
<text transform="translate(74.24,398.87) scale(1.0935,1)" font-size="13.24" font-weight="bold" font-style="normal" fill="#47757a" >3.5</text>
<text transform="translate(74.01,419.97) scale(1.1186,1)" font-size="13.24" font-weight="bold" font-style="normal" fill="#2f5f6c" >0.0</text>
<rect x="30.9" y="213.9" width="81.1" height="219.4" fill="none" stroke="#000" stroke-width="1.2"/>
<path d="M31.10,433.3v-7M31.10,213.9v7M111.60,433.3v-7M111.60,213.9v7" stroke="#000" stroke-width="1.4" fill="none"/>
<path d="M30.9,217.60h7M112.0,217.60h-7M30.9,269.05h7M112.0,269.05h-7M30.9,320.50h7M112.0,320.50h-7M30.9,371.95h7M112.0,371.95h-7M30.9,423.40h7M112.0,423.40h-7" stroke="#000" stroke-width="1.4" fill="none"/>
<text transform="translate(39.68,232.83) scale(1.0492,1)" font-size="17.09" font-weight="normal" font-style="normal" fill="#000" stroke="#000" stroke-width="0.22" >c</text>
<text transform="translate(26.68,450.85) scale(1.0425,1)" font-size="14.79" font-weight="normal" font-style="normal" fill="#000" stroke="#000" stroke-width="0.22" >0</text>
<text transform="translate(94.64,450.85) scale(1.0487,1)" font-size="14.79" font-weight="normal" font-style="normal" fill="#000" stroke="#000" stroke-width="0.22" >1000</text>
<text transform="translate(23.69,471.90) scale(1.0998,1)" font-size="13.77" font-weight="normal" font-style="normal" fill="#000" stroke="#000" stroke-width="0.22" >Frequency (T)</text>
<text transform="translate(12.37,379.80) rotate(-90) scale(1.1799,1)" font-size="13.48" font-weight="normal" font-style="normal" fill="#000" stroke="#000" stroke-width="0.22" >Amplitude (arb.)</text>
<rect x="351.2" y="213.9" width="10.9" height="219.49999999999997" fill="#808080"/>
<clipPath id="clipd"><rect x="181.5" y="213.9" width="231.89999999999998" height="219.49999999999997"/></clipPath>
<g clip-path="url(#clipd)">
<circle cx="187.00" cy="403.4" r="5.6" fill="#2f5f6c"/>
<circle cx="226.59" cy="361.8" r="5.6" fill="#47757a"/>
<circle cx="254.86" cy="341.5" r="5.6" fill="#578584"/>
<circle cx="271.82" cy="333.4" r="5.6" fill="#618e8a"/>
<circle cx="288.79" cy="318.2" r="5.6" fill="#6b9790"/>
<circle cx="311.41" cy="297.6" r="5.6" fill="#79a498"/>
<circle cx="339.69" cy="271.7" r="5.6" fill="#8ab3a2"/>
<circle cx="356.65" cy="258.4" r="5.6" fill="#94bda8"/>
<circle cx="379.27" cy="249.7" r="5.6" fill="#a1c9b0"/>
<circle cx="407.55" cy="248.8" r="5.6" fill="#b2d9ba"/>
<path d="M181.60,406.64 L183.55,404.75 L185.49,402.87 L187.44,401.00 L189.38,399.14 L191.33,397.28 L193.28,395.44 L195.22,393.62 L197.17,391.80 L199.12,389.99 L201.06,388.20 L203.01,386.42 L204.95,384.66 L206.90,382.91 L208.85,381.17 L210.79,379.45 L212.74,377.74 L214.69,376.05 L216.63,374.38 L218.58,372.72 L220.52,371.09 L222.47,369.47 L224.42,367.87 L226.36,366.28 L228.31,364.72 L230.26,363.18 L232.20,361.65 L234.15,360.13 L236.09,358.63 L238.04,357.14 L239.99,355.65 L241.93,354.18 L243.88,352.70 L245.83,351.23 L247.77,349.77 L249.72,348.30 L251.66,346.83 L253.61,345.35 L255.56,343.87 L257.50,342.38 L259.45,340.88 L261.39,339.37 L263.34,337.85 L265.29,336.31 L267.23,334.77 L269.18,333.21 L271.13,331.64 L273.07,330.06 L275.02,328.48 L276.96,326.88 L278.91,325.27 L280.86,323.65 L282.80,322.03 L284.75,320.39 L286.70,318.75 L288.64,317.10 L290.59,315.44 L292.53,313.77 L294.48,312.10 L296.43,310.42 L298.37,308.73 L300.32,307.04 L302.27,305.34 L304.21,303.63 L306.16,301.92 L308.10,300.20 L310.05,298.48 L312.00,296.76 L313.94,295.03 L315.89,293.30 L317.84,291.57 L319.78,289.85 L321.73,288.13 L323.67,286.42 L325.62,284.72 L327.57,283.04 L329.51,281.37 L331.46,279.72 L333.41,278.10 L335.35,276.49 L337.30,274.92 L339.24,273.37 L341.19,271.85 L343.14,270.37 L345.08,268.93 L347.03,267.52 L348.97,266.15 L350.92,264.83 L352.87,263.56 L354.81,262.33 L356.76,261.15 L358.71,260.03 L360.65,258.95 L362.60,257.92 L364.54,256.94 L366.49,256.00 L368.44,255.11 L370.38,254.26 L372.33,253.45 L374.28,252.68 L376.22,251.95 L378.17,251.25 L380.11,250.59 L382.06,249.96 L384.01,249.36 L385.95,248.78 L387.90,248.24 L389.85,247.71 L391.79,247.20 L393.74,246.71 L395.68,246.23 L397.63,245.76 L399.58,245.30 L401.52,244.84 L403.47,244.39 L405.42,243.93 L407.36,243.47 L409.31,243.01 L411.25,242.53 L413.20,242.05" fill="none" stroke="#808080" stroke-width="2.1" stroke-dasharray="6.6 3.6"/>
</g>
<rect x="181.5" y="213.9" width="231.89999999999998" height="219.49999999999997" fill="none" stroke="#000" stroke-width="1.2"/>
<path d="M187.00,433.4v-7M187.00,213.9v7M243.55,433.4v-7M243.55,213.9v7M300.10,433.4v-7M300.10,213.9v7M356.65,433.4v-7M356.65,213.9v7" stroke="#000" stroke-width="1.4" fill="none"/>
<path d="M181.5,396.90h7M181.5,360.30h7M181.5,323.70h7M181.5,287.10h7M181.5,250.50h7M181.5,213.90h7" stroke="#000" stroke-width="1.4" fill="none"/>
<path d="M413.4,403.40h-7M413.4,371.20h-7M413.4,339.00h-7M413.4,306.80h-7M413.4,274.60h-7M413.4,242.40h-7" stroke="#000" stroke-width="1.4" fill="none"/>
<text transform="translate(148.10,438.75) scale(1.0527,1)" font-size="15.21" font-weight="normal" font-style="normal" fill="#000" stroke="#000" stroke-width="0.22" >200</text>
<text transform="translate(148.10,402.15) scale(1.0560,1)" font-size="15.21" font-weight="normal" font-style="normal" fill="#000" stroke="#000" stroke-width="0.22" >225</text>
<text transform="translate(148.10,365.55) scale(1.0527,1)" font-size="15.21" font-weight="normal" font-style="normal" fill="#000" stroke="#000" stroke-width="0.22" >250</text>
<text transform="translate(148.10,328.95) scale(1.0560,1)" font-size="15.21" font-weight="normal" font-style="normal" fill="#000" stroke="#000" stroke-width="0.22" >275</text>
<text transform="translate(148.26,292.35) scale(1.0461,1)" font-size="15.21" font-weight="normal" font-style="normal" fill="#000" stroke="#000" stroke-width="0.22" >300</text>
<text transform="translate(148.26,255.75) scale(1.0494,1)" font-size="15.21" font-weight="normal" font-style="normal" fill="#000" stroke="#000" stroke-width="0.22" >325</text>
<text transform="translate(148.26,219.15) scale(1.0461,1)" font-size="15.21" font-weight="normal" font-style="normal" fill="#000" stroke="#000" stroke-width="0.22" >350</text>
<text transform="translate(419.79,408.65) scale(1.0569,1)" font-size="15.21" font-weight="normal" font-style="normal" fill="#000" stroke="#000" stroke-width="0.22" >100</text>
<text transform="translate(419.74,376.45) scale(1.1067,1)" font-size="15.21" font-weight="normal" font-style="normal" fill="#000" stroke="#000" stroke-width="0.22" >110</text>
<text transform="translate(419.79,344.25) scale(1.0569,1)" font-size="15.21" font-weight="normal" font-style="normal" fill="#000" stroke="#000" stroke-width="0.22" >120</text>
<text transform="translate(419.79,312.05) scale(1.0569,1)" font-size="15.21" font-weight="normal" font-style="normal" fill="#000" stroke="#000" stroke-width="0.22" >130</text>
<text transform="translate(419.79,279.85) scale(1.0569,1)" font-size="15.21" font-weight="normal" font-style="normal" fill="#000" stroke="#000" stroke-width="0.22" >140</text>
<text transform="translate(419.79,247.65) scale(1.0569,1)" font-size="15.21" font-weight="normal" font-style="normal" fill="#000" stroke="#000" stroke-width="0.22" >150</text>
<text transform="translate(183.00,450.85) scale(1.0143,1)" font-size="14.79" font-weight="normal" font-style="normal" fill="#000" stroke="#000" stroke-width="0.22" >0</text>
<text transform="translate(239.54,450.85) scale(1.0105,1)" font-size="15.00" font-weight="normal" font-style="normal" fill="#000" stroke="#000" stroke-width="0.22" >5</text>
<text transform="translate(291.33,450.85) scale(1.0549,1)" font-size="14.79" font-weight="normal" font-style="normal" fill="#000" stroke="#000" stroke-width="0.22" >10</text>
<text transform="translate(347.87,450.85) scale(1.0452,1)" font-size="15.00" font-weight="normal" font-style="normal" fill="#000" stroke="#000" stroke-width="0.22" >15</text>
<text transform="translate(404.84,450.85) scale(1.0291,1)" font-size="14.79" font-weight="normal" font-style="normal" fill="#000" stroke="#000" stroke-width="0.22" >20</text>
<text transform="translate(244.58,471.68) scale(1.0975,1)" font-size="13.90" font-weight="normal" font-style="normal" fill="#000" stroke="#000" stroke-width="0.22" >Pressure (kbar)</text>
<text transform="translate(136.77,386.27) rotate(-90) scale(1.0383,1)" font-size="14.44" font-weight="normal" font-style="normal" fill="#000" stroke="#000" stroke-width="0.22" >QIO Frequency (T)</text>
<text transform="translate(464.15,406.88) rotate(-90) scale(1.1255,1)" font-size="13.58" font-weight="normal" font-style="normal" fill="#000" stroke="#000" stroke-width="0.22" >Warping Percentage (%)</text>
<text transform="translate(190.32,232.41) scale(1.0569,1)" font-size="18.50" font-weight="normal" font-style="normal" fill="#000" stroke="#000" stroke-width="0.22" >d</text>
<path d="M297.9,366.9 L335.5,335.3" stroke="#000" stroke-width="2.4" fill="none"/>
<path d="M345.9,324.2 L331.0,330.4 L340.2,339.0 Z" fill="#000"/>
<text transform="translate(278.95,375.16) scale(0.9854,1)" font-size="18.27" font-weight="normal" font-style="italic" fill="#000" stroke="#000" stroke-width="0.22" >p</text>
<text transform="translate(288.75,377.91) scale(0.9667,1)" font-size="8.55" font-weight="normal" font-style="italic" fill="#000" stroke="#000" stroke-width="0.22" >c</text>
<polygon points="499.90,268.50 574.10,268.50 592.30,312.40 574.10,356.30 499.90,356.30 481.70,312.40" fill="#72d0de"/>
<polygon points="499.90,356.30 574.10,356.30 592.30,400.20 574.10,444.10 499.90,444.10 481.70,400.20" fill="#72d0de"/>
<polygon points="592.20,224.40 666.40,224.40 684.60,268.30 666.40,312.20 592.20,312.20 574.00,268.30" fill="#72d0de"/>
<polygon points="592.20,312.30 666.40,312.30 684.60,356.20 666.40,400.10 592.20,400.10 574.00,356.20" fill="#72d0de"/>
<path d="M505.90,268.50 L509.70,312.40 505.90,356.30 L568.10,356.30 L564.30,312.40 568.10,268.50 Z" fill="#fff"/>
<rect x="510.80" y="268.50" width="52.4" height="87.80" fill="#f5b005" stroke="#000" stroke-width="0.7"/>
<path d="M505.90,268.50 L509.70,312.40 505.90,356.30 M568.10,356.30 L564.30,312.40 568.10,268.50" fill="none" stroke="#000" stroke-width="1.0"/>
<path d="M505.90,356.30 L509.70,400.20 505.90,444.10 L568.10,444.10 L564.30,400.20 568.10,356.30 Z" fill="#fff"/>
<rect x="510.80" y="356.30" width="52.4" height="87.80" fill="#f5b005" stroke="#000" stroke-width="0.7"/>
<path d="M505.90,356.30 L509.70,400.20 505.90,444.10 M568.10,444.10 L564.30,400.20 568.10,356.30" fill="none" stroke="#000" stroke-width="1.0"/>
<path d="M598.20,224.40 L602.00,268.30 598.20,312.20 L660.40,312.20 L656.60,268.30 660.40,224.40 Z" fill="#fff"/>
<rect x="603.10" y="224.40" width="52.4" height="87.80" fill="#f5b005" stroke="#000" stroke-width="0.7"/>
<path d="M598.20,224.40 L602.00,268.30 598.20,312.20 M660.40,312.20 L656.60,268.30 660.40,224.40" fill="none" stroke="#000" stroke-width="1.0"/>
<path d="M598.20,312.30 L602.00,356.20 598.20,400.10 L660.40,400.10 L656.60,356.20 660.40,312.30 Z" fill="#fff"/>
<rect x="603.10" y="312.30" width="52.4" height="87.80" fill="#f5b005" stroke="#000" stroke-width="0.7"/>
<path d="M598.20,312.30 L602.00,356.20 598.20,400.10 M660.40,400.10 L656.60,356.20 660.40,312.30" fill="none" stroke="#000" stroke-width="1.0"/>
<polygon points="499.90,268.50 574.10,268.50 592.30,312.40 574.10,356.30 499.90,356.30 481.70,312.40" fill="none" stroke="#000" stroke-width="1.1" stroke-linejoin="miter"/>
<polygon points="499.90,356.30 574.10,356.30 592.30,400.20 574.10,444.10 499.90,444.10 481.70,400.20" fill="none" stroke="#000" stroke-width="1.1" stroke-linejoin="miter"/>
<polygon points="592.20,224.40 666.40,224.40 684.60,268.30 666.40,312.20 592.20,312.20 574.00,268.30" fill="none" stroke="#000" stroke-width="1.1" stroke-linejoin="miter"/>
<polygon points="592.20,312.30 666.40,312.30 684.60,356.20 666.40,400.10 592.20,400.10 574.00,356.20" fill="none" stroke="#000" stroke-width="1.1" stroke-linejoin="miter"/>
<path d="M561.3,402.5 L561.3,313.5 C561.3,311.4 563.6,311.0 564.4,313.5 C566.6,320 571.3,338 571.5,355 C571.7,372 567.6,390 565.0,401.5 C564.3,404.4 561.3,404.4 561.3,402.5 Z" fill="#ff2020" stroke="#4a000d" stroke-width="2.8" stroke-linejoin="round"/>
<path d="M560.8,350.6 L556.8,364.2 L560.8,361.6 L565.6,363.4 Z M570.9,350.6 L567.0,363.4 L571.0,361.6 L575.2,364.2 Z" fill="#4a000d" stroke="#4a000d" stroke-width="0.6" stroke-linejoin="round"/>
<text transform="translate(493.20,232.91) scale(0.9316,1)" font-size="18.73" font-weight="normal" font-style="normal" fill="#000" stroke="#000" stroke-width="0.1" >e</text>
<circle cx="529.9" cy="245.8" r="9.9" fill="none" stroke="#000" stroke-width="1.5"/>
<circle cx="529.9" cy="245.8" r="4.1" fill="#000"/>
<text transform="translate(548.26,251.41) scale(0.8420,1)" font-size="18.91" font-weight="normal" font-style="normal" fill="#000" stroke="#000" stroke-width="0.1" >a</text>
<path d="M549.6,237.6 L552.9,233.6 L556.2,237.6" fill="none" stroke="#000" stroke-width="1.1"/>
<text transform="translate(492.50,317.42) scale(0.7984,1)" font-size="17.82" font-weight="normal" font-style="italic" fill="#000" stroke="#000" stroke-width="0.1" >e</text>
<path d="M501.4,307.4 h2.2" stroke="#000" stroke-width="0.9"/>
<text transform="translate(621.53,258.90) scale(0.9273,1)" font-size="19.17" font-weight="normal" font-style="italic" fill="#000" stroke="#000" stroke-width="0.1" >h</text>
<text transform="translate(630.94,251.86) scale(1.0492,1)" font-size="10.61" font-weight="normal" font-style="normal" fill="#000" stroke="#000" stroke-width="0.1" >+</text>
<path d="M598.7,421.5 C597.8,420.6 596.3,420.9 595.9,422.7 L593.9,432.1 C593.5,433.9 592.3,434.4 591.2,433.6 M593.2,424.6 H597.4" fill="none" stroke="#000" stroke-width="1.25"/>
<path d="M598.9,428.0 C600.3,425.0 602.3,425.3 603.5,426.5 C604.7,427.7 606.6,427.8 608.1,425.1" fill="none" stroke="#000" stroke-width="1.25" stroke-linecap="round"/>
<text transform="translate(615.72,431.10) scale(1.2308,1)" font-size="14.29" font-weight="normal" font-style="normal" fill="#000" stroke="#000" stroke-width="0.1" >2</text>
<text transform="translate(624.91,431.10) scale(1.2462,1)" font-size="14.29" font-weight="normal" font-style="normal" fill="#000" stroke="#000" stroke-width="0.1" >2</text>
<text transform="translate(635.05,430.96) scale(1.1537,1)" font-size="14.08" font-weight="normal" font-style="normal" fill="#000" stroke="#000" stroke-width="0.1" >0</text>
<text transform="translate(650.72,431.10) scale(0.9684,1)" font-size="14.49" font-weight="normal" font-style="normal" fill="#000" stroke="#000" stroke-width="0.1" >T</text>
</svg></body></html>
